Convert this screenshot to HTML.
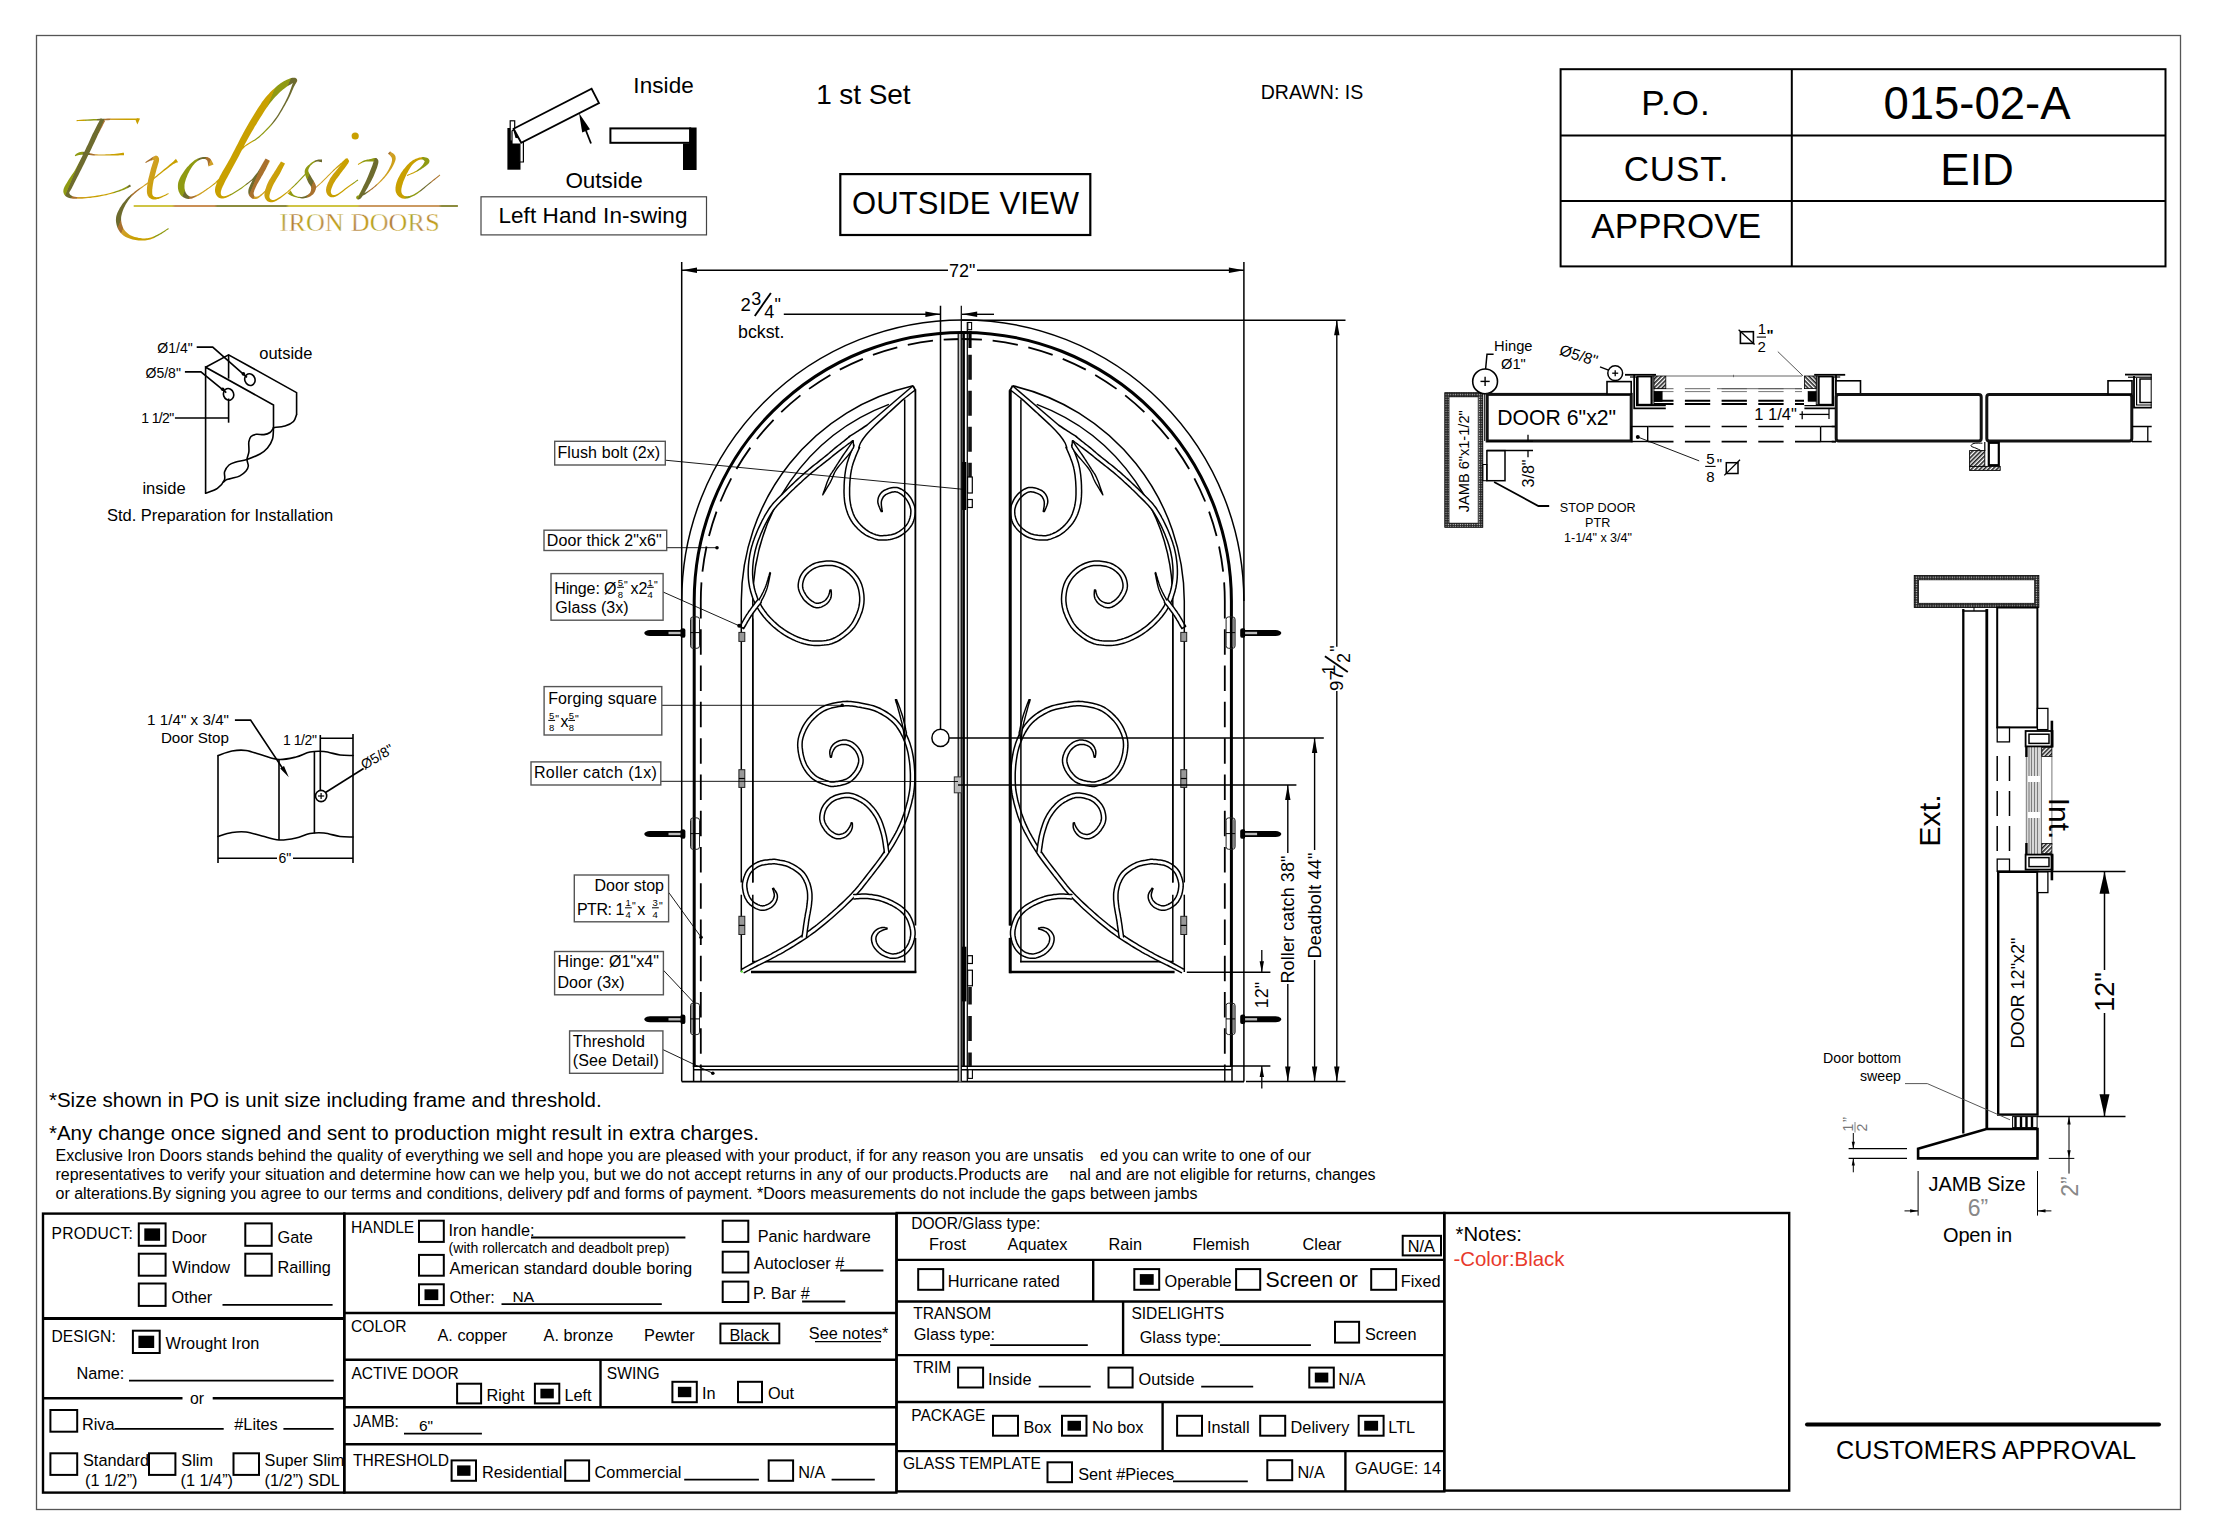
<!DOCTYPE html>
<html><head><meta charset="utf-8"><title>Door shop drawing</title>
<style>
html,body{margin:0;padding:0;background:#fff;}
body{width:2214px;height:1524px;overflow:hidden;}
svg{display:block;font-family:"Liberation Sans",sans-serif;}
</style></head><body>
<svg width="2214" height="1524" viewBox="0 0 2214 1524">
<rect width="2214" height="1524" fill="#fff"/>
<defs>
<linearGradient id="gold" gradientUnits="userSpaceOnUse" x1="0" y1="0" x2="50" y2="21" spreadMethod="repeat">
<stop offset="0" stop-color="#c9a000"/><stop offset="0.30" stop-color="#c9a000"/><stop offset="0.31" stop-color="#8f9a12"/><stop offset="0.5" stop-color="#8f9a12"/><stop offset="0.51" stop-color="#6d6b2e"/><stop offset="0.62" stop-color="#6d6b2e"/><stop offset="0.63" stop-color="#a9712e"/><stop offset="0.72" stop-color="#a9712e"/><stop offset="0.73" stop-color="#d1a02c"/><stop offset="1" stop-color="#c9a000"/>
</linearGradient>
<linearGradient id="gold2" gradientUnits="userSpaceOnUse" x1="133" y1="0" x2="458" y2="0">
<stop offset="0" stop-color="#cfc445"/><stop offset="0.12" stop-color="#cfc445"/><stop offset="0.13" stop-color="#c98f55"/><stop offset="0.25" stop-color="#c98f55"/><stop offset="0.26" stop-color="#8c8b3e"/><stop offset="0.47" stop-color="#8c8b3e"/><stop offset="0.48" stop-color="#cfc445"/><stop offset="0.69" stop-color="#cfc445"/><stop offset="0.70" stop-color="#cb9a62"/><stop offset="0.94" stop-color="#cb9a62"/><stop offset="0.95" stop-color="#8c8b3e"/><stop offset="1" stop-color="#8c8b3e"/>
</linearGradient>
<linearGradient id="gold3" gradientUnits="userSpaceOnUse" x1="0" y1="0" x2="30" y2="9" spreadMethod="repeat">
<stop offset="0" stop-color="#b07a3a"/><stop offset="0.3" stop-color="#c6a11c"/><stop offset="0.6" stop-color="#a9a52a"/><stop offset="0.8" stop-color="#c9a85a"/><stop offset="1" stop-color="#b07a3a"/>
</linearGradient>
<pattern id="hatch" width="3" height="3" patternUnits="userSpaceOnUse" patternTransform="rotate(-45)"><rect width="3" height="3" fill="#fff"/><rect width="3" height="1.6" fill="#222"/></pattern>
<pattern id="dots" width="2.4" height="2.4" patternUnits="userSpaceOnUse"><rect width="2.4" height="2.4" fill="#222"/><rect x="0.6" y="0.6" width="1.1" height="1.1" fill="#ddd"/></pattern>
</defs>
<!-- part_header -->
<rect x="36.5" y="35.5" width="2144" height="1474" stroke="#555" stroke-width="1.3" fill="none" />
<g fill="url(#gold)">
<path d="M76.6 121.2L78.5 121.1L80.9 121L83.8 120.9L87.1 120.8L90.5 120.7L93.9 120.6L97.1 120.5L100 120.4L102.7 120.3L105.3 120.2L107.8 120.2L110.3 120.1L112.8 120L115.2 120L117.6 119.9L120 119.9L122.5 119.9L125.2 119.9L127.9 119.9L130.5 119.9L133 119.9L135.2 120L137.1 120L138.5 120L138.5 118.4L137.1 118.4L135.2 118.4L133 118.4L130.5 118.4L127.9 118.4L125.2 118.5L122.5 118.5L120 118.5L117.6 118.5L115.2 118.5L112.7 118.6L110.3 118.6L107.8 118.6L105.3 118.7L102.6 118.7L100 118.8L97 118.9L93.8 119.1L90.4 119.2L87 119.4L83.8 119.6L80.9 119.8L78.4 119.9L76.6 120Z"/>
<path d="M137 118.2L140 118.4L137.4 124.5L135.6 120.2Z"/>
<path d="M100.8 118.3L100.2 119.3L99.5 120.7L98.7 122.2L97.7 124L96.7 125.9L95.7 127.9L94.7 129.9L93.7 131.9L92.7 133.8L91.8 135.8L90.8 137.9L89.9 140L88.9 142.2L87.9 144.4L86.8 146.6L85.7 148.9L84.6 151.3L83.4 153.8L82.1 156.4L80.8 159L79.5 161.6L78.2 164.1L76.9 166.5L75.7 168.8L74.5 170.9L73.2 172.9L71.9 174.8L70.6 176.7L69.4 178.5L68.3 180.2L67.3 181.9L66.4 183.4L65.7 184.6L65.1 185.8L64.5 186.8L64 187.9L63.6 189L63.4 190.3L63.3 191.7L63.6 193.1L64.1 194.3L64.8 195.3L65.7 196.2L66.8 196.9L67.9 197.5L69.1 197.9L70.3 198.3L71.7 198.5L73.1 198.7L74.7 198.8L76.4 198.8L78.2 198.8L80.1 198.8L82.1 198.7L84 198.5L86.1 198.3L88.1 198.1L90.3 197.9L92.6 197.6L95 197.3L97.3 196.9L99.7 196.5L101.9 196.1L104.1 195.6L106.3 195.2L108.4 194.6L110.6 194.1L112.6 193.5L114.7 192.9L116.6 192.3L118.5 191.7L120.2 191.2L121.9 190.5L123.6 189.9L125.2 189.2L126.7 188.5L128 187.9L129.2 187.3L130.2 186.8L131 186.5L130 184.5L129.2 184.9L128.3 185.5L127.1 186.2L125.8 186.9L124.4 187.7L122.9 188.5L121.4 189.2L119.8 189.8L118.1 190.5L116.2 191.1L114.3 191.7L112.3 192.3L110.2 192.9L108.1 193.4L106 193.9L103.9 194.4L101.7 194.8L99.4 195.2L97.1 195.6L94.8 195.9L92.5 196.2L90.2 196.5L88 196.7L85.9 196.9L84 196.9L82 197L80.1 197L78.2 197L76.5 196.9L74.9 196.7L73.5 196.5L72.3 196.1L71.3 195.6L70.6 195L70 194.4L69.6 193.8L69.4 193.2L69.3 192.7L69.4 192.2L69.4 191.9L69.6 191.8L69.7 191.7L69.9 191.4L70.2 190.9L70.7 190.1L71.2 189.2L71.9 188L72.6 186.6L73.3 185.2L74.1 183.6L75 181.8L76 179.8L77 177.8L78.1 175.7L79.2 173.5L80.3 171.2L81.5 168.9L82.7 166.4L84 163.9L85.3 161.2L86.6 158.6L87.8 156L89.1 153.5L90.3 151.1L91.4 148.8L92.4 146.5L93.5 144.3L94.5 142.2L95.5 140.1L96.5 138L97.4 136.1L98.3 134.1L99.3 132.2L100.3 130.2L101.3 128.3L102.3 126.4L103.2 124.6L104 123L104.7 121.7L105.2 120.7Z"/>
<path d="M75.2 156.2L75.8 156L76.5 155.8L77.3 155.6L78.1 155.3L79.1 155.1L80 154.9L81 154.8L82.1 154.7L83.2 154.7L84.6 154.7L86.2 154.8L87.8 155L89.6 155.1L91.3 155.3L93.2 155.4L95 155.4L96.8 155.5L98.6 155.5L100.5 155.5L102.4 155.5L104.4 155.5L106.3 155.5L108.2 155.5L110 155.4L111.9 155.4L113.9 155.4L116 155.4L118 155.4L119.9 155.3L121.6 155.3L123 155.3L124.1 155.3L123.9 152.7L122.8 152.8L121.4 153L119.7 153.2L117.9 153.4L115.9 153.7L113.9 153.9L111.9 154L110 154.2L108.1 154.2L106.3 154.3L104.4 154.4L102.4 154.4L100.5 154.4L98.6 154.4L96.8 154.3L95 154.2L93.3 153.9L91.6 153.6L89.9 153.2L88.2 152.7L86.5 152.3L84.9 152L83.4 151.8L81.9 151.7L80.6 151.9L79.3 152.2L78.2 152.7L77.2 153.3L76.4 153.8L75.8 154.4L75.2 154.8L74.8 155Z"/>
<path d="M145.8 163L146.2 162.8L146.8 162.5L147.5 162.1L148.2 161.7L149.1 161.3L149.9 160.9L150.6 160.6L151.4 160.4L152.2 160.2L153.1 160L154 159.8L154.9 159.8L155.4 159.8L155.5 160L154.7 159.8L154.1 159.1L153.9 159.1L153.8 159.9L153.4 161.1L153 162.5L152.4 164.1L151.9 165.8L151.3 167.6L150.8 169.3L150.4 171L149.9 172.7L149.5 174.6L149 176.4L148.5 178.3L148.1 180.1L147.8 181.9L147.5 183.6L147.3 185.1L147.1 186.6L147 188.1L146.9 189.5L146.9 190.8L146.9 192.1L147.1 193.4L147.4 194.6L147.8 195.7L148.4 196.6L149 197.4L149.8 198.1L150.6 198.6L151.4 199L152.2 199.2L153 199.4L153.9 199.5L154.8 199.6L155.7 199.5L156.6 199.3L157.4 199.1L158.4 198.9L159.3 198.6L160.2 198.2L161.3 197.8L162.4 197.2L163.7 196.6L164.9 196L166.1 195.4L167.2 194.8L168.1 194.3L168.7 193.9L168.3 193.1L167.6 193.4L166.7 193.8L165.6 194.4L164.4 195L163.2 195.5L161.9 196.1L160.8 196.5L159.8 196.8L158.9 197L158 197.1L157.1 197.2L156.3 197.2L155.6 197.1L155 197L154.4 196.8L154 196.6L153.5 196.3L153.2 195.9L152.9 195.6L152.6 195.2L152.5 194.8L152.4 194.4L152.3 194L152.2 193.4L152.2 192.7L152.2 191.9L152.2 190.9L152.2 189.8L152.4 188.5L152.5 187.2L152.7 185.9L152.9 184.4L153.2 182.9L153.5 181.3L153.9 179.6L154.4 177.8L154.8 175.9L155.3 174.1L155.8 172.3L156.2 170.7L156.6 169.1L157.1 167.5L157.6 165.8L158.1 164.1L158.6 162.5L159 161L159.1 159.5L158.9 157.9L157.8 156.2L156 155.6L154.7 155.9L153.7 156.4L152.8 157L152 157.6L151.3 158.1L150.6 158.6L149.9 159L149.1 159.5L148.3 160L147.6 160.6L146.8 161.1L146.2 161.5L145.6 161.9L145.2 162.2Z"/>
<path d="M175.9 158.8L175.7 159.1L175.4 159.4L175 159.8L174.5 160.2L174 160.8L173.4 161.4L172.7 162L171.9 162.7L171 163.5L170 164.3L168.9 165.2L167.8 166.2L166.6 167.2L165.3 168.2L163.9 169.3L162.6 170.5L161.1 171.7L159.6 173L157.9 174.3L156.3 175.7L154.6 177.1L152.9 178.5L151.2 179.8L149.6 181L148.1 182.2L146.5 183.3L145 184.3L143.5 185.4L142 186.4L140.5 187.4L139 188.4L137.6 189.5L136.2 190.6L134.8 191.6L133.5 192.7L132.1 193.7L130.8 194.8L129.6 195.9L128.3 197.1L127.2 198.3L126 199.5L124.9 200.9L123.8 202.2L122.7 203.6L121.7 205L120.8 206.4L119.9 207.8L119.2 209.2L118.5 210.5L117.9 211.8L117.3 213.1L116.8 214.5L116.4 215.8L116.1 217.2L116 218.6L115.9 220.1L116 221.5L116.2 223L116.5 224.5L116.9 226L117.4 227.4L117.9 228.8L118.6 230.1L119.4 231.3L120.2 232.5L121.2 233.5L122.2 234.5L123.3 235.4L124.5 236.2L125.7 236.9L126.9 237.5L128.2 238.1L129.6 238.6L131 239.1L132.5 239.5L134 239.8L135.5 240L137 240.2L138.5 240.4L139.9 240.5L141.2 240.6L142.5 240.6L143.8 240.5L145.1 240.4L146.4 240.3L147.7 240.1L149 239.8L150.2 239.5L151.5 239L152.8 238.5L154.1 237.9L155.4 237.3L156.7 236.6L157.9 235.9L159.1 235.2L160.3 234.6L161.5 233.9L162.7 233.1L164 232.2L165.2 231.4L166.3 230.6L167.3 229.9L168.1 229.4L168.8 228.9L168.2 228.1L167.6 228.5L166.7 229.1L165.7 229.8L164.6 230.5L163.4 231.3L162.1 232L160.9 232.8L159.7 233.4L158.5 234.1L157.3 234.7L156 235.3L154.8 235.9L153.5 236.5L152.2 237L151 237.4L149.8 237.7L148.6 238L147.4 238.2L146.2 238.3L145 238.4L143.8 238.4L142.6 238.4L141.4 238.3L140.1 238.1L138.8 237.9L137.5 237.6L136.1 237.3L134.7 236.9L133.3 236.5L132.1 236L130.9 235.5L129.8 234.9L128.8 234.3L127.9 233.6L127 232.8L126.2 232L125.4 231.2L124.8 230.4L124.1 229.5L123.6 228.7L123.1 227.7L122.7 226.7L122.3 225.6L121.9 224.5L121.6 223.3L121.4 222.1L121.2 221L121.1 219.9L121.1 218.9L121.1 217.8L121.2 216.8L121.4 215.7L121.7 214.5L122 213.3L122.4 212.1L122.8 210.8L123.3 209.5L123.9 208.1L124.6 206.7L125.3 205.3L126.1 203.8L127 202.4L127.9 201L128.8 199.7L129.8 198.5L130.9 197.3L132 196.1L133.2 195L134.5 193.8L135.7 192.7L137.1 191.6L138.4 190.5L139.8 189.4L141.2 188.4L142.6 187.4L144.1 186.3L145.7 185.3L147.2 184.2L148.8 183.1L150.4 182L152 180.7L153.6 179.4L155.3 178.1L157.1 176.7L158.7 175.3L160.4 174L162 172.7L163.4 171.5L164.8 170.5L166.2 169.4L167.5 168.4L168.8 167.4L170 166.5L171.1 165.7L172.1 164.9L173.1 164.3L174 163.8L174.8 163.4L175.5 163.1L176.2 162.8L176.7 162.6L177.3 162.5L177.7 162.3L178.1 162.2Z"/>
<path d="M213.6 164.6L213.4 164.2L213.1 163.6L212.7 162.8L212.3 161.9L211.8 160.9L211.2 159.9L210.5 159L209.7 158.3L208.9 157.7L208.1 157.4L207.3 157.1L206.4 157L205.6 156.9L204.7 156.9L203.8 157L202.9 157.1L201.9 157.3L200.9 157.5L199.9 157.8L198.8 158.2L197.7 158.6L196.5 159.2L195.4 159.8L194.2 160.6L193.1 161.4L191.9 162.4L190.7 163.5L189.6 164.6L188.4 165.9L187.2 167.1L186.1 168.5L185.1 169.8L184.1 171.2L183.1 172.7L182.1 174.2L181.1 175.8L180.2 177.4L179.5 179L178.8 180.7L178.3 182.3L178 183.9L177.9 185.5L177.9 187.1L178 188.6L178.3 190L178.7 191.4L179.2 192.6L179.8 193.8L180.6 194.9L181.5 195.9L182.6 196.7L183.7 197.4L184.8 198L185.9 198.4L187 198.7L188.1 198.9L189.2 198.9L190.2 198.8L191.2 198.7L192.2 198.4L193.2 198.1L194.2 197.6L195.2 197.2L196.3 196.7L197.4 196.1L198.7 195.4L199.9 194.7L201.2 193.9L202.5 193L203.8 192.2L205.1 191.3L206.3 190.5L207.6 189.6L209 188.6L210.4 187.6L211.7 186.6L213 185.6L214.1 184.7L215.1 184L215.8 183.4L215.2 182.6L214.4 183.1L213.5 183.8L212.3 184.7L211 185.7L209.7 186.7L208.3 187.7L206.9 188.6L205.7 189.5L204.4 190.3L203.1 191.2L201.8 192L200.5 192.8L199.3 193.6L198 194.3L196.8 194.8L195.7 195.3L194.6 195.7L193.6 196L192.7 196.2L191.8 196.4L191 196.4L190.2 196.4L189.5 196.2L188.9 195.9L188.2 195.6L187.6 195.1L187 194.5L186.5 193.8L186.1 193.2L185.7 192.5L185.4 191.8L185.2 191.2L185 190.5L184.8 189.6L184.6 188.7L184.5 187.8L184.5 186.8L184.5 185.8L184.5 184.7L184.7 183.7L184.9 182.5L185.3 181.2L185.7 179.7L186.2 178.2L186.9 176.7L187.5 175.1L188.2 173.6L188.9 172.2L189.6 170.8L190.4 169.5L191.3 168.1L192.1 166.8L193 165.5L193.9 164.4L194.9 163.3L195.8 162.4L196.7 161.7L197.6 161L198.5 160.4L199.5 159.9L200.5 159.5L201.4 159.2L202.3 159L203.1 158.9L203.9 158.9L204.6 158.9L205.2 159.1L205.8 159.4L206.2 159.7L206.7 160L207 160.4L207.3 160.7L207.4 161.1L207.6 161.7L207.8 162.5L207.9 163.3L208 164.2L208.2 165L208.3 165.8L208.4 166.4Z"/>
<path d="M215.9 183.4L216.9 182.3L218.1 181L219.6 179.5L221.2 177.7L223 175.8L224.9 173.7L226.7 171.6L228.5 169.4L230.2 167L232.1 164.3L233.9 161.5L235.8 158.6L237.7 155.8L239.6 153.1L241.5 150.6L243.4 148.4L245.3 146.6L247.3 145.2L249.2 143.9L251.2 142.8L253.3 141.6L255.3 140.4L257.3 139.1L259.4 137.5L261.4 135.6L263.5 133.7L265.6 131.6L267.7 129.5L269.8 127.3L271.8 125L273.7 122.7L275.5 120.4L277.3 118L279 115.4L280.6 112.8L282.2 110.2L283.7 107.5L285.2 105L286.5 102.6L287.7 100.4L288.8 98.3L289.8 96.2L290.7 94.3L291.5 92.5L292.2 90.7L292.9 89.2L293.5 87.7L294.1 86.5L294.7 85.4L295.2 84.5L295.7 83.7L296.1 83L296.5 82.4L296.9 81.8L297.2 81L297.2 80.1L296.8 79L296 78.3L295.1 77.8L294.2 77.7L293.3 77.7L292.4 77.8L291.4 78L290.4 78.3L289.3 78.7L288.1 79.2L286.8 79.7L285.3 80.4L283.8 81.3L282.2 82.2L280.6 83.3L279 84.5L277.3 85.8L275.7 87.2L274 88.7L272.2 90.3L270.4 92.1L268.7 93.9L267 95.8L265.3 97.8L263.6 99.9L262 102.1L260.5 104.4L258.9 106.7L257.4 109.1L255.9 111.5L254.5 113.8L253 116.2L251.6 118.5L250.2 120.8L248.9 123.1L247.5 125.5L246.2 127.8L244.8 130.3L243.4 132.8L242 135.4L240.6 138.1L239.1 141L237.6 143.9L236 146.9L234.5 149.9L233 152.8L231.5 155.7L230.1 158.4L228.6 161.1L227.1 163.8L225.5 166.4L224 169.1L222.5 171.6L221.2 174L219.9 176.3L218.9 178.5L218 180.4L217.2 182.1L216.5 183.7L216 185.2L215.5 186.6L215.2 188L215 189.4L215 190.9L215.2 192.3L215.6 193.6L216.1 194.8L216.8 195.8L217.6 196.7L218.5 197.4L219.4 197.9L220.3 198.3L221.3 198.6L222.2 198.6L223.2 198.5L224.1 198.3L225.1 198.1L226.1 197.7L227.1 197.2L228.3 196.7L229.6 196.1L231 195.3L232.4 194.4L234 193.5L235.6 192.5L237.2 191.5L238.8 190.5L240.3 189.5L241.9 188.4L243.6 187.1L245.3 185.8L247.1 184.5L248.7 183.2L250.2 182.1L251.4 181.1L252.3 180.4L251.7 179.6L250.7 180.3L249.5 181.2L248 182.4L246.4 183.6L244.7 184.9L243 186.2L241.3 187.5L239.7 188.5L238.2 189.5L236.6 190.5L235 191.5L233.4 192.5L231.8 193.4L230.3 194.1L229 194.8L227.7 195.3L226.6 195.7L225.5 196L224.6 196.2L223.8 196.3L223.1 196.3L222.5 196.1L222 195.9L221.7 195.7L221.4 195.3L221.1 194.8L220.9 194.3L220.8 193.7L220.8 193.1L220.8 192.4L220.9 191.8L221 191.1L221.2 190.4L221.5 189.6L221.8 188.6L222.3 187.6L222.8 186.3L223.5 184.9L224.3 183.3L225.1 181.5L226.1 179.6L227.3 177.4L228.6 175L230 172.4L231.4 169.8L232.9 167.1L234.4 164.3L235.9 161.6L237.4 158.8L238.9 155.9L240.4 152.9L242 150L243.5 147L245 144.1L246.5 141.3L248 138.6L249.4 136.1L250.8 133.6L252.1 131.2L253.5 128.9L254.8 126.6L256.2 124.4L257.6 122.1L259 119.8L260.4 117.5L261.9 115.2L263.4 112.8L264.8 110.5L266.3 108.3L267.8 106.2L269.3 104.1L270.7 102.2L272.2 100.4L273.8 98.6L275.4 96.8L277 95.2L278.6 93.6L280.1 92.1L281.6 90.8L283 89.5L284.4 88.4L285.7 87.5L287 86.6L288.3 85.8L289.5 85L290.7 84.4L291.7 83.8L292.6 83.3L293.3 82.9L293.9 82.6L294.3 82.3L294.5 82.2L294.5 82L294.2 81.8L293.9 81.4L293.8 80.9L293.9 80.7L293.9 80.7L293.8 81.1L293.6 81.7L293.3 82.4L292.9 83.3L292.4 84.3L291.9 85.5L291.4 86.9L290.9 88.4L290.3 90L289.7 91.7L289 93.6L288.2 95.5L287.3 97.5L286.3 99.6L285.1 101.9L283.9 104.3L282.5 106.8L281 109.5L279.5 112.1L277.9 114.7L276.2 117.2L274.5 119.6L272.7 121.9L270.8 124.2L268.8 126.4L266.8 128.6L264.7 130.8L262.7 132.8L260.6 134.7L258.6 136.5L256.6 138.1L254.7 139.4L252.7 140.6L250.6 141.7L248.6 142.9L246.6 144.2L244.6 145.7L242.6 147.6L240.6 149.8L238.6 152.4L236.7 155.1L234.8 158L232.9 160.9L231 163.7L229.3 166.3L227.5 168.6L225.8 170.8L224 172.9L222.1 175L220.4 176.9L218.7 178.7L217.3 180.3L216 181.6L215.1 182.6Z"/>
<path d="M252.4 180.4L253.2 179.4L254.4 178.1L255.7 176.6L257.2 174.9L258.7 173.2L260.2 171.5L261.6 169.9L262.8 168.6L263.9 167.3L265.1 166L266.2 164.7L267.3 163.5L268.2 162.4L268.9 161.7L269.2 161.5L265.1 159.3L264.9 159.4L264.4 160.4L263.6 161.8L262.6 163.4L261.6 165.3L260.5 167.2L259.5 169L258.6 170.6L257.7 172.1L256.7 173.6L255.8 175.1L254.8 176.7L253.8 178.2L252.9 179.8L252 181.2L251.3 182.7L250.7 184L250.1 185.2L249.6 186.4L249.1 187.6L248.7 188.8L248.4 190L248.3 191.3L248.3 192.5L248.5 193.7L248.9 194.9L249.4 195.9L250.1 196.8L250.9 197.6L251.7 198.2L252.5 198.7L253.4 199L254.3 199.1L255.1 199.1L256 199L256.8 198.8L257.7 198.4L258.5 197.9L259.5 197.3L260.4 196.6L261.5 195.7L262.7 194.6L263.9 193.4L265.2 192.1L266.6 190.7L267.9 189.3L269.2 187.8L270.4 186.3L271.7 184.8L273 183L274.3 181.1L275.6 179.2L276.8 177.4L277.9 175.7L278.8 174.4L279.5 173.3L278.5 172.7L277.8 173.7L276.9 175.1L275.8 176.7L274.7 178.6L273.4 180.5L272.1 182.3L270.8 184.1L269.6 185.7L268.3 187.1L267.1 188.5L265.7 189.9L264.4 191.3L263.1 192.5L261.8 193.7L260.6 194.6L259.6 195.4L258.6 196L257.7 196.4L257 196.6L256.3 196.7L255.7 196.7L255.3 196.6L254.9 196.4L254.6 196.2L254.3 195.9L254.1 195.6L253.9 195.1L253.8 194.6L253.7 194L253.6 193.4L253.7 192.9L253.7 192.5L253.9 192L254.1 191.4L254.3 190.6L254.6 189.7L255.1 188.8L255.5 187.7L256.1 186.5L256.7 185.3L257.3 184.1L258.1 182.7L258.9 181.3L259.8 179.7L260.7 178.2L261.6 176.6L262.6 175L263.4 173.4L264.3 171.7L265.4 169.9L266.4 168L267.4 166.1L268.3 164.3L269.1 162.8L269.6 161.7L269.9 160.7L265.6 158.5L265.3 159.3L264.9 160.3L264.3 161.5L263.6 163L262.9 164.5L262.1 166L261.2 167.4L260.2 168.8L259 170.5L257.6 172.3L256.1 174.1L254.7 175.8L253.4 177.4L252.4 178.7L251.6 179.6Z"/>
<path d="M281 161.4L280.5 162.2L279.9 163.2L279.1 164.5L278.2 165.8L277.3 167.3L276.4 168.8L275.5 170.2L274.6 171.6L273.8 172.9L272.9 174.2L272.1 175.6L271.2 177L270.3 178.4L269.4 179.8L268.6 181.3L267.9 182.8L267.2 184.2L266.6 185.7L266.1 187.2L265.6 188.7L265.1 190.1L264.8 191.6L264.5 192.9L264.4 194.3L264.4 195.5L264.6 196.6L264.9 197.7L265.4 198.7L265.9 199.5L266.5 200.3L267.2 200.9L267.9 201.4L268.7 201.8L269.5 202.1L270.4 202.2L271.3 202.3L272.3 202.2L273.3 202.1L274.3 201.8L275.3 201.3L276.4 200.8L277.6 200.1L278.8 199.3L280.1 198.5L281.4 197.5L282.7 196.5L284 195.5L285.3 194.4L286.7 193.3L288 192.2L289.4 190.9L290.9 189.6L292.3 188.3L293.7 187L295 185.7L296.4 184.4L297.8 183L299.2 181.6L300.7 180L302.1 178.5L303.5 177.1L304.7 175.8L305.7 174.8L306.5 173.9L305.5 173.1L304.8 173.9L303.8 175L302.6 176.3L301.2 177.7L299.8 179.2L298.4 180.8L297 182.2L295.6 183.6L294.3 184.9L292.9 186.2L291.5 187.6L290.1 188.9L288.7 190.1L287.4 191.4L286 192.5L284.7 193.6L283.3 194.6L282 195.6L280.6 196.5L279.3 197.3L278 198.1L276.8 198.8L275.7 199.3L274.7 199.7L273.8 199.9L273 199.9L272.3 199.9L271.7 199.7L271.1 199.5L270.7 199.2L270.3 198.9L270.1 198.6L269.8 198.3L269.7 197.9L269.5 197.5L269.5 197.1L269.4 196.6L269.4 196L269.5 195.4L269.6 194.7L269.8 193.9L270.1 192.9L270.4 191.8L270.9 190.5L271.4 189.2L271.9 187.9L272.5 186.5L273.1 185.2L273.7 184L274.4 182.7L275.2 181.4L276 180L276.9 178.6L277.7 177.2L278.6 175.8L279.4 174.4L280.2 172.9L281 171.4L281.8 169.8L282.6 168.3L283.3 166.8L284 165.5L284.5 164.4L285 163.6Z"/>
<path d="M322 159.3L321.6 159.4L321 159.4L320.3 159.5L319.4 159.5L318.5 159.6L317.6 159.8L316.6 160L315.8 160.3L314.9 160.6L314.1 161.1L313.3 161.5L312.4 162L311.6 162.6L310.8 163.2L310.1 163.8L309.4 164.4L308.7 165L308 165.6L307.3 166.3L306.6 167L306 167.8L305.4 168.8L305 169.8L304.7 170.9L304.7 172.2L304.8 173.4L305.1 174.6L305.5 175.8L305.9 176.9L306.3 178L306.7 179.1L307.2 180.1L307.7 181.2L308.3 182.4L308.9 183.4L309.6 184.4L310.1 185.3L310.6 186.1L310.9 186.8L311 187.3L311.1 187.9L311.2 188.6L311.1 189.3L311 190.1L310.9 190.8L310.6 191.5L310.3 192.2L309.9 192.9L309.3 193.5L308.7 194.1L307.9 194.7L306.9 195.3L306 195.8L304.9 196.2L303.9 196.6L302.9 196.8L301.9 196.9L300.8 196.9L299.6 196.8L298.4 196.7L297.3 196.4L296.2 196.1L295.2 195.7L294.3 195.3L293.6 194.8L293 194.2L292.4 193.5L292 192.8L291.6 192.1L291.2 191.4L290.8 190.8L290.5 190.3L287.5 193.7L287.9 193.9L288.4 194.1L289.1 194.5L289.9 195L290.8 195.5L291.7 195.9L292.7 196.3L293.7 196.7L294.7 197L295.8 197.3L297 197.6L298.2 197.9L299.4 198.1L300.7 198.3L301.9 198.4L303.1 198.4L304.3 198.3L305.5 198.1L306.7 197.8L307.9 197.4L309 196.9L310.2 196.4L311.2 195.8L312.1 195.1L313 194.4L313.7 193.5L314.4 192.5L315 191.5L315.4 190.4L315.8 189.2L316 188L316 186.7L315.8 185.3L315.3 184L314.7 182.8L314.1 181.7L313.5 180.6L312.9 179.7L312.3 178.8L311.8 177.9L311.3 176.9L310.7 175.9L310.2 174.9L309.6 174L309.1 173.1L308.7 172.3L308.4 171.6L308.3 171.1L308.3 170.5L308.3 169.9L308.5 169.2L308.8 168.5L309.2 167.7L309.6 167L310.1 166.3L310.6 165.6L311.2 165L311.8 164.4L312.5 163.8L313.2 163.2L314 162.7L314.8 162.3L315.5 162L316.2 161.7L316.9 161.6L317.7 161.6L318.5 161.6L319.3 161.8L320.1 161.9L320.8 162.1L321.5 162.2L322 162.3Z"/>
<path d="M313.3 190.4L314 189.8L314.9 189L315.9 188.1L317.1 187.1L318.3 186L319.7 184.8L321 183.6L322.3 182.4L323.7 181L325.2 179.5L326.8 177.9L328.4 176.3L330 174.7L331.6 173.1L333 171.7L334.4 170.4L335.6 169.3L336.9 168.2L338.1 167.2L339.2 166.2L340.2 165.4L341.1 164.7L341.9 164.1L342.5 163.6L341.5 162.4L340.9 162.9L340.2 163.6L339.3 164.4L338.3 165.3L337.2 166.2L336.1 167.3L334.9 168.4L333.6 169.6L332.3 170.9L330.8 172.4L329.3 173.9L327.7 175.6L326.1 177.2L324.5 178.8L323 180.3L321.7 181.6L320.3 182.9L319 184.1L317.7 185.3L316.4 186.4L315.3 187.4L314.2 188.3L313.3 189L312.7 189.6Z"/>
<path d="M342.4 163.6L342.9 163.5L343.7 163.2L344.7 162.8L345.7 162.4L346.6 162.2L347.1 162.1L346.3 162.3L344.8 160L344.7 159.9L344.1 160.6L343.3 161.7L342.3 162.9L341.2 164.3L340.1 165.7L338.9 167.1L337.9 168.4L337 169.6L336 170.8L335 172L333.9 173.3L332.9 174.6L331.9 175.9L331 177.2L330.1 178.6L329.4 180L328.7 181.4L328 182.8L327.4 184.2L326.9 185.7L326.4 187.1L326.2 188.4L326 189.8L326.1 191.1L326.3 192.3L326.8 193.4L327.3 194.4L327.9 195.2L328.7 195.9L329.4 196.5L330.2 196.9L331 197.2L331.8 197.3L332.7 197.3L333.6 197.2L334.4 197L335.3 196.7L336.3 196.2L337.3 195.7L338.5 194.9L339.8 194L341.2 193L342.6 191.9L344.1 190.7L345.6 189.6L347 188.5L348.3 187.4L349.7 186.5L351.1 185.4L352.6 184.4L354 183.4L355.3 182.5L356.5 181.6L357.5 180.9L358.3 180.4L357.7 179.6L356.9 180.1L355.9 180.8L354.7 181.7L353.4 182.6L352 183.6L350.5 184.6L349.1 185.6L347.7 186.6L346.3 187.6L344.9 188.6L343.4 189.8L341.9 190.9L340.4 192L339 193L337.8 193.8L336.7 194.3L335.7 194.7L334.8 195L334 195.1L333.4 195.1L332.9 195L332.4 194.8L332.1 194.6L331.8 194.3L331.5 194L331.3 193.6L331.1 193.1L330.9 192.6L330.9 192L330.8 191.4L330.9 190.8L331 190.2L331.2 189.5L331.5 188.6L331.9 187.5L332.4 186.3L332.9 185.1L333.5 183.8L334.2 182.6L334.9 181.4L335.6 180.3L336.4 179.1L337.3 177.9L338.2 176.7L339.2 175.4L340.2 174.1L341.1 172.8L342.1 171.6L343 170.3L344.1 168.9L345.2 167.4L346.3 166L347.3 164.6L348.1 163.4L348.7 162.3L349.2 161L347.5 158.2L345.8 158.5L345 159.2L344.2 159.9L343.4 160.7L342.6 161.4L342 162L341.6 162.4Z"/>
<circle cx="355.2" cy="136" r="3.6"/>
<path d="M358.2 164.9L358.7 164.7L359.3 164.3L360 163.9L360.8 163.5L361.7 163L362.6 162.6L363.4 162.2L364.2 162L365 161.8L365.9 161.6L366.8 161.5L367.7 161.4L368.6 161.4L369.5 161.4L370.3 161.4L371.1 161.4L371.9 161.5L372.8 161.5L373.6 161.6L374.2 161.7L374.5 161.9L374.3 161.9L373.9 161.6L373.6 161.3L373.5 161.6L373.3 162.4L372.9 163.6L372.5 164.9L371.9 166.4L371.3 168L370.7 169.5L370.1 171L369.5 172.5L368.9 173.9L368.3 175.4L367.7 176.9L367 178.4L366.4 179.9L365.7 181.4L365 183L364.2 184.6L363.3 186.3L362.4 188.2L361.5 190L360.6 191.7L359.8 193.2L359.1 194.5L358.5 195.4L358.2 195.9L358 196.1L358 196.1L358.3 196.1L358.8 196.4L359.3 197.3L359 198.1L358.8 198.3L359.1 198L359.8 197.6L360.7 197.1L361.7 196.5L362.8 195.8L364 195.1L365.2 194.4L366.4 193.6L367.5 192.8L368.7 192L370 191.1L371.2 190.1L372.5 189.2L373.8 188.1L375.1 187.1L376.4 185.9L377.7 184.8L379 183.5L380.3 182.2L381.7 180.9L383 179.5L384.3 178.2L385.5 176.8L386.6 175.5L387.7 174.1L388.7 172.7L389.7 171.2L390.7 169.8L391.6 168.4L392.4 167L393.1 165.7L393.7 164.5L394.2 163.4L394.7 162.3L395.1 161.3L395.4 160.3L395.6 159.4L395.7 158.4L395.6 157.4L395.4 156.3L394.9 155.3L394.1 154.3L393.3 153.6L392.5 152.9L391.6 152.4L390.9 152L390.4 151.6L390 151.4L388 153.6L388.4 154L389 154.5L389.6 155.1L390.2 155.7L390.7 156.3L391.2 156.9L391.5 157.3L391.6 157.7L391.7 158.1L391.9 158.6L392 159.2L392 159.8L392 160.6L391.8 161.5L391.6 162.4L391.3 163.5L390.9 164.7L390.3 166L389.7 167.3L389 168.8L388.2 170.2L387.3 171.7L386.4 173.2L385.4 174.5L384.4 175.9L383.2 177.3L382 178.7L380.8 180L379.5 181.4L378.2 182.7L376.9 183.9L375.6 185.1L374.4 186.2L373.1 187.2L371.8 188.2L370.5 189.2L369.3 190.1L368 190.9L366.8 191.7L365.6 192.4L364.5 193L363.2 193.6L362 194.1L360.8 194.5L359.7 194.9L358.7 195.2L357.9 195.5L357.2 195.7L356.4 196.4L356.1 197.7L356.8 198.9L357.8 199.4L358.8 199.4L359.8 199.1L360.7 198.4L361.5 197.6L362.2 196.5L363.1 195.2L364 193.7L365.1 192L366.1 190.2L367.2 188.4L368.2 186.7L369 185L369.9 183.5L370.7 182L371.5 180.5L372.2 179L373 177.4L373.7 175.9L374.3 174.4L374.9 173L375.5 171.5L376.1 169.9L376.8 168.3L377.3 166.7L377.8 165.1L378.2 163.6L378.4 162.2L378.4 160.7L377.7 159.2L376.4 158.1L375.1 157.9L374.1 158L373.2 158.2L372.4 158.5L371.6 158.8L370.9 159L370.1 159.1L369.3 159.2L368.4 159.4L367.4 159.6L366.5 159.8L365.6 160.1L364.6 160.3L363.8 160.6L362.9 161L362 161.5L361.1 162L360.3 162.5L359.5 163L358.8 163.4L358.2 163.8L357.8 164.1Z"/>
<path d="M407.2 176L407.9 175.7L408.9 175.3L410 174.8L411.3 174.3L412.6 173.7L413.9 173.2L415.2 172.6L416.3 172L417.3 171.5L418.3 170.9L419.3 170.3L420.3 169.8L421.2 169.2L422.1 168.6L423 168L423.8 167.4L424.7 166.8L425.5 166.2L426.4 165.5L427.3 164.8L428.1 164.1L428.8 163.2L429.4 162.1L429.5 160.6L428.9 159.2L428 158.3L426.9 157.8L425.9 157.4L424.7 157.2L423.6 157.1L422.5 157.1L421.4 157.2L420.4 157.4L419.3 157.6L418.1 158L416.9 158.4L415.7 158.8L414.5 159.4L413.2 160.1L412.1 160.8L410.9 161.7L409.8 162.6L408.6 163.7L407.5 164.8L406.4 166L405.4 167.2L404.4 168.4L403.4 169.6L402.5 170.9L401.5 172.3L400.6 173.8L399.8 175.2L399 176.7L398.3 178.1L397.6 179.6L397.1 181L396.6 182.3L396.2 183.7L395.9 185L395.7 186.3L395.5 187.6L395.5 188.9L395.5 190.2L395.7 191.4L396 192.6L396.5 193.6L397.1 194.7L397.8 195.6L398.5 196.3L399.3 197L400.2 197.6L401.1 198.1L402.1 198.4L403 198.6L404 198.7L405.1 198.7L406.1 198.6L407.1 198.4L408.2 198.2L409.2 197.9L410.3 197.5L411.3 197.1L412.4 196.6L413.5 196L414.7 195.4L415.8 194.7L417.1 193.9L418.4 193L419.7 192.1L421.2 190.9L422.7 189.7L424.3 188.4L425.9 187.1L427.4 185.8L428.9 184.6L430.3 183.4L431.8 182.3L433.2 181.1L434.7 179.9L436.1 178.8L437.4 177.7L438.6 176.8L439.6 176L440.3 175.4L439.7 174.6L438.9 175.2L437.9 176L436.7 176.9L435.4 178L434 179.1L432.5 180.3L431.1 181.5L429.7 182.6L428.2 183.7L426.7 184.9L425.1 186.2L423.6 187.5L422 188.8L420.5 190L419 191L417.6 192L416.4 192.8L415.1 193.5L414 194.2L412.9 194.7L411.8 195.2L410.8 195.6L409.8 195.9L408.8 196.1L407.8 196.2L406.9 196.3L406.1 196.2L405.2 196.1L404.5 195.9L403.9 195.6L403.3 195.3L402.9 194.9L402.5 194.5L402.2 194.1L401.9 193.6L401.7 193L401.5 192.4L401.4 191.8L401.3 191.2L401.3 190.6L401.3 190L401.4 189.2L401.5 188.3L401.7 187.4L401.9 186.4L402.2 185.3L402.6 184.2L402.9 183L403.3 181.8L403.8 180.5L404.4 179.2L405 177.8L405.6 176.4L406.2 175L406.9 173.6L407.6 172.4L408.3 171.1L409.1 169.8L409.8 168.5L410.6 167.3L411.4 166.1L412.2 165L413.1 164L413.9 163.2L414.8 162.4L415.8 161.7L416.8 161L417.8 160.5L418.8 160L419.8 159.7L420.8 159.5L421.6 159.4L422.3 159.5L423 159.8L423.7 160.2L424.2 160.7L424.6 161.2L424.8 161.6L424.7 161.8L424.5 161.4L424.6 161L424.6 161.2L424.5 161.7L424.2 162.4L423.8 163.2L423.3 164L422.8 164.9L422.2 165.6L421.6 166.3L420.9 167L420.1 167.7L419.3 168.4L418.5 169.1L417.6 169.7L416.7 170.4L415.7 171L414.7 171.6L413.5 172.2L412.2 172.8L410.9 173.3L409.6 173.9L408.5 174.3L407.5 174.7L406.8 175Z"/>
</g>
<rect x="133.7" y="205" width="324.2" height="2" fill="url(#gold2)"/>
<text x="279.6" y="230.6" font-family="'Liberation Serif',serif" font-size="26" fill="url(#gold3)" stroke="#fff" stroke-width="0.3" textLength="160" lengthAdjust="spacing">IRON DOORS</text>
<rect x="507.4" y="128" width="13.1" height="41.7" fill="#000"/>
<rect x="510.2" y="120.8" width="4.5" height="20.2" stroke="#000" stroke-width="1.2" fill="#fff" />
<path d="M513.8 129.4L516 137.5L519.8 137.6L523.4 137.6L523.4 162L519.9 162L519.9 144L512 144L512 131Z" stroke="#000" stroke-width="1.2" fill="#fff" />
<path d="M513.6 128.8L591.6 88.8L599 103L521.2 142.8Z" stroke="#000" stroke-width="1.8" fill="#fff" />
<path d="M591 143.5L581 118" stroke="#000" stroke-width="1.8" fill="none" />
<path d="M579.1 113.2L590 129.3L582.2 132.4Z" fill="#000"/>
<rect x="610.4" y="128.4" width="79.8" height="14.4" stroke="#000" stroke-width="2" fill="#fff" />
<path d="M689.3 127.4H696.6V169.9H683V143.6H689.3Z" fill="#000"/>
<text x="633.3" y="93" font-size="22.5" textLength="60.5" lengthAdjust="spacing" >Inside</text>
<text x="565.4" y="188.4" font-size="22.5" textLength="77.3" lengthAdjust="spacing" >Outside</text>
<rect x="481" y="196.8" width="225.5" height="38.1" stroke="#444" stroke-width="1.2" fill="none" />
<text x="498.4" y="222.7" font-size="22.5" textLength="189" lengthAdjust="spacing" >Left Hand In-swing</text>
<text x="816.2" y="104.3" font-size="28" textLength="94.3" lengthAdjust="spacing" >1 st Set</text>
<text x="1260.7" y="98.6" font-size="19.5" textLength="102.6" lengthAdjust="spacing" >DRAWN: IS</text>
<rect x="840.3" y="174.1" width="250" height="60.9" stroke="#000" stroke-width="2.2" fill="none" />
<text x="852" y="213.9" font-size="31" textLength="227" lengthAdjust="spacing" >OUTSIDE VIEW</text>
<rect x="1560.6" y="69.2" width="604.9" height="197.2" stroke="#000" stroke-width="2" fill="none" />
<path d="M1560.6 135.4L2165.5 135.4" stroke="#000" stroke-width="2" fill="none" />
<path d="M1560.6 200.9L2165.5 200.9" stroke="#000" stroke-width="2" fill="none" />
<path d="M1791.8 69.2L1791.8 266.4" stroke="#000" stroke-width="2" fill="none" />
<text x="1675.5" y="115.3" font-size="35" text-anchor="middle" textLength="68.5" lengthAdjust="spacing" >P.O.</text>
<text x="1676" y="181.1" font-size="35" text-anchor="middle" textLength="104.6" lengthAdjust="spacing" >CUST.</text>
<text x="1676.2" y="238.3" font-size="35" text-anchor="middle" textLength="170" lengthAdjust="spacing" >APPROVE</text>
<text x="1977" y="119.3" font-size="45.5" text-anchor="middle" textLength="187" lengthAdjust="spacing" >015-02-A</text>
<text x="1977" y="184.8" font-size="44" text-anchor="middle" >EID</text>
<path d="M1807 1424.5L2159 1424.5" stroke="#000" stroke-width="4" fill="none" stroke-linecap="round"/>
<text x="1836" y="1459.2" font-size="25.2" textLength="300" lengthAdjust="spacing" >CUSTOMERS APPROVAL</text>
<!-- part_door -->
<path d="M681.7 261.9V1081.6" stroke="#000" stroke-width="1.5" fill="none"/>
<path d="M1243.9 261.9V1081.6" stroke="#000" stroke-width="1.5" fill="none"/>
<path d="M681.7 601 A281.1 281.1 0 0 1 1243.9 601" fill="none" stroke="#000" stroke-width="1.5"/>
<path d="M694.2 1066.8V601 A268.6 268.6 0 0 1 1231.4 601 V1066.8" fill="none" stroke="#000" stroke-width="3"/>
<path d="M693.6 1066L693.6 1081.6" stroke="#000" stroke-width="1.5" fill="none" />
<path d="M1232 1066L1232 1081.6" stroke="#000" stroke-width="1.5" fill="none" />
<g fill="none" stroke="#000" stroke-width="1.8"><path d="M700.8 1066V601" stroke-dasharray="25.5 10.77" stroke-dashoffset="24.07"/><path d="M962.8 339 A262 262 0 0 0 700.8 601" stroke-dasharray="25.5 10.77" stroke-dashoffset="6.3"/></g>
<g transform="translate(1925.6 0) scale(-1 1)" fill="none" stroke="#000" stroke-width="1.8"><path d="M700.8 1066V601" stroke-dasharray="25.5 10.77" stroke-dashoffset="24.07"/><path d="M962.8 339 A262 262 0 0 0 700.8 601" stroke-dasharray="25.5 10.77" stroke-dashoffset="6.3"/></g>
<path d="M694 1066.2L1231.5 1066.2" stroke="#000" stroke-width="1.6" fill="none" />
<path d="M694 1069.8L1231.5 1069.8" stroke="#000" stroke-width="1.6" fill="none" />
<path d="M681.7 1081.6L1244 1081.6" stroke="#000" stroke-width="1.8" fill="none" />
<path d="M701 1066L701 1081.6" stroke="#000" stroke-width="1.4" fill="none" />
<path d="M1224.8 1066L1224.8 1081.6" stroke="#000" stroke-width="1.4" fill="none" />
<g><path d="M752.8 882.4V601 A210 210 0 0 1 888.9 404.4" fill="none" stroke="#000" stroke-width="1.5"/>
<path d="M752 961.6L905.5 961.6" stroke="#000" stroke-width="1.8" fill="none" />
<path d="M751 972L916.3 972" stroke="#000" stroke-width="2.6" fill="none" />
<path d="M849.6 436.5L848.6 437.3L847.3 438.4L845.7 439.7L843.9 441.1L842 442.5L840.1 444.1L838.2 445.5L836.5 446.9L834.9 448.2L833.3 449.5L831.8 450.9L830.2 452.2L828.7 453.5L827.1 454.8L825.5 456.1L823.8 457.5L822.1 458.9L820.4 460.2L818.6 461.6L816.8 463.1L814.9 464.5L813.1 465.9L811.3 467.4L809.6 468.8L807.9 470.3L806.2 471.7L804.5 473.1L802.9 474.6L801.3 476L799.7 477.5L798.1 478.9L796.5 480.4L795 481.8L793.5 483.2L792 484.6L790.5 486L789.1 487.4L787.6 488.8L786 490.4L784.4 491.9L782.8 493.6L781.1 495.3L779.3 497L777.5 498.8L775.7 500.7L773.9 502.6L772.2 504.6L770.5 506.7L769 508.8L767.6 511.1L766.2 513.3L764.8 515.6L763.6 518L762.3 520.3L761.2 522.7L760 525.1L758.9 527.4L757.8 529.8L756.8 532.3L755.8 534.8L754.8 537.2L754 539.6L753.1 542L752.4 544.4L751.7 546.6L751.1 548.9L750.6 551.1L750.1 553.3L749.7 555.4L749.4 557.5L749.1 559.6L748.8 561.7L748.6 563.8L748.4 565.9L748.3 568L748.2 570.1L748.2 572.1L748.2 574.1L748.3 576.2L748.4 578.2L748.6 580.2L748.8 582.1L749.1 584.1L749.4 586L749.8 588L750.3 589.9L750.7 591.8L751.3 593.6L751.9 595.5L752.5 597.3L753.2 599.2L754 601L754.8 602.8L755.7 604.6L756.6 606.4L757.6 608.1L758.7 609.9L759.8 611.6L761 613.3L762.3 615L763.6 616.7L765 618.3L766.4 619.9L767.9 621.5L769.5 623.1L771.1 624.7L772.7 626.2L774.4 627.7L776.2 629.2L778 630.6L779.9 632L781.8 633.3L783.7 634.6L785.7 635.8L787.7 637L789.8 638.1L791.9 639.2L794 640.1L796.1 641.1L798.1 641.9L800.1 642.6L802.1 643.2L804.1 643.8L806.1 644.3L808.1 644.7L810.2 645.1L812.3 645.3L814.5 645.4L816.8 645.4L819.2 645.4L821.6 645.3L824.1 645.1L826.6 644.8L829.2 644.4L831.7 643.7L834.1 642.8L836.5 641.8L838.9 640.5L841.3 639L843.6 637.4L845.8 635.7L847.9 634L849.9 632.2L851.7 630.4L853.3 628.6L854.8 626.7L856.1 624.7L857.3 622.7L858.3 620.7L859.3 618.7L860.2 616.7L860.9 614.8L861.7 612.9L862.3 611L862.8 609L863.3 607.1L863.6 605.1L863.9 603.2L864 601.2L864.1 599.2L864 597.1L863.9 595L863.6 592.9L863.3 590.8L862.9 588.6L862.3 586.6L861.7 584.5L860.9 582.6L860.1 580.8L859.1 579L858 577.3L856.8 575.7L855.6 574.2L854.3 572.7L852.9 571.3L851.6 570.1L850.1 568.8L848.6 567.7L847.1 566.7L845.5 565.7L843.9 564.8L842.2 564L840.6 563.3L839 562.7L837.5 562.2L835.9 561.8L834.3 561.5L832.7 561.3L831.1 561.1L829.6 561L828 561L826.4 561.1L824.7 561.2L823 561.4L821.3 561.7L819.5 562L817.8 562.4L816 562.9L814.3 563.5L812.7 564.2L811.2 565.1L809.7 566L808.2 567L806.7 568.2L805.4 569.4L804.1 570.6L803 572L802 573.4L801.1 574.9L800.3 576.4L799.6 578.1L799.1 579.7L798.7 581.4L798.4 583.1L798.2 584.8L798.2 586.5L798.4 588.2L798.7 589.8L799.3 591.4L799.9 593L800.6 594.5L801.4 595.9L802.2 597.2L803 598.5L803.9 599.7L805 600.9L806.1 601.9L807.2 602.9L808.4 603.8L809.5 604.7L810.6 605.4L811.6 606L812.6 606.5L813.5 607L814.5 607.3L815.4 607.5L816.3 607.7L817.3 607.7L818.2 607.7L819.1 607.6L820.1 607.4L821.1 607.1L822.1 606.7L823.1 606.2L824.1 605.7L825 605.1L825.9 604.5L826.7 603.9L827.4 603.2L828.1 602.5L828.7 601.7L829.3 600.9L829.8 600L830.3 599.1L830.7 598.3L831 597.3L831.2 596.3L831.3 595.3L831.4 594.2L831.3 593.1L831.3 592.2L831.2 591.3L831.1 590.6L831.1 590.1L830.1 589.9L830 590.5L829.8 591.2L829.6 592L829.4 593L829.1 593.9L828.8 594.8L828.5 595.6L828.2 596.3L827.8 596.9L827.4 597.5L827 598.2L826.5 598.8L826 599.4L825.5 600L824.9 600.5L824.3 600.9L823.7 601.3L823 601.7L822.2 602.1L821.4 602.4L820.6 602.7L819.9 603L819.1 603.1L818.5 603.2L817.9 603.3L817.3 603.3L816.8 603.3L816.3 603.2L815.7 603.1L815.2 602.9L814.5 602.6L813.8 602.2L813 601.7L812 601.1L811 600.3L810.1 599.6L809.1 598.7L808.2 597.8L807.3 596.9L806.6 595.9L805.9 594.9L805.2 593.7L804.5 592.5L803.9 591.2L803.4 589.9L803 588.7L802.7 587.5L802.6 586.3L802.6 585.1L802.7 583.7L803 582.4L803.3 581L803.8 579.6L804.3 578.2L804.9 577L805.6 575.8L806.4 574.7L807.4 573.6L808.4 572.6L809.6 571.5L810.8 570.6L812.1 569.7L813.4 568.9L814.7 568.2L816 567.6L817.4 567.1L818.9 566.6L820.4 566.3L822 566L823.6 565.8L825.1 565.6L826.6 565.5L828.1 565.4L829.5 565.4L830.9 565.5L832.2 565.6L833.5 565.8L834.9 566.1L836.2 566.4L837.6 566.9L839 567.4L840.4 568L841.9 568.7L843.3 569.5L844.7 570.4L846.1 571.3L847.4 572.3L848.6 573.3L849.8 574.5L851 575.7L852.2 577L853.3 578.4L854.3 579.8L855.3 581.3L856.1 582.8L856.9 584.4L857.5 586L858.1 587.8L858.6 589.6L859 591.6L859.3 593.5L859.5 595.5L859.7 597.4L859.7 599.2L859.7 601L859.5 602.7L859.3 604.5L859 606.2L858.6 607.9L858.1 609.7L857.5 611.4L856.9 613.2L856.1 615L855.3 616.9L854.4 618.7L853.4 620.6L852.4 622.4L851.2 624.1L849.9 625.8L848.5 627.4L846.9 629L845.1 630.6L843.1 632.3L841 633.8L838.9 635.3L836.7 636.7L834.6 637.8L832.5 638.8L830.4 639.5L828.2 640.1L826 640.5L823.7 640.8L821.4 640.9L819.1 641L816.8 641L814.7 641L812.7 640.9L810.8 640.7L808.9 640.4L807.1 640L805.2 639.6L803.4 639L801.6 638.4L799.7 637.7L797.7 637L795.8 636.1L793.8 635.2L791.8 634.2L789.9 633.1L787.9 632L786.1 630.9L784.2 629.7L782.5 628.4L780.7 627.1L779 625.8L777.3 624.4L775.7 622.9L774.1 621.5L772.6 620L771.1 618.5L769.7 617L768.3 615.4L767 613.9L765.8 612.3L764.6 610.7L763.5 609.1L762.4 607.5L761.4 605.9L760.5 604.2L759.6 602.6L758.8 600.9L758 599.3L757.3 597.6L756.7 595.8L756.1 594.1L755.5 592.4L755 590.6L754.5 588.8L754.1 587L753.8 585.2L753.4 583.4L753.2 581.6L753 579.7L752.8 577.8L752.7 575.9L752.6 574L752.6 572.1L752.6 570.2L752.7 568.2L752.8 566.3L753 564.3L753.2 562.3L753.4 560.2L753.7 558.2L754.1 556.2L754.5 554.1L754.9 552L755.4 550L756 547.8L756.6 545.6L757.3 543.4L758.1 541.1L759 538.7L759.9 536.4L760.8 534L761.9 531.6L762.9 529.3L764 526.9L765.1 524.7L766.3 522.3L767.5 520.1L768.7 517.8L770 515.6L771.3 513.4L772.6 511.3L774.1 509.3L775.6 507.4L777.2 505.5L778.9 503.7L780.6 501.9L782.4 500.1L784.2 498.4L785.9 496.7L787.6 495.1L789.1 493.5L790.6 492L792.1 490.5L793.6 489.2L795 487.8L796.5 486.4L798 485L799.5 483.6L801.1 482.2L802.6 480.8L804.2 479.3L805.8 477.9L807.4 476.5L809.1 475L810.7 473.6L812.4 472.2L814.1 470.8L815.9 469.4L817.7 467.9L819.5 466.5L821.3 465.1L823.1 463.7L824.8 462.3L826.6 460.9L828.3 459.6L829.9 458.3L831.5 457L833.1 455.7L834.7 454.4L836.3 453.2L837.9 451.9L839.5 450.7L841.2 449.4L843.1 447.9L845 446.5L846.9 445L848.7 443.7L850.4 442.5L851.8 441.4L852.8 440.7" fill="#fff" stroke="#000" stroke-width="1.5" stroke-linejoin="round" stroke-linecap="round"/>
<path d="M913 385.8L866.5 425.5" stroke="#000" stroke-width="1.5" fill="none" />
<path d="M866.5 425.5C864.9 426.5 859.9 429.8 857 431.7C854.1 433.6 850.3 435.9 849 436.7" fill="none" stroke="#000" stroke-width="1.5" stroke-linecap="round"/>
<path d="M854 445.1L853.7 445.9L853.2 447L852.7 448.2L852 449.7L851.4 451.2L850.7 452.8L850.1 454.4L849.5 456L849 457.5L848.5 458.9L848 460.5L847.5 462L847 463.6L846.6 465.3L846.2 467.1L845.8 469L845.5 470.9L845.2 472.9L844.9 475L844.7 477.2L844.5 479.4L844.3 481.6L844.2 483.7L844.1 485.9L844.1 488.1L844 490.2L844 492.4L844.1 494.7L844.2 496.9L844.4 499.1L844.6 501.3L844.9 503.5L845.4 505.5L845.8 507.6L846.4 509.6L847 511.6L847.7 513.6L848.5 515.5L849.4 517.4L850.3 519.2L851.4 521L852.5 522.7L853.7 524.3L855 525.9L856.4 527.3L857.7 528.7L859.1 530L860.5 531.3L861.8 532.4L863.3 533.4L864.7 534.4L866.2 535.3L867.6 536L869.1 536.7L870.5 537.4L871.9 537.9L873.2 538.4L874.4 538.9L875.7 539.3L876.9 539.6L878.2 539.9L879.6 540L881.1 540.1L882.7 540.1L884.4 540L886.2 539.9L888.2 539.7L890.2 539.4L892.3 539L894.3 538.4L896.3 537.8L898.2 537L900.1 536L901.8 535L903.6 533.7L905.3 532.4L906.9 531L908.4 529.5L909.7 527.9L910.9 526.3L912 524.6L912.9 522.8L913.6 520.9L914.2 518.9L914.7 517L915 515L915.2 513.1L915.3 511.3L915.2 509.5L914.9 507.7L914.5 505.9L913.9 504.3L913.2 502.7L912.5 501.1L911.8 499.7L911 498.3L910.1 497L909.1 495.7L908.1 494.5L907 493.4L905.8 492.4L904.7 491.4L903.6 490.6L902.5 489.8L901.4 489.2L900.3 488.7L899.2 488.2L898 487.8L896.9 487.6L895.7 487.5L894.4 487.4L893.2 487.5L891.8 487.7L890.4 488L888.9 488.4L887.4 489L885.9 489.6L884.5 490.2L883.2 491L882.1 491.9L881.1 492.9L880.2 494L879.5 495.1L878.9 496.3L878.4 497.5L878.1 498.8L877.9 500L877.8 501.4L877.9 502.8L878.3 504.3L878.8 505.8L879.4 507.3L880 508.7L880.5 509.9L881 510.9L881.3 511.6L882.3 511.4L882.2 510.5L882 509.4L881.8 508.1L881.5 506.7L881.4 505.2L881.3 503.8L881.3 502.6L881.4 501.6L881.6 500.7L881.9 499.8L882.3 498.9L882.7 498.1L883.1 497.3L883.7 496.5L884.3 495.9L884.9 495.3L885.7 494.7L886.7 494.2L887.8 493.6L889 493.1L890.2 492.7L891.5 492.3L892.6 492L893.6 491.9L894.5 491.8L895.4 491.8L896.2 491.9L896.9 492.1L897.7 492.3L898.5 492.7L899.3 493.1L900.1 493.6L901 494.2L902 494.9L902.9 495.7L903.9 496.6L904.8 497.5L905.7 498.5L906.5 499.6L907.2 500.7L907.9 501.8L908.6 503.1L909.2 504.4L909.8 505.8L910.2 507.2L910.6 508.6L910.8 509.9L910.9 511.3L910.8 512.8L910.7 514.4L910.4 516L910 517.7L909.4 519.4L908.8 521L908.1 522.5L907.3 523.9L906.3 525.2L905.2 526.5L903.9 527.8L902.5 529L901 530.2L899.4 531.3L897.9 532.2L896.4 533L894.8 533.7L893.1 534.2L891.3 534.7L889.5 535L887.6 535.3L885.8 535.5L884.1 535.6L882.5 535.7L881.2 535.7L880 535.7L878.9 535.5L877.9 535.3L876.9 535.1L875.8 534.8L874.7 534.3L873.5 533.9L872.3 533.3L871 532.7L869.7 532.1L868.5 531.3L867.2 530.5L865.9 529.7L864.7 528.7L863.5 527.7L862.4 526.6L861.1 525.4L859.9 524.1L858.7 522.7L857.6 521.3L856.5 519.8L855.6 518.3L854.7 516.8L853.9 515.2L853.2 513.6L852.6 511.8L852 510.1L851.5 508.2L851 506.4L850.6 504.5L850.3 502.5L850 500.6L849.8 498.6L849.7 496.6L849.6 494.5L849.6 492.4L849.6 490.3L849.6 488.2L849.7 486.1L849.8 484L849.9 481.9L850.1 479.8L850.3 477.8L850.5 475.7L850.8 473.7L851.1 471.8L851.4 470L851.8 468.4L852.1 466.8L852.6 465.2L853 463.8L853.5 462.3L854 460.9L854.6 459.4L855.1 458L855.6 456.6L856.2 455.1L856.9 453.5L857.5 452.1L858.1 450.7L858.7 449.4L859.2 448.3L859.6 447.5" fill="#fff" stroke="#000" stroke-width="1.5" stroke-linejoin="round" stroke-linecap="round"/>
<path d="M915.5 389.8C913.5 391.4 908.1 395.3 903.7 399.1C899.3 402.9 893.8 408.1 889 412.5C884.2 416.9 878.8 421.8 875 425.5C871.2 429.2 868.4 432.1 866 435C863.6 437.9 861.7 440.8 860.5 443C859.3 445.2 859.1 447.2 858.8 448" fill="none" stroke="#000" stroke-width="1.5" stroke-linecap="round"/>
<path d="M853.2 440.7L852.3 442L851.1 443.7L849.7 445.8L848.1 448.1L846.5 450.5L844.8 452.8L843.3 455L842 457L840.8 458.8L839.7 460.5L838.7 462.1L837.7 463.7L836.7 465.2L835.8 466.6L834.9 468L834.1 469.3L833.3 470.5L832.7 471.4L832.1 472.3L831.5 473.1L831 473.9L830.4 474.9L829.8 476.1L829.1 477.5L828.3 479.4L827.4 481.6L826.5 484.1L825.6 486.7L824.7 489.2L823.9 491.6L823.2 493.5L822.7 494.9L822.7 494.9L823.3 493.9L824.2 492.5L825.2 490.8L826.3 489L827.4 487.1L828.6 485.2L829.7 483.3L830.6 481.6L831.4 480L832.1 478.5L832.7 477L833.3 475.5L833.9 474.1L834.6 472.5L835.5 471L836.5 469.3L837.8 467.5L839.3 465.6L841 463.6L842.7 461.6L844.4 459.6L846.1 457.7L847.6 456L848.8 454.5L849.8 453.2L850.7 452L851.4 450.9L852 449.9L852.5 449L853 448.3L853.4 447.6L853.7 447.1Z" fill="#fff" stroke="#000" stroke-width="1.4" stroke-linejoin="round"/>
<path d="M769.9 572.6L769.5 573.8L769.1 575.4L768.5 577.3L767.9 579.4L767.2 581.6L766.5 583.9L765.8 586L765 588L764.1 590L763.2 592L762.1 594.1L761 596.2L759.9 598.2L759 599.9L758.2 601.4L757.6 602.5L759.8 604L760.3 602.9L761.1 601.6L761.9 599.9L762.9 598.1L763.9 596.1L764.9 594L765.7 592L766.5 590L767.2 587.9L767.8 585.6L768.4 583.1L768.9 580.6L769.4 578.3L769.8 576.1L770.2 574.3L770.5 573Z" fill="#fff" stroke="#000" stroke-width="1.4" stroke-linejoin="round"/>
<path d="M757.8 599.7L757.4 600.1L756.9 600.8L756.3 601.5L755.6 602.4L754.9 603.3L754.2 604.2L753.4 605.2L752.7 606.2L752 607.1L751.3 608.1L750.6 609.1L749.8 610.2L749 611.2L748.3 612.4L747.5 613.6L746.6 614.8L745.8 616.2L744.8 617.8L743.8 619.5L742.9 621.2L741.9 622.8L741.1 624.3L740.4 625.5L739.9 626.4L743.7 628.6L744.2 627.7L744.9 626.5L745.8 625L746.7 623.4L747.6 621.7L748.6 620.1L749.5 618.5L750.4 617.2L751.1 616L751.9 614.9L752.6 613.8L753.4 612.7L754.1 611.7L754.9 610.7L755.6 609.8L756.3 608.8L757 607.9L757.7 606.9L758.4 606L759.1 605.1L759.8 604.2L760.4 603.5L760.9 602.8L761.2 602.3" fill="#fff" stroke="#000" stroke-width="1.5" stroke-linejoin="round" stroke-linecap="round"/>
<path d="M744.2 972.6L745.1 972.2L746.2 971.6L747.5 970.9L749.1 970.1L750.7 969.2L752.4 968.3L754.2 967.4L756 966.5L757.8 965.5L759.8 964.6L761.8 963.6L763.9 962.6L766.1 961.5L768.3 960.4L770.7 959.2L773 957.9L775.5 956.6L778 955.2L780.7 953.8L783.4 952.3L786.1 950.7L788.8 949.1L791.5 947.5L794.2 945.9L796.8 944.2L799.4 942.5L802 940.8L804.7 939.1L807.3 937.3L809.9 935.5L812.5 933.6L815 931.8L817.5 929.9L820 927.9L822.5 925.9L825 923.9L827.4 921.9L829.9 919.8L832.3 917.7L834.8 915.5L837.3 913.3L839.8 911L842.4 908.7L845 906.3L847.5 903.8L850 901.4L852.3 899.1L854.6 896.7L856.7 894.5L858.6 892.3L860.4 890.3L862.1 888.2L863.8 886L865.6 883.8L867.5 881.4L869.5 878.8L871.8 875.9L874.2 872.7L876.8 869.4L879.4 866L882 862.5L884.6 859L887.1 855.5L889.3 852.1L891.5 848.7L893.6 845.3L895.6 841.9L897.5 838.5L899.3 835.2L901.1 831.8L902.7 828.5L904.2 825.2L905.6 821.9L906.8 818.7L908 815.4L909 812.2L909.9 809.1L910.8 806L911.6 803.1L912.2 800.2L912.9 797.5L913.4 794.9L913.8 792.4L914.1 790L914.4 787.6L914.6 785.2L914.7 782.7L914.8 780L914.8 777.2L914.8 774.3L914.7 771.3L914.5 768.3L914.3 765.3L914 762.3L913.6 759.4L913.2 756.6L912.7 754L912.2 751.4L911.6 748.9L910.9 746.5L910.2 744.1L909.4 741.7L908.5 739.4L907.5 737.1L906.5 734.8L905.3 732.6L904.2 730.4L902.9 728.1L901.5 726L900 723.9L898.3 721.9L896.6 720L894.6 718.1L892.6 716.4L890.4 714.7L888.1 713L885.7 711.5L883.3 710.1L880.9 708.8L878.5 707.7L876 706.7L873.4 705.8L870.8 705.1L868.1 704.4L865.5 703.9L863 703.4L860.6 703L858.4 702.6L856.3 702.3L854.4 702L852.6 701.7L850.8 701.5L849 701.4L847.1 701.3L845.1 701.4L843 701.6L840.6 701.9L838.2 702.3L835.6 702.7L832.9 703.2L830.2 703.9L827.5 704.7L824.9 705.6L822.5 706.7L820.2 708L818 709.5L815.9 711.1L813.9 712.8L812 714.6L810.2 716.4L808.5 718.3L807 720.1L805.5 722.1L804.2 724.1L803 726.2L801.9 728.3L801 730.5L800.1 732.6L799.4 734.6L798.8 736.6L798.3 738.6L798 740.5L797.8 742.3L797.7 744.1L797.7 745.9L797.8 747.7L798 749.5L798.2 751.3L798.5 753.2L798.9 755.1L799.3 757.1L799.8 759.1L800.5 761.1L801.2 763.1L802 765L802.9 766.8L803.9 768.6L804.9 770.3L806.1 772L807.4 773.7L808.8 775.2L810.2 776.7L811.7 778.1L813.3 779.4L815 780.5L816.9 781.6L818.9 782.5L820.9 783.3L822.8 784L824.7 784.6L826.3 785.2L827.8 785.6L828.9 786L830 786.2L830.9 786.4L831.8 786.5L832.7 786.5L833.6 786.5L834.5 786.3L835.6 786.2L837 786L838.5 785.7L840.3 785.4L842.1 785L843.9 784.6L845.7 784L847.5 783.3L849.2 782.5L850.7 781.6L852.1 780.5L853.4 779.4L854.7 778.1L855.9 776.9L856.9 775.5L857.9 774.2L858.8 772.9L859.7 771.5L860.5 770.1L861.1 768.6L861.8 767.1L862.3 765.6L862.7 764.1L863 762.5L863.1 761L863.1 759.5L862.9 758L862.6 756.5L862.2 755L861.7 753.7L861.2 752.3L860.6 751.1L859.9 749.9L859.1 748.7L858.3 747.6L857.4 746.5L856.4 745.5L855.4 744.5L854.3 743.7L853.3 742.9L852.2 742.2L851.1 741.6L850 741.1L848.9 740.7L847.7 740.4L846.6 740.1L845.4 740L844.2 740L843 740L841.9 740.2L840.6 740.4L839.4 740.8L838.3 741.2L837.1 741.7L836.1 742.3L835.1 742.9L834.2 743.6L833.3 744.3L832.6 745.2L832 746L831.4 746.9L830.9 747.8L830.6 748.7L830.2 749.6L830 750.5L829.8 751.5L829.8 752.5L829.8 753.5L829.9 754.4L830.1 755.3L830.2 756.1L830.3 756.7L830.4 757.2L831.4 757.2L831.5 756.7L831.6 756.1L831.7 755.3L831.9 754.5L832.1 753.6L832.3 752.8L832.5 752.1L832.8 751.5L833.2 750.8L833.5 750.1L833.9 749.4L834.4 748.8L834.8 748.1L835.3 747.5L835.9 747L836.4 746.6L837.1 746.2L837.9 745.8L838.8 745.4L839.7 745.1L840.7 744.8L841.6 744.6L842.5 744.5L843.4 744.4L844.2 744.4L845 744.4L845.9 744.5L846.7 744.7L847.5 744.9L848.4 745.2L849.2 745.6L850 746L850.8 746.5L851.6 747.1L852.5 747.8L853.3 748.6L854.1 749.4L854.9 750.3L855.5 751.2L856.1 752.1L856.6 753.1L857.2 754.2L857.6 755.3L858 756.4L858.3 757.5L858.6 758.6L858.7 759.7L858.7 760.8L858.6 761.9L858.4 763.1L858 764.3L857.6 765.6L857.1 766.9L856.5 768.1L855.9 769.3L855.2 770.5L854.4 771.7L853.5 772.8L852.5 774L851.5 775.1L850.5 776.1L849.3 777.1L848.2 777.9L847 778.7L845.8 779.3L844.3 779.8L842.7 780.3L841.1 780.7L839.4 781.1L837.8 781.4L836.3 781.6L835 781.8L833.9 782L833.1 782.1L832.5 782.1L832 782.1L831.6 782.1L831 782L830.2 781.7L829 781.4L827.6 781L826 780.5L824.3 779.9L822.5 779.2L820.7 778.5L818.9 777.7L817.3 776.8L815.9 775.8L814.6 774.8L813.3 773.6L812 772.3L810.8 770.9L809.7 769.4L808.6 767.9L807.6 766.3L806.7 764.8L806 763.2L805.3 761.5L804.6 759.7L804.1 757.9L803.6 756.1L803.2 754.3L802.8 752.5L802.6 750.7L802.4 749L802.2 747.4L802.1 745.8L802.1 744.2L802.2 742.6L802.3 741.1L802.6 739.5L803 737.8L803.6 736L804.2 734.1L805 732.2L805.9 730.2L806.9 728.3L808 726.4L809.1 724.6L810.4 722.9L811.8 721.1L813.4 719.4L815.1 717.7L816.8 716.1L818.7 714.5L820.6 713.1L822.5 711.8L824.5 710.7L826.6 709.7L828.9 708.9L831.3 708.1L833.8 707.5L836.4 707L838.8 706.6L841.2 706.3L843.4 706L845.4 705.8L847.2 705.7L848.8 705.8L850.4 705.9L852 706.1L853.7 706.3L855.6 706.6L857.6 707L859.9 707.3L862.2 707.8L864.7 708.2L867.2 708.7L869.6 709.3L872.1 710L874.5 710.8L876.7 711.7L878.9 712.8L881.2 714L883.4 715.3L885.6 716.7L887.8 718.2L889.8 719.8L891.7 721.4L893.4 723L895 724.8L896.5 726.6L897.8 728.5L899.1 730.5L900.3 732.5L901.4 734.6L902.5 736.7L903.5 738.9L904.4 741.1L905.2 743.2L906 745.4L906.7 747.7L907.3 750L907.9 752.4L908.4 754.8L908.8 757.4L909.2 760L909.6 762.8L909.9 765.7L910.1 768.6L910.3 771.5L910.4 774.4L910.4 777.3L910.4 780L910.3 782.5L910.2 784.9L910 787.2L909.8 789.5L909.4 791.8L909 794.1L908.5 796.6L908 799.2L907.3 802L906.5 804.9L905.7 807.9L904.8 810.9L903.8 814L902.7 817.1L901.5 820.3L900.2 823.4L898.7 826.6L897.2 829.8L895.5 833.1L893.7 836.4L891.8 839.7L889.8 843.1L887.8 846.4L885.7 849.7L883.4 853L881 856.5L878.5 859.9L875.9 863.4L873.3 866.8L870.8 870L868.3 873.1L866.1 876L864 878.7L862.1 881.1L860.4 883.3L858.7 885.4L857 887.4L855.3 889.4L853.4 891.5L851.4 893.7L849.2 896L846.9 898.3L844.4 900.7L841.9 903.1L839.4 905.4L836.9 907.8L834.3 910L831.8 912.3L829.4 914.4L827 916.5L824.6 918.5L822.2 920.5L819.7 922.5L817.3 924.5L814.9 926.4L812.4 928.2L809.9 930.1L807.3 931.9L804.8 933.7L802.2 935.4L799.6 937.2L797 938.8L794.4 940.5L791.8 942.1L789.2 943.7L786.6 945.3L783.9 946.9L781.2 948.4L778.5 949.9L775.9 951.4L773.4 952.7L771 954.1L768.6 955.3L766.4 956.5L764.1 957.6L762 958.6L759.9 959.6L757.8 960.6L755.9 961.6L754 962.5L752.2 963.5L750.4 964.5L748.7 965.4L747 966.3L745.5 967.1L744.2 967.9L743.1 968.5L742.2 969" fill="#fff" stroke="#000" stroke-width="1.5" stroke-linejoin="round" stroke-linecap="round"/>
<path d="M895.4 699.8L895.7 700.7L896 701.9L896.5 703.3L897 704.9L897.5 706.6L898 708.4L898.5 710.2L899 712L899.5 713.8L900 715.8L900.6 717.9L901.1 720L901.7 722.1L902.2 724.2L902.6 726.2L903 728L903.3 729.8L903.6 731.6L903.8 733.3L903.9 735L904.1 736.6L904.2 737.9L904.3 739.1L904.4 740L906.5 733L906.2 731.7L905.8 729.9L905.4 727.8L904.9 725.5L904.3 723.1L903.7 720.6L903.1 718.2L902.5 716L901.8 713.8L901 711.5L900.2 709.1L899.3 706.7L898.5 704.5L897.7 702.5L897.1 700.9L896.6 699.6Z" fill="#fff" stroke="#000" stroke-width="1.4" stroke-linejoin="round"/>
<path d="M888.8 851.9L888.6 850.5L888.3 848.6L888 846.4L887.7 843.9L887.2 841.2L886.8 838.6L886.3 836L885.7 833.6L885.1 831.3L884.5 829.1L883.8 826.9L883.1 824.7L882.3 822.5L881.5 820.4L880.5 818.3L879.5 816.4L878.5 814.5L877.3 812.6L876.1 810.8L874.8 809.1L873.5 807.4L872.1 805.9L870.7 804.4L869.3 803L867.8 801.7L866.3 800.5L864.7 799.4L863 798.3L861.4 797.4L859.9 796.6L858.3 795.8L856.9 795.2L855.5 794.6L854.2 794.1L852.9 793.7L851.5 793.4L850.2 793.2L848.9 793.1L847.4 793L846 793.1L844.4 793.2L842.7 793.5L840.9 793.8L839.1 794.2L837.3 794.7L835.5 795.3L833.8 796L832.2 796.8L830.7 797.7L829.3 798.7L828 799.9L826.7 801.1L825.5 802.4L824.4 803.7L823.4 805.1L822.6 806.6L821.8 808.1L821.2 809.7L820.7 811.3L820.3 813L820 814.7L819.8 816.4L819.7 818L819.8 819.6L820.1 821.2L820.5 822.8L821 824.2L821.7 825.7L822.4 827L823.2 828.2L824 829.4L824.7 830.5L825.6 831.6L826.5 832.6L827.4 833.5L828.4 834.4L829.4 835.1L830.4 835.8L831.3 836.5L832.2 837L833.1 837.5L834 837.9L834.9 838.3L835.8 838.5L836.7 838.7L837.6 838.8L838.5 838.8L839.5 838.8L840.5 838.7L841.5 838.4L842.5 838.1L843.5 837.8L844.5 837.3L845.5 836.8L846.4 836.3L847.2 835.6L848 834.9L848.8 834.1L849.5 833.2L850.1 832.4L850.7 831.5L851.2 830.6L851.6 829.7L852 828.8L852.2 827.9L852.4 827L852.4 826.1L852.4 825.3L852.4 824.5L852.4 823.8L852.3 823.3L852.3 822.9L851.3 822.7L851.2 823.1L851 823.7L850.8 824.3L850.5 825L850.2 825.7L849.9 826.4L849.6 827L849.2 827.6L848.8 828.2L848.4 828.9L847.8 829.6L847.3 830.3L846.7 831L846.1 831.6L845.5 832.2L845 832.6L844.3 832.9L843.6 833.3L842.9 833.6L842.1 833.9L841.3 834.1L840.5 834.2L839.8 834.4L839.1 834.4L838.5 834.4L837.9 834.4L837.4 834.3L836.8 834.2L836.3 834.1L835.7 833.8L835.1 833.6L834.4 833.2L833.6 832.7L832.9 832.2L832 831.6L831.2 831L830.4 830.3L829.6 829.5L828.9 828.7L828.3 827.9L827.6 826.9L826.9 825.9L826.2 824.8L825.6 823.7L825.1 822.5L824.7 821.4L824.4 820.3L824.2 819.2L824.1 818L824.2 816.7L824.3 815.3L824.6 813.9L824.9 812.5L825.3 811.1L825.9 809.8L826.4 808.6L827.1 807.5L827.9 806.4L828.8 805.2L829.8 804.2L830.9 803.1L832 802.2L833.2 801.4L834.4 800.6L835.6 800L837.1 799.4L838.6 798.9L840.2 798.5L841.8 798.1L843.3 797.8L844.9 797.6L846.2 797.5L847.5 797.4L848.6 797.5L849.7 797.6L850.7 797.7L851.7 798L852.8 798.3L853.9 798.7L855.1 799.2L856.5 799.8L857.9 800.5L859.3 801.3L860.8 802.1L862.2 803L863.6 804L865 805.1L866.3 806.2L867.6 807.5L868.8 808.8L870.1 810.2L871.3 811.8L872.5 813.4L873.6 815L874.7 816.7L875.7 818.4L876.6 820.2L877.4 822.1L878.2 824.1L878.9 826.1L879.6 828.2L880.3 830.4L880.9 832.5L881.5 834.6L882 836.9L882.5 839.3L882.9 841.9L883.3 844.5L883.6 847L884 849.2L884.2 851.1L884.4 852.5" fill="#fff" stroke="#000" stroke-width="1.5" stroke-linejoin="round" stroke-linecap="round"/>
<path d="M806.4 937.5L806.6 936.1L806.9 934.2L807.2 931.9L807.5 929.4L807.9 926.8L808.3 924.2L808.6 921.7L809 919.5L809.3 917.6L809.6 915.7L810 913.9L810.3 912.1L810.6 910.4L810.9 908.6L811.2 906.9L811.4 905.3L811.6 903.6L811.7 902.1L811.9 900.5L812 899L812 897.5L812 896L812 894.5L811.9 893L811.7 891.5L811.5 890L811.2 888.5L810.9 887L810.5 885.5L810.1 884L809.6 882.5L809 881.2L808.4 879.8L807.8 878.5L807.1 877.2L806.4 875.9L805.6 874.6L804.6 873.3L803.6 872.1L802.4 870.9L801.1 869.7L799.7 868.6L798.2 867.5L796.6 866.4L794.9 865.4L793.2 864.4L791.6 863.6L790 862.8L788.3 862.1L786.6 861.6L784.9 861.1L783.2 860.7L781.6 860.4L780.1 860.2L778.8 859.9L777.6 859.7L776.6 859.6L775.8 859.4L775 859.3L774.3 859.3L773.6 859.3L772.9 859.3L772.1 859.4L771.1 859.5L769.9 859.6L768.5 859.7L767 859.9L765.4 860.1L763.7 860.3L762 860.7L760.3 861.1L758.7 861.7L757.2 862.3L755.7 863.1L754.3 863.9L752.9 864.9L751.5 865.9L750.3 866.9L749.1 868L748 869.2L747.1 870.5L746.2 871.8L745.5 873.2L744.9 874.6L744.4 876L743.9 877.3L743.5 878.6L743.2 879.8L742.9 881L742.7 882.1L742.5 883.2L742.4 884.3L742.4 885.4L742.4 886.4L742.5 887.5L742.6 888.6L742.8 889.7L743 890.9L743.2 892.1L743.5 893.3L743.8 894.5L744.3 895.8L744.7 896.9L745.2 898.1L745.8 899.1L746.4 900.2L747 901.2L747.7 902.2L748.5 903.1L749.4 904.1L750.3 904.9L751.3 905.7L752.3 906.5L753.5 907.2L754.7 907.9L756 908.6L757.3 909.1L758.6 909.6L759.9 910L761.2 910.2L762.6 910.3L763.9 910.2L765.1 910L766.3 909.7L767.5 909.3L768.5 908.9L769.5 908.4L770.5 907.9L771.4 907.4L772.2 906.7L773 906L773.7 905.2L774.4 904.5L775 903.7L775.5 902.9L775.9 902.1L776.3 901.3L776.7 900.4L777 899.6L777.2 898.7L777.4 897.8L777.4 896.9L777.4 896L777.3 895L777 894L776.6 893L776 892L775.4 891L774.8 890.1L774.3 889.3L773.9 888.7L773.6 888.2L772.6 888.6L772.8 889.2L773.1 889.9L773.4 890.9L773.7 891.8L773.9 892.8L774.2 893.8L774.3 894.7L774.3 895.4L774.3 896L774.2 896.6L774 897.2L773.8 897.8L773.6 898.4L773.3 899L773 899.6L772.7 900.1L772.3 900.7L771.8 901.3L771.3 901.8L770.8 902.4L770.2 902.9L769.6 903.3L769 903.7L768.3 904.1L767.6 904.4L766.8 904.8L765.9 905.1L765.1 905.4L764.2 905.7L763.4 905.8L762.5 905.9L761.8 905.8L760.9 905.7L759.9 905.4L758.9 905L757.8 904.6L756.8 904L755.7 903.5L754.8 902.9L753.9 902.3L753.2 901.6L752.5 901L751.9 900.3L751.2 899.5L750.7 898.7L750.1 897.9L749.6 897L749.2 896.1L748.8 895.2L748.4 894.3L748.1 893.3L747.8 892.2L747.5 891.1L747.3 890.1L747.1 889L747 888L746.9 887.1L746.8 886.2L746.8 885.3L746.8 884.5L746.9 883.7L747 882.8L747.2 882L747.4 881L747.7 879.9L748.1 878.7L748.5 877.5L749 876.3L749.5 875.1L750 874L750.7 872.9L751.4 872L752.2 871.1L753.2 870.2L754.2 869.3L755.4 868.5L756.6 867.7L757.8 866.9L759.1 866.3L760.3 865.7L761.6 865.3L762.9 864.9L764.4 864.7L765.9 864.4L767.5 864.3L768.9 864.1L770.3 864L771.5 863.9L772.5 863.8L773.2 863.7L773.8 863.7L774.2 863.7L774.6 863.7L775.1 863.8L775.9 863.9L776.8 864.1L778 864.3L779.4 864.5L780.8 864.7L782.3 865L783.9 865.4L785.4 865.8L786.8 866.3L788.2 866.8L789.6 867.5L791.1 868.3L792.7 869.1L794.2 870.1L795.6 871.1L797 872.1L798.3 873.1L799.4 874.1L800.3 875.1L801.2 876.1L801.9 877.1L802.6 878.2L803.3 879.3L803.9 880.4L804.4 881.6L805 882.8L805.5 884.1L805.9 885.3L806.3 886.6L806.6 888L806.9 889.3L807.2 890.7L807.4 892L807.5 893.4L807.6 894.7L807.6 896.1L807.6 897.4L807.6 898.8L807.5 900.2L807.3 901.7L807.2 903.2L807 904.7L806.8 906.3L806.6 907.9L806.3 909.6L806 911.3L805.6 913.1L805.3 914.9L805 916.9L804.6 918.9L804.3 921.1L803.9 923.5L803.5 926.1L803.2 928.8L802.8 931.3L802.5 933.6L802.2 935.5L802 936.9" fill="#fff" stroke="#000" stroke-width="1.5" stroke-linejoin="round" stroke-linecap="round"/>
<path d="M853.9 899L855 898.9L856.4 898.8L858.1 898.7L860 898.6L862 898.5L863.9 898.5L865.8 898.5L867.6 898.6L869.4 898.8L871.2 899L872.9 899.2L874.7 899.6L876.5 899.9L878.3 900.3L880.1 900.8L881.9 901.4L883.7 902L885.6 902.7L887.5 903.5L889.3 904.4L891.2 905.2L892.9 906.2L894.6 907.1L896.1 908L897.5 909L898.9 910L900.2 911L901.4 912.1L902.5 913.1L903.5 914.3L904.5 915.4L905.4 916.6L906.2 917.8L906.9 919.1L907.6 920.5L908.2 922L908.7 923.4L909.2 924.9L909.6 926.3L910 927.6L910.2 928.9L910.5 930L910.6 931.1L910.7 932.2L910.7 933.3L910.7 934.4L910.6 935.4L910.4 936.6L910.2 937.7L910 938.9L909.6 940.1L909.2 941.3L908.8 942.5L908.3 943.6L907.8 944.7L907.2 945.6L906.6 946.6L905.9 947.5L905.2 948.4L904.5 949.2L903.7 949.9L902.9 950.6L902 951.2L901.1 951.8L900.2 952.3L899.2 952.7L898.1 953.1L896.9 953.4L895.8 953.7L894.7 953.8L893.6 953.9L892.5 953.9L891.5 953.8L890.4 953.6L889.2 953.3L888.1 952.9L886.9 952.5L885.8 952L884.7 951.4L883.8 950.8L882.8 950.2L881.9 949.5L881.1 948.8L880.2 948L879.4 947.2L878.7 946.3L878.1 945.5L877.6 944.7L877.2 943.9L876.8 943L876.5 942.2L876.2 941.3L876.1 940.4L875.9 939.5L875.9 938.8L875.9 938.1L876 937.5L876.1 936.9L876.3 936.3L876.6 935.6L876.9 935L877.3 934.4L877.7 933.8L878.1 933.3L878.5 932.8L878.9 932.5L879.3 932.1L879.8 931.7L880.4 931.4L880.9 931.1L881.5 930.8L882.1 930.5L882.6 930.3L883.2 930L883.9 929.8L884.7 929.6L885.4 929.4L886 929.2L886.6 929.1L887 929L887 928L886.5 928L886 927.9L885.3 927.8L884.5 927.6L883.7 927.6L882.9 927.5L882 927.5L881.1 927.7L880.4 927.9L879.7 928.1L878.9 928.4L878.2 928.7L877.4 929.1L876.7 929.6L876 930.1L875.3 930.7L874.7 931.3L874.1 932L873.5 932.8L873 933.6L872.5 934.5L872 935.5L871.7 936.6L871.5 937.7L871.5 938.8L871.5 940L871.7 941.1L871.9 942.3L872.3 943.5L872.7 944.7L873.2 945.8L873.8 946.9L874.5 948L875.3 949L876.2 950.1L877.1 951.1L878.1 952L879.2 953L880.3 953.8L881.4 954.6L882.6 955.3L883.9 955.9L885.2 956.5L886.6 957L888 957.5L889.4 957.9L890.8 958.2L892.3 958.3L893.7 958.3L895.2 958.2L896.6 958L898 957.7L899.4 957.3L900.8 956.8L902 956.2L903.3 955.6L904.4 954.9L905.6 954.1L906.6 953.2L907.6 952.3L908.5 951.3L909.4 950.2L910.2 949.1L911 948L911.7 946.7L912.3 945.5L912.9 944.1L913.4 942.8L913.8 941.4L914.2 940L914.5 938.6L914.8 937.2L914.9 935.9L915.1 934.6L915.1 933.3L915.1 932L915 930.7L914.8 929.4L914.6 928L914.2 926.6L913.9 925.1L913.4 923.6L912.9 922L912.3 920.4L911.6 918.7L910.8 917.1L910 915.5L909 914L908 912.6L906.8 911.3L905.6 910L904.3 908.8L903 907.6L901.6 906.5L900.1 905.4L898.5 904.4L896.8 903.3L895 902.3L893.1 901.3L891.2 900.4L889.2 899.5L887.2 898.6L885.2 897.9L883.3 897.2L881.4 896.6L879.4 896.1L877.5 895.6L875.6 895.2L873.6 894.9L871.7 894.6L869.9 894.4L868 894.2L866 894.1L863.9 894.1L861.8 894.1L859.8 894.2L857.8 894.3L856.1 894.5L854.7 894.6L853.7 894.6" fill="#fff" stroke="#000" stroke-width="1.5" stroke-linejoin="round" stroke-linecap="round"/>
<path d="M741.3 882.4V601 A221.8 221.8 0 0 1 913 385.8" fill="none" stroke="#000" stroke-width="1.5"/>
<path d="M741.3 894.7L741.3 972" stroke="#000" stroke-width="1.5" fill="none" />
<path d="M752.8 618.6L752.8 882.4" stroke="#000" stroke-width="1.5" fill="none" />
<path d="M752.8 894.7L752.8 961.6" stroke="#000" stroke-width="1.5" fill="none" />
<path d="M913 385.8L915.4 390.2L915.4 925.6" stroke="#000" stroke-width="1.8" fill="none" />
<path d="M915.4 937.9L915.4 973" stroke="#000" stroke-width="1.8" fill="none" />
<path d="M904.7 399.5L904.7 962.3" stroke="#000" stroke-width="1.5" fill="none" />
<rect x="738.9" y="632.4" width="5.9" height="9" stroke="#222" stroke-width="1" fill="#999" />
<rect x="738.9" y="769.7" width="5.9" height="17.7" stroke="#222" stroke-width="1" fill="#999" />
<path d="M738.9 778.5L744.8 778.5" stroke="#000" stroke-width="1.2" fill="none" />
<rect x="738.9" y="916.3" width="5.9" height="18.2" stroke="#222" stroke-width="1" fill="#999" />
<path d="M738.9 925.4L744.8 925.4" stroke="#000" stroke-width="1.2" fill="none" /></g>
<g transform="translate(1925.6 0) scale(-1 1)"><path d="M752.8 882.4V601 A210 210 0 0 1 888.9 404.4" fill="none" stroke="#000" stroke-width="1.5"/>
<path d="M752 961.6L905.5 961.6" stroke="#000" stroke-width="1.8" fill="none" />
<path d="M751 972L916.3 972" stroke="#000" stroke-width="2.6" fill="none" />
<path d="M849.6 436.5L848.6 437.3L847.3 438.4L845.7 439.7L843.9 441.1L842 442.5L840.1 444.1L838.2 445.5L836.5 446.9L834.9 448.2L833.3 449.5L831.8 450.9L830.2 452.2L828.7 453.5L827.1 454.8L825.5 456.1L823.8 457.5L822.1 458.9L820.4 460.2L818.6 461.6L816.8 463.1L814.9 464.5L813.1 465.9L811.3 467.4L809.6 468.8L807.9 470.3L806.2 471.7L804.5 473.1L802.9 474.6L801.3 476L799.7 477.5L798.1 478.9L796.5 480.4L795 481.8L793.5 483.2L792 484.6L790.5 486L789.1 487.4L787.6 488.8L786 490.4L784.4 491.9L782.8 493.6L781.1 495.3L779.3 497L777.5 498.8L775.7 500.7L773.9 502.6L772.2 504.6L770.5 506.7L769 508.8L767.6 511.1L766.2 513.3L764.8 515.6L763.6 518L762.3 520.3L761.2 522.7L760 525.1L758.9 527.4L757.8 529.8L756.8 532.3L755.8 534.8L754.8 537.2L754 539.6L753.1 542L752.4 544.4L751.7 546.6L751.1 548.9L750.6 551.1L750.1 553.3L749.7 555.4L749.4 557.5L749.1 559.6L748.8 561.7L748.6 563.8L748.4 565.9L748.3 568L748.2 570.1L748.2 572.1L748.2 574.1L748.3 576.2L748.4 578.2L748.6 580.2L748.8 582.1L749.1 584.1L749.4 586L749.8 588L750.3 589.9L750.7 591.8L751.3 593.6L751.9 595.5L752.5 597.3L753.2 599.2L754 601L754.8 602.8L755.7 604.6L756.6 606.4L757.6 608.1L758.7 609.9L759.8 611.6L761 613.3L762.3 615L763.6 616.7L765 618.3L766.4 619.9L767.9 621.5L769.5 623.1L771.1 624.7L772.7 626.2L774.4 627.7L776.2 629.2L778 630.6L779.9 632L781.8 633.3L783.7 634.6L785.7 635.8L787.7 637L789.8 638.1L791.9 639.2L794 640.1L796.1 641.1L798.1 641.9L800.1 642.6L802.1 643.2L804.1 643.8L806.1 644.3L808.1 644.7L810.2 645.1L812.3 645.3L814.5 645.4L816.8 645.4L819.2 645.4L821.6 645.3L824.1 645.1L826.6 644.8L829.2 644.4L831.7 643.7L834.1 642.8L836.5 641.8L838.9 640.5L841.3 639L843.6 637.4L845.8 635.7L847.9 634L849.9 632.2L851.7 630.4L853.3 628.6L854.8 626.7L856.1 624.7L857.3 622.7L858.3 620.7L859.3 618.7L860.2 616.7L860.9 614.8L861.7 612.9L862.3 611L862.8 609L863.3 607.1L863.6 605.1L863.9 603.2L864 601.2L864.1 599.2L864 597.1L863.9 595L863.6 592.9L863.3 590.8L862.9 588.6L862.3 586.6L861.7 584.5L860.9 582.6L860.1 580.8L859.1 579L858 577.3L856.8 575.7L855.6 574.2L854.3 572.7L852.9 571.3L851.6 570.1L850.1 568.8L848.6 567.7L847.1 566.7L845.5 565.7L843.9 564.8L842.2 564L840.6 563.3L839 562.7L837.5 562.2L835.9 561.8L834.3 561.5L832.7 561.3L831.1 561.1L829.6 561L828 561L826.4 561.1L824.7 561.2L823 561.4L821.3 561.7L819.5 562L817.8 562.4L816 562.9L814.3 563.5L812.7 564.2L811.2 565.1L809.7 566L808.2 567L806.7 568.2L805.4 569.4L804.1 570.6L803 572L802 573.4L801.1 574.9L800.3 576.4L799.6 578.1L799.1 579.7L798.7 581.4L798.4 583.1L798.2 584.8L798.2 586.5L798.4 588.2L798.7 589.8L799.3 591.4L799.9 593L800.6 594.5L801.4 595.9L802.2 597.2L803 598.5L803.9 599.7L805 600.9L806.1 601.9L807.2 602.9L808.4 603.8L809.5 604.7L810.6 605.4L811.6 606L812.6 606.5L813.5 607L814.5 607.3L815.4 607.5L816.3 607.7L817.3 607.7L818.2 607.7L819.1 607.6L820.1 607.4L821.1 607.1L822.1 606.7L823.1 606.2L824.1 605.7L825 605.1L825.9 604.5L826.7 603.9L827.4 603.2L828.1 602.5L828.7 601.7L829.3 600.9L829.8 600L830.3 599.1L830.7 598.3L831 597.3L831.2 596.3L831.3 595.3L831.4 594.2L831.3 593.1L831.3 592.2L831.2 591.3L831.1 590.6L831.1 590.1L830.1 589.9L830 590.5L829.8 591.2L829.6 592L829.4 593L829.1 593.9L828.8 594.8L828.5 595.6L828.2 596.3L827.8 596.9L827.4 597.5L827 598.2L826.5 598.8L826 599.4L825.5 600L824.9 600.5L824.3 600.9L823.7 601.3L823 601.7L822.2 602.1L821.4 602.4L820.6 602.7L819.9 603L819.1 603.1L818.5 603.2L817.9 603.3L817.3 603.3L816.8 603.3L816.3 603.2L815.7 603.1L815.2 602.9L814.5 602.6L813.8 602.2L813 601.7L812 601.1L811 600.3L810.1 599.6L809.1 598.7L808.2 597.8L807.3 596.9L806.6 595.9L805.9 594.9L805.2 593.7L804.5 592.5L803.9 591.2L803.4 589.9L803 588.7L802.7 587.5L802.6 586.3L802.6 585.1L802.7 583.7L803 582.4L803.3 581L803.8 579.6L804.3 578.2L804.9 577L805.6 575.8L806.4 574.7L807.4 573.6L808.4 572.6L809.6 571.5L810.8 570.6L812.1 569.7L813.4 568.9L814.7 568.2L816 567.6L817.4 567.1L818.9 566.6L820.4 566.3L822 566L823.6 565.8L825.1 565.6L826.6 565.5L828.1 565.4L829.5 565.4L830.9 565.5L832.2 565.6L833.5 565.8L834.9 566.1L836.2 566.4L837.6 566.9L839 567.4L840.4 568L841.9 568.7L843.3 569.5L844.7 570.4L846.1 571.3L847.4 572.3L848.6 573.3L849.8 574.5L851 575.7L852.2 577L853.3 578.4L854.3 579.8L855.3 581.3L856.1 582.8L856.9 584.4L857.5 586L858.1 587.8L858.6 589.6L859 591.6L859.3 593.5L859.5 595.5L859.7 597.4L859.7 599.2L859.7 601L859.5 602.7L859.3 604.5L859 606.2L858.6 607.9L858.1 609.7L857.5 611.4L856.9 613.2L856.1 615L855.3 616.9L854.4 618.7L853.4 620.6L852.4 622.4L851.2 624.1L849.9 625.8L848.5 627.4L846.9 629L845.1 630.6L843.1 632.3L841 633.8L838.9 635.3L836.7 636.7L834.6 637.8L832.5 638.8L830.4 639.5L828.2 640.1L826 640.5L823.7 640.8L821.4 640.9L819.1 641L816.8 641L814.7 641L812.7 640.9L810.8 640.7L808.9 640.4L807.1 640L805.2 639.6L803.4 639L801.6 638.4L799.7 637.7L797.7 637L795.8 636.1L793.8 635.2L791.8 634.2L789.9 633.1L787.9 632L786.1 630.9L784.2 629.7L782.5 628.4L780.7 627.1L779 625.8L777.3 624.4L775.7 622.9L774.1 621.5L772.6 620L771.1 618.5L769.7 617L768.3 615.4L767 613.9L765.8 612.3L764.6 610.7L763.5 609.1L762.4 607.5L761.4 605.9L760.5 604.2L759.6 602.6L758.8 600.9L758 599.3L757.3 597.6L756.7 595.8L756.1 594.1L755.5 592.4L755 590.6L754.5 588.8L754.1 587L753.8 585.2L753.4 583.4L753.2 581.6L753 579.7L752.8 577.8L752.7 575.9L752.6 574L752.6 572.1L752.6 570.2L752.7 568.2L752.8 566.3L753 564.3L753.2 562.3L753.4 560.2L753.7 558.2L754.1 556.2L754.5 554.1L754.9 552L755.4 550L756 547.8L756.6 545.6L757.3 543.4L758.1 541.1L759 538.7L759.9 536.4L760.8 534L761.9 531.6L762.9 529.3L764 526.9L765.1 524.7L766.3 522.3L767.5 520.1L768.7 517.8L770 515.6L771.3 513.4L772.6 511.3L774.1 509.3L775.6 507.4L777.2 505.5L778.9 503.7L780.6 501.9L782.4 500.1L784.2 498.4L785.9 496.7L787.6 495.1L789.1 493.5L790.6 492L792.1 490.5L793.6 489.2L795 487.8L796.5 486.4L798 485L799.5 483.6L801.1 482.2L802.6 480.8L804.2 479.3L805.8 477.9L807.4 476.5L809.1 475L810.7 473.6L812.4 472.2L814.1 470.8L815.9 469.4L817.7 467.9L819.5 466.5L821.3 465.1L823.1 463.7L824.8 462.3L826.6 460.9L828.3 459.6L829.9 458.3L831.5 457L833.1 455.7L834.7 454.4L836.3 453.2L837.9 451.9L839.5 450.7L841.2 449.4L843.1 447.9L845 446.5L846.9 445L848.7 443.7L850.4 442.5L851.8 441.4L852.8 440.7" fill="#fff" stroke="#000" stroke-width="1.5" stroke-linejoin="round" stroke-linecap="round"/>
<path d="M913 385.8L866.5 425.5" stroke="#000" stroke-width="1.5" fill="none" />
<path d="M866.5 425.5C864.9 426.5 859.9 429.8 857 431.7C854.1 433.6 850.3 435.9 849 436.7" fill="none" stroke="#000" stroke-width="1.5" stroke-linecap="round"/>
<path d="M854 445.1L853.7 445.9L853.2 447L852.7 448.2L852 449.7L851.4 451.2L850.7 452.8L850.1 454.4L849.5 456L849 457.5L848.5 458.9L848 460.5L847.5 462L847 463.6L846.6 465.3L846.2 467.1L845.8 469L845.5 470.9L845.2 472.9L844.9 475L844.7 477.2L844.5 479.4L844.3 481.6L844.2 483.7L844.1 485.9L844.1 488.1L844 490.2L844 492.4L844.1 494.7L844.2 496.9L844.4 499.1L844.6 501.3L844.9 503.5L845.4 505.5L845.8 507.6L846.4 509.6L847 511.6L847.7 513.6L848.5 515.5L849.4 517.4L850.3 519.2L851.4 521L852.5 522.7L853.7 524.3L855 525.9L856.4 527.3L857.7 528.7L859.1 530L860.5 531.3L861.8 532.4L863.3 533.4L864.7 534.4L866.2 535.3L867.6 536L869.1 536.7L870.5 537.4L871.9 537.9L873.2 538.4L874.4 538.9L875.7 539.3L876.9 539.6L878.2 539.9L879.6 540L881.1 540.1L882.7 540.1L884.4 540L886.2 539.9L888.2 539.7L890.2 539.4L892.3 539L894.3 538.4L896.3 537.8L898.2 537L900.1 536L901.8 535L903.6 533.7L905.3 532.4L906.9 531L908.4 529.5L909.7 527.9L910.9 526.3L912 524.6L912.9 522.8L913.6 520.9L914.2 518.9L914.7 517L915 515L915.2 513.1L915.3 511.3L915.2 509.5L914.9 507.7L914.5 505.9L913.9 504.3L913.2 502.7L912.5 501.1L911.8 499.7L911 498.3L910.1 497L909.1 495.7L908.1 494.5L907 493.4L905.8 492.4L904.7 491.4L903.6 490.6L902.5 489.8L901.4 489.2L900.3 488.7L899.2 488.2L898 487.8L896.9 487.6L895.7 487.5L894.4 487.4L893.2 487.5L891.8 487.7L890.4 488L888.9 488.4L887.4 489L885.9 489.6L884.5 490.2L883.2 491L882.1 491.9L881.1 492.9L880.2 494L879.5 495.1L878.9 496.3L878.4 497.5L878.1 498.8L877.9 500L877.8 501.4L877.9 502.8L878.3 504.3L878.8 505.8L879.4 507.3L880 508.7L880.5 509.9L881 510.9L881.3 511.6L882.3 511.4L882.2 510.5L882 509.4L881.8 508.1L881.5 506.7L881.4 505.2L881.3 503.8L881.3 502.6L881.4 501.6L881.6 500.7L881.9 499.8L882.3 498.9L882.7 498.1L883.1 497.3L883.7 496.5L884.3 495.9L884.9 495.3L885.7 494.7L886.7 494.2L887.8 493.6L889 493.1L890.2 492.7L891.5 492.3L892.6 492L893.6 491.9L894.5 491.8L895.4 491.8L896.2 491.9L896.9 492.1L897.7 492.3L898.5 492.7L899.3 493.1L900.1 493.6L901 494.2L902 494.9L902.9 495.7L903.9 496.6L904.8 497.5L905.7 498.5L906.5 499.6L907.2 500.7L907.9 501.8L908.6 503.1L909.2 504.4L909.8 505.8L910.2 507.2L910.6 508.6L910.8 509.9L910.9 511.3L910.8 512.8L910.7 514.4L910.4 516L910 517.7L909.4 519.4L908.8 521L908.1 522.5L907.3 523.9L906.3 525.2L905.2 526.5L903.9 527.8L902.5 529L901 530.2L899.4 531.3L897.9 532.2L896.4 533L894.8 533.7L893.1 534.2L891.3 534.7L889.5 535L887.6 535.3L885.8 535.5L884.1 535.6L882.5 535.7L881.2 535.7L880 535.7L878.9 535.5L877.9 535.3L876.9 535.1L875.8 534.8L874.7 534.3L873.5 533.9L872.3 533.3L871 532.7L869.7 532.1L868.5 531.3L867.2 530.5L865.9 529.7L864.7 528.7L863.5 527.7L862.4 526.6L861.1 525.4L859.9 524.1L858.7 522.7L857.6 521.3L856.5 519.8L855.6 518.3L854.7 516.8L853.9 515.2L853.2 513.6L852.6 511.8L852 510.1L851.5 508.2L851 506.4L850.6 504.5L850.3 502.5L850 500.6L849.8 498.6L849.7 496.6L849.6 494.5L849.6 492.4L849.6 490.3L849.6 488.2L849.7 486.1L849.8 484L849.9 481.9L850.1 479.8L850.3 477.8L850.5 475.7L850.8 473.7L851.1 471.8L851.4 470L851.8 468.4L852.1 466.8L852.6 465.2L853 463.8L853.5 462.3L854 460.9L854.6 459.4L855.1 458L855.6 456.6L856.2 455.1L856.9 453.5L857.5 452.1L858.1 450.7L858.7 449.4L859.2 448.3L859.6 447.5" fill="#fff" stroke="#000" stroke-width="1.5" stroke-linejoin="round" stroke-linecap="round"/>
<path d="M915.5 389.8C913.5 391.4 908.1 395.3 903.7 399.1C899.3 402.9 893.8 408.1 889 412.5C884.2 416.9 878.8 421.8 875 425.5C871.2 429.2 868.4 432.1 866 435C863.6 437.9 861.7 440.8 860.5 443C859.3 445.2 859.1 447.2 858.8 448" fill="none" stroke="#000" stroke-width="1.5" stroke-linecap="round"/>
<path d="M853.2 440.7L852.3 442L851.1 443.7L849.7 445.8L848.1 448.1L846.5 450.5L844.8 452.8L843.3 455L842 457L840.8 458.8L839.7 460.5L838.7 462.1L837.7 463.7L836.7 465.2L835.8 466.6L834.9 468L834.1 469.3L833.3 470.5L832.7 471.4L832.1 472.3L831.5 473.1L831 473.9L830.4 474.9L829.8 476.1L829.1 477.5L828.3 479.4L827.4 481.6L826.5 484.1L825.6 486.7L824.7 489.2L823.9 491.6L823.2 493.5L822.7 494.9L822.7 494.9L823.3 493.9L824.2 492.5L825.2 490.8L826.3 489L827.4 487.1L828.6 485.2L829.7 483.3L830.6 481.6L831.4 480L832.1 478.5L832.7 477L833.3 475.5L833.9 474.1L834.6 472.5L835.5 471L836.5 469.3L837.8 467.5L839.3 465.6L841 463.6L842.7 461.6L844.4 459.6L846.1 457.7L847.6 456L848.8 454.5L849.8 453.2L850.7 452L851.4 450.9L852 449.9L852.5 449L853 448.3L853.4 447.6L853.7 447.1Z" fill="#fff" stroke="#000" stroke-width="1.4" stroke-linejoin="round"/>
<path d="M769.9 572.6L769.5 573.8L769.1 575.4L768.5 577.3L767.9 579.4L767.2 581.6L766.5 583.9L765.8 586L765 588L764.1 590L763.2 592L762.1 594.1L761 596.2L759.9 598.2L759 599.9L758.2 601.4L757.6 602.5L759.8 604L760.3 602.9L761.1 601.6L761.9 599.9L762.9 598.1L763.9 596.1L764.9 594L765.7 592L766.5 590L767.2 587.9L767.8 585.6L768.4 583.1L768.9 580.6L769.4 578.3L769.8 576.1L770.2 574.3L770.5 573Z" fill="#fff" stroke="#000" stroke-width="1.4" stroke-linejoin="round"/>
<path d="M757.8 599.7L757.4 600.1L756.9 600.8L756.3 601.5L755.6 602.4L754.9 603.3L754.2 604.2L753.4 605.2L752.7 606.2L752 607.1L751.3 608.1L750.6 609.1L749.8 610.2L749 611.2L748.3 612.4L747.5 613.6L746.6 614.8L745.8 616.2L744.8 617.8L743.8 619.5L742.9 621.2L741.9 622.8L741.1 624.3L740.4 625.5L739.9 626.4L743.7 628.6L744.2 627.7L744.9 626.5L745.8 625L746.7 623.4L747.6 621.7L748.6 620.1L749.5 618.5L750.4 617.2L751.1 616L751.9 614.9L752.6 613.8L753.4 612.7L754.1 611.7L754.9 610.7L755.6 609.8L756.3 608.8L757 607.9L757.7 606.9L758.4 606L759.1 605.1L759.8 604.2L760.4 603.5L760.9 602.8L761.2 602.3" fill="#fff" stroke="#000" stroke-width="1.5" stroke-linejoin="round" stroke-linecap="round"/>
<path d="M744.2 972.6L745.1 972.2L746.2 971.6L747.5 970.9L749.1 970.1L750.7 969.2L752.4 968.3L754.2 967.4L756 966.5L757.8 965.5L759.8 964.6L761.8 963.6L763.9 962.6L766.1 961.5L768.3 960.4L770.7 959.2L773 957.9L775.5 956.6L778 955.2L780.7 953.8L783.4 952.3L786.1 950.7L788.8 949.1L791.5 947.5L794.2 945.9L796.8 944.2L799.4 942.5L802 940.8L804.7 939.1L807.3 937.3L809.9 935.5L812.5 933.6L815 931.8L817.5 929.9L820 927.9L822.5 925.9L825 923.9L827.4 921.9L829.9 919.8L832.3 917.7L834.8 915.5L837.3 913.3L839.8 911L842.4 908.7L845 906.3L847.5 903.8L850 901.4L852.3 899.1L854.6 896.7L856.7 894.5L858.6 892.3L860.4 890.3L862.1 888.2L863.8 886L865.6 883.8L867.5 881.4L869.5 878.8L871.8 875.9L874.2 872.7L876.8 869.4L879.4 866L882 862.5L884.6 859L887.1 855.5L889.3 852.1L891.5 848.7L893.6 845.3L895.6 841.9L897.5 838.5L899.3 835.2L901.1 831.8L902.7 828.5L904.2 825.2L905.6 821.9L906.8 818.7L908 815.4L909 812.2L909.9 809.1L910.8 806L911.6 803.1L912.2 800.2L912.9 797.5L913.4 794.9L913.8 792.4L914.1 790L914.4 787.6L914.6 785.2L914.7 782.7L914.8 780L914.8 777.2L914.8 774.3L914.7 771.3L914.5 768.3L914.3 765.3L914 762.3L913.6 759.4L913.2 756.6L912.7 754L912.2 751.4L911.6 748.9L910.9 746.5L910.2 744.1L909.4 741.7L908.5 739.4L907.5 737.1L906.5 734.8L905.3 732.6L904.2 730.4L902.9 728.1L901.5 726L900 723.9L898.3 721.9L896.6 720L894.6 718.1L892.6 716.4L890.4 714.7L888.1 713L885.7 711.5L883.3 710.1L880.9 708.8L878.5 707.7L876 706.7L873.4 705.8L870.8 705.1L868.1 704.4L865.5 703.9L863 703.4L860.6 703L858.4 702.6L856.3 702.3L854.4 702L852.6 701.7L850.8 701.5L849 701.4L847.1 701.3L845.1 701.4L843 701.6L840.6 701.9L838.2 702.3L835.6 702.7L832.9 703.2L830.2 703.9L827.5 704.7L824.9 705.6L822.5 706.7L820.2 708L818 709.5L815.9 711.1L813.9 712.8L812 714.6L810.2 716.4L808.5 718.3L807 720.1L805.5 722.1L804.2 724.1L803 726.2L801.9 728.3L801 730.5L800.1 732.6L799.4 734.6L798.8 736.6L798.3 738.6L798 740.5L797.8 742.3L797.7 744.1L797.7 745.9L797.8 747.7L798 749.5L798.2 751.3L798.5 753.2L798.9 755.1L799.3 757.1L799.8 759.1L800.5 761.1L801.2 763.1L802 765L802.9 766.8L803.9 768.6L804.9 770.3L806.1 772L807.4 773.7L808.8 775.2L810.2 776.7L811.7 778.1L813.3 779.4L815 780.5L816.9 781.6L818.9 782.5L820.9 783.3L822.8 784L824.7 784.6L826.3 785.2L827.8 785.6L828.9 786L830 786.2L830.9 786.4L831.8 786.5L832.7 786.5L833.6 786.5L834.5 786.3L835.6 786.2L837 786L838.5 785.7L840.3 785.4L842.1 785L843.9 784.6L845.7 784L847.5 783.3L849.2 782.5L850.7 781.6L852.1 780.5L853.4 779.4L854.7 778.1L855.9 776.9L856.9 775.5L857.9 774.2L858.8 772.9L859.7 771.5L860.5 770.1L861.1 768.6L861.8 767.1L862.3 765.6L862.7 764.1L863 762.5L863.1 761L863.1 759.5L862.9 758L862.6 756.5L862.2 755L861.7 753.7L861.2 752.3L860.6 751.1L859.9 749.9L859.1 748.7L858.3 747.6L857.4 746.5L856.4 745.5L855.4 744.5L854.3 743.7L853.3 742.9L852.2 742.2L851.1 741.6L850 741.1L848.9 740.7L847.7 740.4L846.6 740.1L845.4 740L844.2 740L843 740L841.9 740.2L840.6 740.4L839.4 740.8L838.3 741.2L837.1 741.7L836.1 742.3L835.1 742.9L834.2 743.6L833.3 744.3L832.6 745.2L832 746L831.4 746.9L830.9 747.8L830.6 748.7L830.2 749.6L830 750.5L829.8 751.5L829.8 752.5L829.8 753.5L829.9 754.4L830.1 755.3L830.2 756.1L830.3 756.7L830.4 757.2L831.4 757.2L831.5 756.7L831.6 756.1L831.7 755.3L831.9 754.5L832.1 753.6L832.3 752.8L832.5 752.1L832.8 751.5L833.2 750.8L833.5 750.1L833.9 749.4L834.4 748.8L834.8 748.1L835.3 747.5L835.9 747L836.4 746.6L837.1 746.2L837.9 745.8L838.8 745.4L839.7 745.1L840.7 744.8L841.6 744.6L842.5 744.5L843.4 744.4L844.2 744.4L845 744.4L845.9 744.5L846.7 744.7L847.5 744.9L848.4 745.2L849.2 745.6L850 746L850.8 746.5L851.6 747.1L852.5 747.8L853.3 748.6L854.1 749.4L854.9 750.3L855.5 751.2L856.1 752.1L856.6 753.1L857.2 754.2L857.6 755.3L858 756.4L858.3 757.5L858.6 758.6L858.7 759.7L858.7 760.8L858.6 761.9L858.4 763.1L858 764.3L857.6 765.6L857.1 766.9L856.5 768.1L855.9 769.3L855.2 770.5L854.4 771.7L853.5 772.8L852.5 774L851.5 775.1L850.5 776.1L849.3 777.1L848.2 777.9L847 778.7L845.8 779.3L844.3 779.8L842.7 780.3L841.1 780.7L839.4 781.1L837.8 781.4L836.3 781.6L835 781.8L833.9 782L833.1 782.1L832.5 782.1L832 782.1L831.6 782.1L831 782L830.2 781.7L829 781.4L827.6 781L826 780.5L824.3 779.9L822.5 779.2L820.7 778.5L818.9 777.7L817.3 776.8L815.9 775.8L814.6 774.8L813.3 773.6L812 772.3L810.8 770.9L809.7 769.4L808.6 767.9L807.6 766.3L806.7 764.8L806 763.2L805.3 761.5L804.6 759.7L804.1 757.9L803.6 756.1L803.2 754.3L802.8 752.5L802.6 750.7L802.4 749L802.2 747.4L802.1 745.8L802.1 744.2L802.2 742.6L802.3 741.1L802.6 739.5L803 737.8L803.6 736L804.2 734.1L805 732.2L805.9 730.2L806.9 728.3L808 726.4L809.1 724.6L810.4 722.9L811.8 721.1L813.4 719.4L815.1 717.7L816.8 716.1L818.7 714.5L820.6 713.1L822.5 711.8L824.5 710.7L826.6 709.7L828.9 708.9L831.3 708.1L833.8 707.5L836.4 707L838.8 706.6L841.2 706.3L843.4 706L845.4 705.8L847.2 705.7L848.8 705.8L850.4 705.9L852 706.1L853.7 706.3L855.6 706.6L857.6 707L859.9 707.3L862.2 707.8L864.7 708.2L867.2 708.7L869.6 709.3L872.1 710L874.5 710.8L876.7 711.7L878.9 712.8L881.2 714L883.4 715.3L885.6 716.7L887.8 718.2L889.8 719.8L891.7 721.4L893.4 723L895 724.8L896.5 726.6L897.8 728.5L899.1 730.5L900.3 732.5L901.4 734.6L902.5 736.7L903.5 738.9L904.4 741.1L905.2 743.2L906 745.4L906.7 747.7L907.3 750L907.9 752.4L908.4 754.8L908.8 757.4L909.2 760L909.6 762.8L909.9 765.7L910.1 768.6L910.3 771.5L910.4 774.4L910.4 777.3L910.4 780L910.3 782.5L910.2 784.9L910 787.2L909.8 789.5L909.4 791.8L909 794.1L908.5 796.6L908 799.2L907.3 802L906.5 804.9L905.7 807.9L904.8 810.9L903.8 814L902.7 817.1L901.5 820.3L900.2 823.4L898.7 826.6L897.2 829.8L895.5 833.1L893.7 836.4L891.8 839.7L889.8 843.1L887.8 846.4L885.7 849.7L883.4 853L881 856.5L878.5 859.9L875.9 863.4L873.3 866.8L870.8 870L868.3 873.1L866.1 876L864 878.7L862.1 881.1L860.4 883.3L858.7 885.4L857 887.4L855.3 889.4L853.4 891.5L851.4 893.7L849.2 896L846.9 898.3L844.4 900.7L841.9 903.1L839.4 905.4L836.9 907.8L834.3 910L831.8 912.3L829.4 914.4L827 916.5L824.6 918.5L822.2 920.5L819.7 922.5L817.3 924.5L814.9 926.4L812.4 928.2L809.9 930.1L807.3 931.9L804.8 933.7L802.2 935.4L799.6 937.2L797 938.8L794.4 940.5L791.8 942.1L789.2 943.7L786.6 945.3L783.9 946.9L781.2 948.4L778.5 949.9L775.9 951.4L773.4 952.7L771 954.1L768.6 955.3L766.4 956.5L764.1 957.6L762 958.6L759.9 959.6L757.8 960.6L755.9 961.6L754 962.5L752.2 963.5L750.4 964.5L748.7 965.4L747 966.3L745.5 967.1L744.2 967.9L743.1 968.5L742.2 969" fill="#fff" stroke="#000" stroke-width="1.5" stroke-linejoin="round" stroke-linecap="round"/>
<path d="M895.4 699.8L895.7 700.7L896 701.9L896.5 703.3L897 704.9L897.5 706.6L898 708.4L898.5 710.2L899 712L899.5 713.8L900 715.8L900.6 717.9L901.1 720L901.7 722.1L902.2 724.2L902.6 726.2L903 728L903.3 729.8L903.6 731.6L903.8 733.3L903.9 735L904.1 736.6L904.2 737.9L904.3 739.1L904.4 740L906.5 733L906.2 731.7L905.8 729.9L905.4 727.8L904.9 725.5L904.3 723.1L903.7 720.6L903.1 718.2L902.5 716L901.8 713.8L901 711.5L900.2 709.1L899.3 706.7L898.5 704.5L897.7 702.5L897.1 700.9L896.6 699.6Z" fill="#fff" stroke="#000" stroke-width="1.4" stroke-linejoin="round"/>
<path d="M888.8 851.9L888.6 850.5L888.3 848.6L888 846.4L887.7 843.9L887.2 841.2L886.8 838.6L886.3 836L885.7 833.6L885.1 831.3L884.5 829.1L883.8 826.9L883.1 824.7L882.3 822.5L881.5 820.4L880.5 818.3L879.5 816.4L878.5 814.5L877.3 812.6L876.1 810.8L874.8 809.1L873.5 807.4L872.1 805.9L870.7 804.4L869.3 803L867.8 801.7L866.3 800.5L864.7 799.4L863 798.3L861.4 797.4L859.9 796.6L858.3 795.8L856.9 795.2L855.5 794.6L854.2 794.1L852.9 793.7L851.5 793.4L850.2 793.2L848.9 793.1L847.4 793L846 793.1L844.4 793.2L842.7 793.5L840.9 793.8L839.1 794.2L837.3 794.7L835.5 795.3L833.8 796L832.2 796.8L830.7 797.7L829.3 798.7L828 799.9L826.7 801.1L825.5 802.4L824.4 803.7L823.4 805.1L822.6 806.6L821.8 808.1L821.2 809.7L820.7 811.3L820.3 813L820 814.7L819.8 816.4L819.7 818L819.8 819.6L820.1 821.2L820.5 822.8L821 824.2L821.7 825.7L822.4 827L823.2 828.2L824 829.4L824.7 830.5L825.6 831.6L826.5 832.6L827.4 833.5L828.4 834.4L829.4 835.1L830.4 835.8L831.3 836.5L832.2 837L833.1 837.5L834 837.9L834.9 838.3L835.8 838.5L836.7 838.7L837.6 838.8L838.5 838.8L839.5 838.8L840.5 838.7L841.5 838.4L842.5 838.1L843.5 837.8L844.5 837.3L845.5 836.8L846.4 836.3L847.2 835.6L848 834.9L848.8 834.1L849.5 833.2L850.1 832.4L850.7 831.5L851.2 830.6L851.6 829.7L852 828.8L852.2 827.9L852.4 827L852.4 826.1L852.4 825.3L852.4 824.5L852.4 823.8L852.3 823.3L852.3 822.9L851.3 822.7L851.2 823.1L851 823.7L850.8 824.3L850.5 825L850.2 825.7L849.9 826.4L849.6 827L849.2 827.6L848.8 828.2L848.4 828.9L847.8 829.6L847.3 830.3L846.7 831L846.1 831.6L845.5 832.2L845 832.6L844.3 832.9L843.6 833.3L842.9 833.6L842.1 833.9L841.3 834.1L840.5 834.2L839.8 834.4L839.1 834.4L838.5 834.4L837.9 834.4L837.4 834.3L836.8 834.2L836.3 834.1L835.7 833.8L835.1 833.6L834.4 833.2L833.6 832.7L832.9 832.2L832 831.6L831.2 831L830.4 830.3L829.6 829.5L828.9 828.7L828.3 827.9L827.6 826.9L826.9 825.9L826.2 824.8L825.6 823.7L825.1 822.5L824.7 821.4L824.4 820.3L824.2 819.2L824.1 818L824.2 816.7L824.3 815.3L824.6 813.9L824.9 812.5L825.3 811.1L825.9 809.8L826.4 808.6L827.1 807.5L827.9 806.4L828.8 805.2L829.8 804.2L830.9 803.1L832 802.2L833.2 801.4L834.4 800.6L835.6 800L837.1 799.4L838.6 798.9L840.2 798.5L841.8 798.1L843.3 797.8L844.9 797.6L846.2 797.5L847.5 797.4L848.6 797.5L849.7 797.6L850.7 797.7L851.7 798L852.8 798.3L853.9 798.7L855.1 799.2L856.5 799.8L857.9 800.5L859.3 801.3L860.8 802.1L862.2 803L863.6 804L865 805.1L866.3 806.2L867.6 807.5L868.8 808.8L870.1 810.2L871.3 811.8L872.5 813.4L873.6 815L874.7 816.7L875.7 818.4L876.6 820.2L877.4 822.1L878.2 824.1L878.9 826.1L879.6 828.2L880.3 830.4L880.9 832.5L881.5 834.6L882 836.9L882.5 839.3L882.9 841.9L883.3 844.5L883.6 847L884 849.2L884.2 851.1L884.4 852.5" fill="#fff" stroke="#000" stroke-width="1.5" stroke-linejoin="round" stroke-linecap="round"/>
<path d="M806.4 937.5L806.6 936.1L806.9 934.2L807.2 931.9L807.5 929.4L807.9 926.8L808.3 924.2L808.6 921.7L809 919.5L809.3 917.6L809.6 915.7L810 913.9L810.3 912.1L810.6 910.4L810.9 908.6L811.2 906.9L811.4 905.3L811.6 903.6L811.7 902.1L811.9 900.5L812 899L812 897.5L812 896L812 894.5L811.9 893L811.7 891.5L811.5 890L811.2 888.5L810.9 887L810.5 885.5L810.1 884L809.6 882.5L809 881.2L808.4 879.8L807.8 878.5L807.1 877.2L806.4 875.9L805.6 874.6L804.6 873.3L803.6 872.1L802.4 870.9L801.1 869.7L799.7 868.6L798.2 867.5L796.6 866.4L794.9 865.4L793.2 864.4L791.6 863.6L790 862.8L788.3 862.1L786.6 861.6L784.9 861.1L783.2 860.7L781.6 860.4L780.1 860.2L778.8 859.9L777.6 859.7L776.6 859.6L775.8 859.4L775 859.3L774.3 859.3L773.6 859.3L772.9 859.3L772.1 859.4L771.1 859.5L769.9 859.6L768.5 859.7L767 859.9L765.4 860.1L763.7 860.3L762 860.7L760.3 861.1L758.7 861.7L757.2 862.3L755.7 863.1L754.3 863.9L752.9 864.9L751.5 865.9L750.3 866.9L749.1 868L748 869.2L747.1 870.5L746.2 871.8L745.5 873.2L744.9 874.6L744.4 876L743.9 877.3L743.5 878.6L743.2 879.8L742.9 881L742.7 882.1L742.5 883.2L742.4 884.3L742.4 885.4L742.4 886.4L742.5 887.5L742.6 888.6L742.8 889.7L743 890.9L743.2 892.1L743.5 893.3L743.8 894.5L744.3 895.8L744.7 896.9L745.2 898.1L745.8 899.1L746.4 900.2L747 901.2L747.7 902.2L748.5 903.1L749.4 904.1L750.3 904.9L751.3 905.7L752.3 906.5L753.5 907.2L754.7 907.9L756 908.6L757.3 909.1L758.6 909.6L759.9 910L761.2 910.2L762.6 910.3L763.9 910.2L765.1 910L766.3 909.7L767.5 909.3L768.5 908.9L769.5 908.4L770.5 907.9L771.4 907.4L772.2 906.7L773 906L773.7 905.2L774.4 904.5L775 903.7L775.5 902.9L775.9 902.1L776.3 901.3L776.7 900.4L777 899.6L777.2 898.7L777.4 897.8L777.4 896.9L777.4 896L777.3 895L777 894L776.6 893L776 892L775.4 891L774.8 890.1L774.3 889.3L773.9 888.7L773.6 888.2L772.6 888.6L772.8 889.2L773.1 889.9L773.4 890.9L773.7 891.8L773.9 892.8L774.2 893.8L774.3 894.7L774.3 895.4L774.3 896L774.2 896.6L774 897.2L773.8 897.8L773.6 898.4L773.3 899L773 899.6L772.7 900.1L772.3 900.7L771.8 901.3L771.3 901.8L770.8 902.4L770.2 902.9L769.6 903.3L769 903.7L768.3 904.1L767.6 904.4L766.8 904.8L765.9 905.1L765.1 905.4L764.2 905.7L763.4 905.8L762.5 905.9L761.8 905.8L760.9 905.7L759.9 905.4L758.9 905L757.8 904.6L756.8 904L755.7 903.5L754.8 902.9L753.9 902.3L753.2 901.6L752.5 901L751.9 900.3L751.2 899.5L750.7 898.7L750.1 897.9L749.6 897L749.2 896.1L748.8 895.2L748.4 894.3L748.1 893.3L747.8 892.2L747.5 891.1L747.3 890.1L747.1 889L747 888L746.9 887.1L746.8 886.2L746.8 885.3L746.8 884.5L746.9 883.7L747 882.8L747.2 882L747.4 881L747.7 879.9L748.1 878.7L748.5 877.5L749 876.3L749.5 875.1L750 874L750.7 872.9L751.4 872L752.2 871.1L753.2 870.2L754.2 869.3L755.4 868.5L756.6 867.7L757.8 866.9L759.1 866.3L760.3 865.7L761.6 865.3L762.9 864.9L764.4 864.7L765.9 864.4L767.5 864.3L768.9 864.1L770.3 864L771.5 863.9L772.5 863.8L773.2 863.7L773.8 863.7L774.2 863.7L774.6 863.7L775.1 863.8L775.9 863.9L776.8 864.1L778 864.3L779.4 864.5L780.8 864.7L782.3 865L783.9 865.4L785.4 865.8L786.8 866.3L788.2 866.8L789.6 867.5L791.1 868.3L792.7 869.1L794.2 870.1L795.6 871.1L797 872.1L798.3 873.1L799.4 874.1L800.3 875.1L801.2 876.1L801.9 877.1L802.6 878.2L803.3 879.3L803.9 880.4L804.4 881.6L805 882.8L805.5 884.1L805.9 885.3L806.3 886.6L806.6 888L806.9 889.3L807.2 890.7L807.4 892L807.5 893.4L807.6 894.7L807.6 896.1L807.6 897.4L807.6 898.8L807.5 900.2L807.3 901.7L807.2 903.2L807 904.7L806.8 906.3L806.6 907.9L806.3 909.6L806 911.3L805.6 913.1L805.3 914.9L805 916.9L804.6 918.9L804.3 921.1L803.9 923.5L803.5 926.1L803.2 928.8L802.8 931.3L802.5 933.6L802.2 935.5L802 936.9" fill="#fff" stroke="#000" stroke-width="1.5" stroke-linejoin="round" stroke-linecap="round"/>
<path d="M853.9 899L855 898.9L856.4 898.8L858.1 898.7L860 898.6L862 898.5L863.9 898.5L865.8 898.5L867.6 898.6L869.4 898.8L871.2 899L872.9 899.2L874.7 899.6L876.5 899.9L878.3 900.3L880.1 900.8L881.9 901.4L883.7 902L885.6 902.7L887.5 903.5L889.3 904.4L891.2 905.2L892.9 906.2L894.6 907.1L896.1 908L897.5 909L898.9 910L900.2 911L901.4 912.1L902.5 913.1L903.5 914.3L904.5 915.4L905.4 916.6L906.2 917.8L906.9 919.1L907.6 920.5L908.2 922L908.7 923.4L909.2 924.9L909.6 926.3L910 927.6L910.2 928.9L910.5 930L910.6 931.1L910.7 932.2L910.7 933.3L910.7 934.4L910.6 935.4L910.4 936.6L910.2 937.7L910 938.9L909.6 940.1L909.2 941.3L908.8 942.5L908.3 943.6L907.8 944.7L907.2 945.6L906.6 946.6L905.9 947.5L905.2 948.4L904.5 949.2L903.7 949.9L902.9 950.6L902 951.2L901.1 951.8L900.2 952.3L899.2 952.7L898.1 953.1L896.9 953.4L895.8 953.7L894.7 953.8L893.6 953.9L892.5 953.9L891.5 953.8L890.4 953.6L889.2 953.3L888.1 952.9L886.9 952.5L885.8 952L884.7 951.4L883.8 950.8L882.8 950.2L881.9 949.5L881.1 948.8L880.2 948L879.4 947.2L878.7 946.3L878.1 945.5L877.6 944.7L877.2 943.9L876.8 943L876.5 942.2L876.2 941.3L876.1 940.4L875.9 939.5L875.9 938.8L875.9 938.1L876 937.5L876.1 936.9L876.3 936.3L876.6 935.6L876.9 935L877.3 934.4L877.7 933.8L878.1 933.3L878.5 932.8L878.9 932.5L879.3 932.1L879.8 931.7L880.4 931.4L880.9 931.1L881.5 930.8L882.1 930.5L882.6 930.3L883.2 930L883.9 929.8L884.7 929.6L885.4 929.4L886 929.2L886.6 929.1L887 929L887 928L886.5 928L886 927.9L885.3 927.8L884.5 927.6L883.7 927.6L882.9 927.5L882 927.5L881.1 927.7L880.4 927.9L879.7 928.1L878.9 928.4L878.2 928.7L877.4 929.1L876.7 929.6L876 930.1L875.3 930.7L874.7 931.3L874.1 932L873.5 932.8L873 933.6L872.5 934.5L872 935.5L871.7 936.6L871.5 937.7L871.5 938.8L871.5 940L871.7 941.1L871.9 942.3L872.3 943.5L872.7 944.7L873.2 945.8L873.8 946.9L874.5 948L875.3 949L876.2 950.1L877.1 951.1L878.1 952L879.2 953L880.3 953.8L881.4 954.6L882.6 955.3L883.9 955.9L885.2 956.5L886.6 957L888 957.5L889.4 957.9L890.8 958.2L892.3 958.3L893.7 958.3L895.2 958.2L896.6 958L898 957.7L899.4 957.3L900.8 956.8L902 956.2L903.3 955.6L904.4 954.9L905.6 954.1L906.6 953.2L907.6 952.3L908.5 951.3L909.4 950.2L910.2 949.1L911 948L911.7 946.7L912.3 945.5L912.9 944.1L913.4 942.8L913.8 941.4L914.2 940L914.5 938.6L914.8 937.2L914.9 935.9L915.1 934.6L915.1 933.3L915.1 932L915 930.7L914.8 929.4L914.6 928L914.2 926.6L913.9 925.1L913.4 923.6L912.9 922L912.3 920.4L911.6 918.7L910.8 917.1L910 915.5L909 914L908 912.6L906.8 911.3L905.6 910L904.3 908.8L903 907.6L901.6 906.5L900.1 905.4L898.5 904.4L896.8 903.3L895 902.3L893.1 901.3L891.2 900.4L889.2 899.5L887.2 898.6L885.2 897.9L883.3 897.2L881.4 896.6L879.4 896.1L877.5 895.6L875.6 895.2L873.6 894.9L871.7 894.6L869.9 894.4L868 894.2L866 894.1L863.9 894.1L861.8 894.1L859.8 894.2L857.8 894.3L856.1 894.5L854.7 894.6L853.7 894.6" fill="#fff" stroke="#000" stroke-width="1.5" stroke-linejoin="round" stroke-linecap="round"/>
<path d="M741.3 882.4V601 A221.8 221.8 0 0 1 913 385.8" fill="none" stroke="#000" stroke-width="1.5"/>
<path d="M741.3 894.7L741.3 972" stroke="#000" stroke-width="1.5" fill="none" />
<path d="M752.8 618.6L752.8 882.4" stroke="#000" stroke-width="1.5" fill="none" />
<path d="M752.8 894.7L752.8 961.6" stroke="#000" stroke-width="1.5" fill="none" />
<path d="M913 385.8L915.4 390.2L915.4 925.6" stroke="#000" stroke-width="1.8" fill="none" />
<path d="M915.4 937.9L915.4 973" stroke="#000" stroke-width="1.8" fill="none" />
<path d="M904.7 399.5L904.7 962.3" stroke="#000" stroke-width="1.5" fill="none" />
<rect x="738.9" y="632.4" width="5.9" height="9" stroke="#222" stroke-width="1" fill="#999" />
<rect x="738.9" y="769.7" width="5.9" height="17.7" stroke="#222" stroke-width="1" fill="#999" />
<path d="M738.9 778.5L744.8 778.5" stroke="#000" stroke-width="1.2" fill="none" />
<rect x="738.9" y="916.3" width="5.9" height="18.2" stroke="#222" stroke-width="1" fill="#999" />
<path d="M738.9 925.4L744.8 925.4" stroke="#000" stroke-width="1.2" fill="none" /></g>
<circle cx="741.8" cy="971.6" r="1.2" fill="#55dd33"/>
<path d="M1010.2 390.2L1010.2 925.6" stroke="#000" stroke-width="3" fill="none" />
<path d="M1010.2 937.9L1010.2 973.2" stroke="#000" stroke-width="3" fill="none" />
<g><rect x="690.9" y="618.4" width="2.2" height="28.4" fill="#888"/>
<rect x="690.5" y="616.9" width="9" height="31.4" rx="2.5" fill="none" stroke="#222" stroke-width="1"/>
<path d="M690.5 632.6L699.5 632.6" stroke="#000" stroke-width="1" fill="none" />
<path d="M644.2 633 Q645 630.2 650 629.9 H680.5 V629.6 Q680.5 628.2 683 628.2 Q685.4 628.2 685.4 630.1 V635.9 Q685.4 637.8 683 637.8 Q680.5 637.8 680.5 636.4 V636 H650 Q645 635.8 644.2 633 Z" fill="#000"/>
<rect x="668.5" y="631.8" width="12" height="2.4" fill="#bbb"/>
<rect x="690.9" y="819.4" width="2.2" height="28.4" fill="#888"/>
<rect x="690.5" y="817.9" width="9" height="31.4" rx="2.5" fill="none" stroke="#222" stroke-width="1"/>
<path d="M690.5 833.6L699.5 833.6" stroke="#000" stroke-width="1" fill="none" />
<path d="M644.2 834 Q645 831.2 650 830.9 H680.5 V830.6 Q680.5 829.2 683 829.2 Q685.4 829.2 685.4 831.1 V836.9 Q685.4 838.8 683 838.8 Q680.5 838.8 680.5 837.4 V837 H650 Q645 836.8 644.2 834 Z" fill="#000"/>
<rect x="668.5" y="832.8" width="12" height="2.4" fill="#bbb"/>
<rect x="690.9" y="1004.7" width="2.2" height="28.4" fill="#888"/>
<rect x="690.5" y="1003.2" width="9" height="31.4" rx="2.5" fill="none" stroke="#222" stroke-width="1"/>
<path d="M690.5 1018.9L699.5 1018.9" stroke="#000" stroke-width="1" fill="none" />
<path d="M644.2 1019.3 Q645 1016.5 650 1016.2 H680.5 V1015.9 Q680.5 1014.5 683 1014.5 Q685.4 1014.5 685.4 1016.4 V1022.2 Q685.4 1024.1 683 1024.1 Q680.5 1024.1 680.5 1022.7 V1022.3 H650 Q645 1022.1 644.2 1019.3 Z" fill="#000"/>
<rect x="668.5" y="1018.1" width="12" height="2.4" fill="#bbb"/></g>
<g transform="translate(1925.6 0) scale(-1 1)"><rect x="690.9" y="618.4" width="2.2" height="28.4" fill="#888"/>
<rect x="690.5" y="616.9" width="9" height="31.4" rx="2.5" fill="none" stroke="#222" stroke-width="1"/>
<path d="M690.5 632.6L699.5 632.6" stroke="#000" stroke-width="1" fill="none" />
<path d="M644.2 633 Q645 630.2 650 629.9 H680.5 V629.6 Q680.5 628.2 683 628.2 Q685.4 628.2 685.4 630.1 V635.9 Q685.4 637.8 683 637.8 Q680.5 637.8 680.5 636.4 V636 H650 Q645 635.8 644.2 633 Z" fill="#000"/>
<rect x="668.5" y="631.8" width="12" height="2.4" fill="#bbb"/>
<rect x="690.9" y="819.4" width="2.2" height="28.4" fill="#888"/>
<rect x="690.5" y="817.9" width="9" height="31.4" rx="2.5" fill="none" stroke="#222" stroke-width="1"/>
<path d="M690.5 833.6L699.5 833.6" stroke="#000" stroke-width="1" fill="none" />
<path d="M644.2 834 Q645 831.2 650 830.9 H680.5 V830.6 Q680.5 829.2 683 829.2 Q685.4 829.2 685.4 831.1 V836.9 Q685.4 838.8 683 838.8 Q680.5 838.8 680.5 837.4 V837 H650 Q645 836.8 644.2 834 Z" fill="#000"/>
<rect x="668.5" y="832.8" width="12" height="2.4" fill="#bbb"/>
<rect x="690.9" y="1004.7" width="2.2" height="28.4" fill="#888"/>
<rect x="690.5" y="1003.2" width="9" height="31.4" rx="2.5" fill="none" stroke="#222" stroke-width="1"/>
<path d="M690.5 1018.9L699.5 1018.9" stroke="#000" stroke-width="1" fill="none" />
<path d="M644.2 1019.3 Q645 1016.5 650 1016.2 H680.5 V1015.9 Q680.5 1014.5 683 1014.5 Q685.4 1014.5 685.4 1016.4 V1022.2 Q685.4 1024.1 683 1024.1 Q680.5 1024.1 680.5 1022.7 V1022.3 H650 Q645 1022.1 644.2 1019.3 Z" fill="#000"/>
<rect x="668.5" y="1018.1" width="12" height="2.4" fill="#bbb"/></g>
<rect x="958.2" y="334" width="3.2" height="747.6" fill="#c4c4c4"/>
<path d="M958.2 333.5L958.2 1081.6" stroke="#000" stroke-width="1.2" fill="none" />
<path d="M961.3 305.8L961.3 1081.6" stroke="#000" stroke-width="1.2" fill="none" />
<path d="M963.6 333L963.6 1066" stroke="#000" stroke-width="2.6" fill="none" />
<path d="M967.3 322L967.3 1081.6" stroke="#000" stroke-width="1.2" fill="none" />
<path d="M970 354.8V480" stroke="#111" stroke-width="3.6" stroke-dasharray="25 11" fill="none"/>
<path d="M970 987V1066" stroke="#111" stroke-width="3.6" stroke-dasharray="17.5 11.4 25 11.7 14 50" fill="none"/>
<path d="M970 331L970 348" stroke="#000" stroke-width="3.2" fill="none" />
<rect x="967.8" y="322.5" width="3.8" height="7.2" stroke="#000" stroke-width="1.1" fill="#fff" />
<path d="M964.2 462L964.2 510" stroke="#000" stroke-width="4.2" fill="none" />
<rect x="967.6" y="477" width="4.7" height="16" stroke="#000" stroke-width="1.2" fill="#fff" />
<rect x="967.6" y="499.5" width="4.7" height="8" stroke="#000" stroke-width="1.2" fill="#fff" />
<path d="M964.2 946.7L964.2 1001.4" stroke="#000" stroke-width="4.4" fill="none" />
<rect x="967.6" y="955.7" width="4.8" height="7.8" stroke="#000" stroke-width="1.2" fill="#fff" />
<rect x="967.6" y="970.2" width="4.8" height="15.6" stroke="#000" stroke-width="1.2" fill="#fff" />
<rect x="968" y="1069.8" width="4.4" height="8.6" stroke="#000" stroke-width="1.1" fill="#fff" />
<rect x="954.3" y="776.9" width="7.3" height="15.9" stroke="#333" stroke-width="1" fill="#bbb" />
<path d="M940.5 305.8L940.5 729" stroke="#000" stroke-width="1.5" fill="none" />
<circle cx="940.5" cy="737.9" r="8.6" fill="#fff" stroke="#000" stroke-width="1.5"/>
<path d="M682 270.3L948 270.3" stroke="#000" stroke-width="1.4" fill="none" />
<path d="M977 270.3L1243.9 270.3" stroke="#000" stroke-width="1.4" fill="none" />
<path d="M682 270.3L697 267.6L697 273Z" fill="#000"/>
<path d="M1243.9 270.3L1228.9 273L1228.9 267.6Z" fill="#000"/>
<text x="962.3" y="277.4" font-size="18" text-anchor="middle" >72"</text>
<path d="M783.8 314.3L940.4 314.3" stroke="#000" stroke-width="1.4" fill="none" />
<path d="M940.4 314.3L925.4 317L925.4 311.6Z" fill="#000"/>
<path d="M962 314.3L994 314.3" stroke="#000" stroke-width="1.4" fill="none" />
<path d="M962.2 314.3L977.2 311.6L977.2 317Z" fill="#000"/>
<text x="740.5" y="311" font-size="18.5" >2</text>
<text x="751.2" y="305" font-size="18" >3</text>
<path d="M754.8 316L770.9 293" stroke="#000" stroke-width="1.9" fill="none" />
<text x="764.3" y="318" font-size="18" >4</text>
<text x="774.5" y="311.2" font-size="18" >"</text>
<text x="738" y="337.9" font-size="17.8" textLength="46.5" lengthAdjust="spacing" >bckst.</text>
<path d="M962 320.3L1345.5 320.3" stroke="#000" stroke-width="1.4" fill="none" />
<path d="M1246 1081.5L1345.5 1081.5" stroke="#000" stroke-width="1.6" fill="none" />
<path d="M1336.8 320.3L1336.8 646.8" stroke="#000" stroke-width="1.4" fill="none" />
<path d="M1336.8 690.9L1336.8 1081.4" stroke="#000" stroke-width="1.4" fill="none" />
<path d="M1336.8 320.3L1339.5 335.3L1334.1 335.3Z" fill="#000"/>
<path d="M1336.8 1081.4L1334.1 1066.4L1339.5 1066.4Z" fill="#000"/>
<g transform="translate(1342.5 691) rotate(-90)"><text x="0" y="0" font-size="18.7">97</text><text x="16.5" y="-7.6" font-size="18">1</text><path d="M19 5.3L34.8 -17.6" stroke="#000" stroke-width="1.9"/><text x="28" y="7.1" font-size="18">2</text><text x="39.2" y="0" font-size="18">"</text></g>
<path d="M949.2 737.9L1323.8 737.9" stroke="#000" stroke-width="1.5" fill="none" />
<path d="M1314.6 737.9L1314.6 850" stroke="#000" stroke-width="1.4" fill="none" />
<path d="M1314.6 960L1314.6 1081.4" stroke="#000" stroke-width="1.4" fill="none" />
<path d="M1314.6 737.9L1317.3 752.9L1311.9 752.9Z" fill="#000"/>
<path d="M1314.6 1081.4L1311.9 1066.4L1317.3 1066.4Z" fill="#000"/>
<text transform="translate(1320.8 905.5) rotate(-90)" font-size="18" text-anchor="middle" textLength="106" lengthAdjust="spacing">Deadbolt 44"</text>
<path d="M958 785L1296.4 785" stroke="#000" stroke-width="1.5" fill="none" />
<path d="M1287.8 785L1287.8 853" stroke="#000" stroke-width="1.4" fill="none" />
<path d="M1287.8 984L1287.8 1081.4" stroke="#000" stroke-width="1.4" fill="none" />
<path d="M1287.8 785L1290.5 800L1285.1 800Z" fill="#000"/>
<path d="M1287.8 1081.4L1285.1 1066.4L1290.5 1066.4Z" fill="#000"/>
<text transform="translate(1293.5 919.5) rotate(-90)" font-size="18" text-anchor="middle" textLength="128" lengthAdjust="spacing">Roller catch 38"</text>
<path d="M1186.8 972.3L1270.4 972.3" stroke="#000" stroke-width="1.4" fill="none" />
<path d="M1232 1066L1270.4 1066" stroke="#000" stroke-width="1.4" fill="none" />
<path d="M1261.8 950L1261.8 972.3" stroke="#000" stroke-width="1.3" fill="none" />
<path d="M1261.8 972.3L1259.6 961.3L1264 961.3Z" fill="#000"/>
<path d="M1261.8 1066L1261.8 1088.6" stroke="#000" stroke-width="1.3" fill="none" />
<path d="M1261.8 1066L1264 1077L1259.6 1077Z" fill="#000"/>
<text transform="translate(1268 995) rotate(-90)" font-size="18" text-anchor="middle">12"</text>
<path d="M665.3 460.2L963 489.3" stroke="#000" stroke-width="0.9" fill="none" />
<rect x="554.7" y="441.3" width="110.6" height="23.7" stroke="#555" stroke-width="1.4" fill="#fff" />
<text x="557.5" y="458.2" font-size="16" textLength="102.7" lengthAdjust="spacing" >Flush bolt (2x)</text>
<path d="M666.7 547.7L717 547.7" stroke="#000" stroke-width="0.9" fill="none" />
<circle cx="717" cy="547.7" r="1.8"/>
<rect x="544" y="530.2" width="122.7" height="20.3" stroke="#555" stroke-width="1.4" fill="#fff" />
<text x="546.8" y="546.3" font-size="16" textLength="115" lengthAdjust="spacing" >Door thick 2"x6"</text>
<path d="M663.1 592L739.2 625.8" stroke="#000" stroke-width="0.9" fill="none" />
<circle cx="739.2" cy="625.8" r="2"/>
<rect x="551" y="573.6" width="112.1" height="46.6" stroke="#555" stroke-width="1.4" fill="#fff" />
<text x="554.2" y="594" font-size="16" textLength="62.3" lengthAdjust="spacing" >Hinge: Ø</text>
<text x="617.8" y="585.8" font-size="9.5">5</text><path d="M617.2 587.3H624" stroke="#000" stroke-width="1"/><text x="617.8" y="597.5" font-size="9.5">8</text><text x="624.1" y="589.4" font-size="10.5">"</text>
<text x="630.4" y="594" font-size="16" >x2</text>
<text x="647.6" y="585.8" font-size="9.5">1</text><path d="M647 587.3H653.8" stroke="#000" stroke-width="1"/><text x="647.6" y="597.5" font-size="9.5">4</text><text x="653.9" y="589.4" font-size="10.5">"</text>
<text x="555.3" y="613.1" font-size="16" textLength="73.4" lengthAdjust="spacing" >Glass (3x)</text>
<path d="M662 705.3L842.2 705.3" stroke="#000" stroke-width="0.9" fill="none" />
<circle cx="842.2" cy="705.3" r="1.8"/>
<rect x="544.1" y="686.6" width="117.7" height="48.4" stroke="#555" stroke-width="1.4" fill="#fff" />
<text x="548.2" y="704" font-size="16" textLength="108.8" lengthAdjust="spacing" >Forging square</text>
<text x="548.9" y="718.9" font-size="9.5">5</text><path d="M548.3 720.4H555.1" stroke="#000" stroke-width="1"/><text x="548.9" y="730.6" font-size="9.5">8</text><text x="555.2" y="722.5" font-size="10.5">"</text>
<text x="560.6" y="727.1" font-size="16" >x</text>
<text x="568.8" y="718.9" font-size="9.5">5</text><path d="M568.2 720.4H575" stroke="#000" stroke-width="1"/><text x="568.8" y="730.6" font-size="9.5">8</text><text x="575.1" y="722.5" font-size="10.5">"</text>
<path d="M660.8 781.3L958 781.5" stroke="#000" stroke-width="0.9" fill="none" />
<rect x="531" y="761.9" width="129.8" height="23.1" stroke="#555" stroke-width="1.4" fill="#fff" />
<text x="533.9" y="777.7" font-size="16" textLength="123" lengthAdjust="spacing" >Roller catch  (1x)</text>
<path d="M668.6 892.3L701 937" stroke="#000" stroke-width="0.9" fill="none" />
<circle cx="701" cy="937.3" r="1.8"/>
<rect x="574.3" y="875" width="94.3" height="46.8" stroke="#555" stroke-width="1.4" fill="#fff" />
<text x="594.5" y="890.9" font-size="16" textLength="69.5" lengthAdjust="spacing" >Door stop</text>
<text x="576.9" y="914.5" font-size="16" textLength="47.5" lengthAdjust="spacing" >PTR: 1</text>
<text x="625.6" y="906.3" font-size="9.5">1</text><path d="M625 907.8H631.8" stroke="#000" stroke-width="1"/><text x="625.6" y="918" font-size="9.5">4</text><text x="631.9" y="909.9" font-size="10.5">"</text>
<text x="637.3" y="914.5" font-size="16" >x</text>
<text x="652.6" y="906.3" font-size="9.5">3</text><path d="M652 907.8H658.8" stroke="#000" stroke-width="1"/><text x="652.6" y="918" font-size="9.5">4</text><text x="658.9" y="909.9" font-size="10.5">"</text>
<path d="M663.4 970.2L694.6 1003.4" stroke="#000" stroke-width="0.9" fill="none" />
<rect x="554.6" y="951.5" width="108.8" height="43.3" stroke="#555" stroke-width="1.4" fill="#fff" />
<text x="557.5" y="967.4" font-size="16" textLength="101.5" lengthAdjust="spacing" >Hinge: Ø1"x4"</text>
<text x="557.5" y="987.6" font-size="16" textLength="67" lengthAdjust="spacing" >Door (3x)</text>
<path d="M662.9 1049.6L712.8 1073.3" stroke="#000" stroke-width="0.9" fill="none" />
<circle cx="712.8" cy="1073.3" r="1.8"/>
<rect x="569.6" y="1030.9" width="93.3" height="42.4" stroke="#555" stroke-width="1.4" fill="#fff" />
<text x="572.8" y="1046.7" font-size="16" textLength="72" lengthAdjust="spacing" >Threshold</text>
<text x="572.8" y="1066.3" font-size="16" textLength="86" lengthAdjust="spacing" >(See Detail)</text>
<!-- part_left -->
<path d="M205.6 367.2L228.6 354.8L296.6 392.6L296.6 414.5" stroke="#000" stroke-width="1.6" fill="none" />
<path d="M296.6 414.5C296.1 415.7 295.4 419.6 293.5 421.5C291.6 423.4 288.3 425 285 426C281.7 427 275.4 427.3 273.5 427.6" fill="none" stroke="#000" stroke-width="1.6" stroke-linecap="round"/>
<path d="M205.6 493.2L205.6 367.2L273.5 405L273.5 428" stroke="#000" stroke-width="1.6" fill="none" />
<path d="M228.6 354.8L228.6 378.6" stroke="#000" stroke-width="1.6" fill="none" />
<path d="M273.5 428C273.3 429.8 273.5 435.7 272.5 439C271.5 442.3 269.6 445.5 267.5 448C265.4 450.5 263.4 452.1 260 454C256.6 455.9 251 458.1 247 459.4C243 460.7 239 461.1 236 462C233 462.9 230.9 463.4 229 465C227.1 466.6 225.4 469.3 224.6 471.8C223.8 474.3 225.6 477.2 224.4 480C223.2 482.8 220.5 486.1 217.4 488.3C214.3 490.5 207.6 492.4 205.6 493.2" fill="none" stroke="#000" stroke-width="1.6" stroke-linecap="round"/>
<path d="M273.5 428C272.9 428.8 271.6 431.4 270 432.5C268.4 433.6 266.3 434.3 264 434.6C261.7 434.9 258.6 434 256.4 434.3C254.2 434.6 252.3 435.2 251 436.5C249.7 437.8 249.2 439.5 248.8 442C248.5 444.5 249.2 448.8 248.9 451.7C248.6 454.6 247.1 457 247 459.4C246.9 461.8 248.5 464.1 248.3 466C248.1 467.9 247.4 469.4 246 471C244.6 472.6 242.2 474.7 239.9 475.9C237.6 477.1 234.2 477.7 232 478.3C229.8 478.9 228.3 479 226.9 479.6C225.5 480.2 224.1 481.6 223.5 482" fill="none" stroke="#000" stroke-width="1.6" stroke-linecap="round"/>
<ellipse cx="249.9" cy="379.6" rx="5.1" ry="5.9" transform="rotate(-20 249.9 379.6)" fill="none" stroke="#000" stroke-width="1.6"/>
<ellipse cx="228.6" cy="394.4" rx="5.1" ry="5.9" transform="rotate(-20 228.6 394.4)" fill="none" stroke="#000" stroke-width="1.6"/>
<path d="M196.7 347.1L212.7 347.1L247 377.3" stroke="#000" stroke-width="1.6" fill="none" />
<circle cx="243.4" cy="373.9" r="1.8"/>
<path d="M184.9 371.9L200.9 371.9L226.3 392.6" stroke="#000" stroke-width="1.6" fill="none" />
<circle cx="222.7" cy="389.2" r="1.8"/>
<path d="M174.9 418L228.6 418" stroke="#000" stroke-width="1.6" fill="none" />
<path d="M228.6 398.5L228.6 422.7" stroke="#000" stroke-width="1.6" fill="none" />
<text x="157.3" y="353.1" font-size="14" textLength="35.4" lengthAdjust="spacing" >Ø1/4"</text>
<text x="145.5" y="378" font-size="14" textLength="35.4" lengthAdjust="spacing" >Ø5/8"</text>
<text x="141.2" y="423.2" font-size="14" textLength="33" lengthAdjust="spacing" >1 1/2"</text>
<text x="259.3" y="359" font-size="16.5" textLength="53.1" lengthAdjust="spacing" >outside</text>
<text x="142.4" y="494.1" font-size="16.5" textLength="43.3" lengthAdjust="spacing" >inside</text>
<text x="106.9" y="521.3" font-size="16.5" textLength="226.4" lengthAdjust="spacing" >Std. Preparation for Installation</text>
<text x="147.1" y="725.2" font-size="15.2" textLength="81.9" lengthAdjust="spacing" >1 1/4" x 3/4"</text>
<text x="160.9" y="742.9" font-size="15.2" textLength="68" lengthAdjust="spacing" >Door Stop</text>
<text x="282.9" y="744.9" font-size="14" textLength="34" lengthAdjust="spacing" >1 1/2"</text>
<text transform="translate(364.5 770) rotate(-31)" font-size="14" text-anchor="start">Ø5/8"</text>
<text x="284.9" y="863" font-size="14" text-anchor="middle" >6"</text>
<path d="M218 755.5L218 863" stroke="#000" stroke-width="1.6" fill="none" />
<path d="M218 755.5C220.3 754.8 227.3 751.8 232 751C236.7 750.2 241 749.8 246 750.5C251 751.2 256.5 753.5 262 755C267.5 756.5 273.3 759.2 279 759.5C284.7 759.8 290.8 758.2 296 757C301.2 755.8 305.3 752.9 310 752C314.7 751.1 319 751 324 751.5C329 752 335.2 754.3 340 755C344.8 755.7 350.8 755.4 353 755.5" fill="none" stroke="#000" stroke-width="1.6" stroke-linecap="round"/>
<path d="M218 836.5C220.3 835.8 227.3 833.2 232 832.5C236.7 831.8 241 831.4 246 832C251 832.6 256.5 834.7 262 836C267.5 837.3 273.3 839.7 279 840C284.7 840.3 290.8 839.1 296 838C301.2 836.9 305.3 834.3 310 833.5C314.7 832.7 319 832.5 324 833C329 833.5 335.2 835.8 340 836.5C344.8 837.2 350.8 836.9 353 837" fill="none" stroke="#000" stroke-width="1.6" stroke-linecap="round"/>
<path d="M279 759.5L279 840" stroke="#000" stroke-width="1.6" fill="none" />
<path d="M314.4 751.5L314.4 833.5" stroke="#000" stroke-width="1.6" fill="none" />
<path d="M353 734L353 863" stroke="#000" stroke-width="1.6" fill="none" />
<path d="M320.3 735L320.3 790" stroke="#000" stroke-width="1.6" fill="none" />
<path d="M320.3 738.2L353 738.2" stroke="#000" stroke-width="1.6" fill="none" />
<circle cx="321.1" cy="796" r="5.6" fill="#fff" stroke="#000" stroke-width="1.6"/>
<path d="M318 796L324.2 796" stroke="#000" stroke-width="1.2" fill="none" />
<path d="M321.1 793L321.1 799" stroke="#000" stroke-width="1.2" fill="none" />
<path d="M325.5 792.5L363.6 768.5" stroke="#000" stroke-width="1.6" fill="none" />
<path d="M234.9 720.1L250.6 720.1L283 769" stroke="#000" stroke-width="1.6" fill="none" />
<path d="M288.8 777.2L280.2 768.5L284 766Z" fill="#000"/>
<path d="M218 858.3L277 858.3" stroke="#000" stroke-width="1.6" fill="none" />
<path d="M293 858.3L353 858.3" stroke="#000" stroke-width="1.6" fill="none" />
<!-- part_topright -->
<rect x="1446.8" y="394.7" width="34" height="130.6" stroke="url(#dots)" stroke-width="4.2" fill="#fff" />
<rect x="1444.8" y="392.7" width="38" height="134.6" stroke="#000" stroke-width="0.8" fill="none" />
<rect x="1449" y="396.8" width="29.2" height="126.4" stroke="#000" stroke-width="0.8" fill="none" />
<text transform="translate(1469.3 461.3) rotate(-90)" font-size="14.6" text-anchor="middle" textLength="102" lengthAdjust="spacing">JAMB 6"x1-1/2"</text>
<circle cx="1485.1" cy="381.4" r="12.4" fill="#fff" stroke="#000" stroke-width="1.6"/>
<path d="M1480.5 381.4L1489.7 381.4" stroke="#000" stroke-width="1.4" fill="none" />
<path d="M1485.1 376.8L1485.1 386" stroke="#000" stroke-width="1.4" fill="none" />
<path d="M1485.6 369L1487 354.3L1493.6 354.3" stroke="#000" stroke-width="1.5" fill="none" />
<text x="1494.1" y="350.7" font-size="14.7" >Hinge</text>
<text x="1501" y="368.7" font-size="14.7" >Ø1"</text>
<path d="M1484.7 393L1484.7 441" stroke="#000" stroke-width="1" fill="none" />
<rect x="1487.2" y="394.4" width="144" height="46.6" stroke="#111" stroke-width="3" fill="#fff" />
<text x="1497.2" y="424.7" font-size="21.2" textLength="118.9" lengthAdjust="spacing" >DOOR 6"x2"</text>
<rect x="1607" y="381.6" width="24.2" height="12.4" stroke="#000" stroke-width="1.6" fill="#fff" />
<circle cx="1615.2" cy="373.2" r="7.4" fill="#fff" stroke="#000" stroke-width="1.5"/>
<path d="M1612.2 373.2L1618.2 373.2" stroke="#000" stroke-width="1.3" fill="none" />
<path d="M1615.2 370.2L1615.2 376.2" stroke="#000" stroke-width="1.3" fill="none" />
<text transform="translate(1558.5 354.5) rotate(17.5)" font-size="15.5" text-anchor="start">Ø5/8"</text>
<path d="M1600 366.8L1608.5 370.2" stroke="#000" stroke-width="1.3" fill="none" />
<path d="M1666 376L1802 376" stroke="#555" stroke-width="0.9" fill="none" />
<path d="M1648.2 388.7L1802 388.7" stroke="#555" stroke-width="0.9" fill="none" stroke-dasharray="25.3 11.4"/>
<path d="M1717 388.7L1802 388.7" stroke="#555" stroke-width="0.9" fill="none" />
<path d="M1648.2 391.6L1802 391.6" stroke="#666" stroke-width="0.9" fill="none" stroke-dasharray="25.3 11.4"/>
<path d="M1648.2 400.8L1804 400.8" stroke="#000" stroke-width="2" fill="none" stroke-dasharray="25.3 11.4"/>
<path d="M1648.2 404.1L1804 404.1" stroke="#000" stroke-width="2" fill="none" stroke-dasharray="25.3 11.4"/>
<path d="M1733.5 374.8L1733.5 377.2" stroke="#555" stroke-width="0.8" fill="none" />
<path d="M1634.2 374.8L1634.2 408.3L1665.8 408.3" stroke="#000" stroke-width="1.8" fill="none" />
<path d="M1636.6 376.5L1636.6 405.6L1665.8 405.6" stroke="#000" stroke-width="1.2" fill="none" />
<path d="M1625 374.8L1656 374.8" stroke="#000" stroke-width="1.8" fill="none" />
<path d="M1630 377L1654 377" stroke="#000" stroke-width="1.2" fill="none" />
<rect x="1637.8" y="376.6" width="13.5" height="28" stroke="#000" stroke-width="1.6" fill="#fff" />
<rect x="1652.2" y="376" width="1.8" height="28.6" stroke="#000" stroke-width="0.8" fill="#bbb" />
<rect x="1654" y="376" width="11.8" height="12.6" stroke="#000" stroke-width="0.8" fill="url(#hatch)" />
<rect x="1654" y="391.3" width="8.2" height="10.1" stroke="#000" stroke-width="0.5" fill="#000" />
<g transform="translate(3470.2 0) scale(-1 1)"><path d="M1634.2 374.8L1634.2 408.3L1665.8 408.3" stroke="#000" stroke-width="1.8" fill="none" />
<path d="M1636.6 376.5L1636.6 405.6L1665.8 405.6" stroke="#000" stroke-width="1.2" fill="none" />
<path d="M1625 374.8L1656 374.8" stroke="#000" stroke-width="1.8" fill="none" />
<path d="M1630 377L1654 377" stroke="#000" stroke-width="1.2" fill="none" />
<rect x="1637.8" y="376.6" width="13.5" height="28" stroke="#000" stroke-width="1.6" fill="#fff" />
<rect x="1652.2" y="376" width="1.8" height="28.6" stroke="#000" stroke-width="0.8" fill="#bbb" />
<rect x="1654" y="376" width="11.8" height="12.6" stroke="#000" stroke-width="0.8" fill="url(#hatch)" />
<rect x="1654" y="391.3" width="8.2" height="10.1" stroke="#000" stroke-width="0.5" fill="#000" /></g>
<path d="M1648.2 426.5L1836 426.5" stroke="#000" stroke-width="1.7" fill="none" stroke-dasharray="25.3 11.4"/>
<path d="M1648.2 441.6L1836 441.6" stroke="#000" stroke-width="1.7" fill="none" stroke-dasharray="25.3 11.4"/>
<rect x="1631.4" y="426.5" width="16.3" height="15" stroke="#000" stroke-width="1.4" fill="none" />
<path d="M1820.6 426.5L1836 426.5" stroke="#000" stroke-width="1.5" fill="none" />
<path d="M1820 441.6L1836 441.6" stroke="#000" stroke-width="1.5" fill="none" />
<path d="M1820.6 426.5L1820.6 441.5" stroke="#000" stroke-width="1.4" fill="none" />
<circle cx="1637.8" cy="437" r="2"/>
<path d="M1637.8 437L1699.2 460.9" stroke="#000" stroke-width="0.9" fill="none" />
<text x="1706.2" y="464.3" font-size="15" >5</text>
<path d="M1705.2 466.4L1715.6 466.4" stroke="#000" stroke-width="1.1" fill="none" />
<text x="1706.2" y="482.3" font-size="15" >8</text>
<text x="1716.8" y="469" font-size="15" >"</text>
<rect x="1726.3" y="462.7" width="11.7" height="10.8" stroke="#000" stroke-width="1.5" fill="none" />
<path d="M1724.3 475.4L1740 459.8" stroke="#000" stroke-width="1.3" fill="none" />
<rect x="1486.9" y="450.6" width="18.1" height="30.1" stroke="#000" stroke-width="1.5" fill="#fff" />
<rect x="1482.8" y="464.5" width="4.1" height="16.2" stroke="#000" stroke-width="1" fill="none" />
<text transform="translate(1533.5 473.5) rotate(-90)" font-size="16" text-anchor="middle">3/8"</text>
<path d="M1528 434.7L1528 441" stroke="#000" stroke-width="1.3" fill="none" />
<path d="M1487 441.3L1533 441.3" stroke="#000" stroke-width="1.3" fill="none" />
<path d="M1487 450.6L1533 450.6" stroke="#000" stroke-width="1.5" fill="none" />
<path d="M1528 450.6L1528 457.2" stroke="#000" stroke-width="1.3" fill="none" />
<path d="M1494.1 482L1538.4 506L1549.2 506" stroke="#000" stroke-width="1.8" fill="none" />
<text x="1597.7" y="512" font-size="12.6" text-anchor="middle" textLength="75.9" lengthAdjust="spacing" >STOP DOOR</text>
<text x="1597.7" y="526.8" font-size="12.6" text-anchor="middle" >PTR</text>
<text x="1598" y="541.8" font-size="12.6" text-anchor="middle" textLength="68" lengthAdjust="spacing" >1-1/4" x 3/4"</text>
<rect x="1740.4" y="331.7" width="13" height="11.7" stroke="#000" stroke-width="1.6" fill="none" />
<path d="M1738.6 329.7L1754.6 344.5" stroke="#000" stroke-width="1.3" fill="none" />
<text x="1757.8" y="334.4" font-size="15" >1</text>
<path d="M1756.8 337.1L1766 337.1" stroke="#000" stroke-width="1.1" fill="none" />
<text x="1757.6" y="351.6" font-size="15" >2</text>
<text x="1766.5" y="340" font-size="15" font-weight="bold">"</text>
<path d="M1777.8 351.6L1803.1 376" stroke="#444" stroke-width="0.9" fill="none" />
<text x="1754.3" y="420.2" font-size="16.5" textLength="42.5" lengthAdjust="spacing" >1 1/4"</text>
<path d="M1799.5 414.4L1829 414.4" stroke="#000" stroke-width="1.3" fill="none" />
<path d="M1802.2 411.2L1802.2 419.3" stroke="#000" stroke-width="1.3" fill="none" />
<path d="M1829 408L1829 419" stroke="#000" stroke-width="1.2" fill="none" />
<rect x="1836" y="380.8" width="24.5" height="13.2" stroke="#000" stroke-width="1.6" fill="#fff" />
<rect x="1836.2" y="394.4" width="145" height="46.6" rx="2.5" fill="#fff" stroke="#111" stroke-width="3"/>
<rect x="1986.8" y="394.4" width="145" height="46.6" rx="2.5" fill="#fff" stroke="#111" stroke-width="3"/>
<rect x="2108" y="380.8" width="24" height="13.2" stroke="#000" stroke-width="1.6" fill="#fff" />
<path d="M2125 374.6L2151.7 374.6" stroke="#000" stroke-width="1.8" fill="none" />
<path d="M2128 377.2L2151.7 377.2" stroke="#000" stroke-width="1.2" fill="none" />
<path d="M2134 376L2134 407.6L2151.7 407.6" stroke="#000" stroke-width="1.8" fill="none" />
<path d="M2136.6 378L2136.6 405L2151.7 405" stroke="#000" stroke-width="1.2" fill="none" />
<path d="M2151.7 379L2140 379L2140 402.5L2151.7 402.5" stroke="#000" stroke-width="1.5" fill="none" />
<path d="M2151.2 374L2151.2 408" stroke="#000" stroke-width="1" fill="none" />
<path d="M2132 426.5L2151.7 426.5" stroke="#000" stroke-width="1.5" fill="none" />
<path d="M2132 441.6L2151.7 441.6" stroke="#000" stroke-width="1.5" fill="none" />
<path d="M2147.8 426.5L2147.8 441.5" stroke="#000" stroke-width="1.3" fill="none" />
<rect x="1969.6" y="450.6" width="15.2" height="15.9" stroke="#000" stroke-width="0.9" fill="url(#hatch)" />
<rect x="1969.6" y="466.4" width="30.6" height="4" stroke="#000" stroke-width="0.9" fill="url(#hatch)" />
<rect x="1988.8" y="442.8" width="10" height="22.4" stroke="#000" stroke-width="2.2" fill="#fff" />
<path d="M1984.8 442L1984.8 451" stroke="#000" stroke-width="1.2" fill="none" />
<path d="M1982 443.2C1980.7 443.2 1975.8 442.9 1974 443.4C1972.2 443.9 1970.7 445.2 1971 446C1971.3 446.8 1974.5 447.5 1976 448.2C1977.5 448.9 1979.3 449.7 1980 450" fill="none" stroke="#000" stroke-width="1" stroke-linecap="round"/>
<!-- part_vsection -->
<rect x="1916.2" y="577.6" width="120.7" height="27.9" stroke="url(#dots)" stroke-width="4.2" fill="#fff" />
<rect x="1914.2" y="575.6" width="124.7" height="31.9" stroke="#000" stroke-width="0.8" fill="none" />
<rect x="1918.4" y="579.8" width="116.3" height="23.5" stroke="#000" stroke-width="0.8" fill="none" />
<path d="M1963.3 609L1963.3 1133.5" stroke="#000" stroke-width="2.3" fill="none" />
<path d="M1986.8 609L1986.8 1128.5" stroke="#000" stroke-width="2.8" fill="none" />
<path d="M1962.5 611L1987.5 611" stroke="#000" stroke-width="1.5" fill="none" />
<path d="M1974 607.5L1974 611" stroke="#000" stroke-width="1" fill="none" />
<rect x="1997.2" y="607.5" width="40.2" height="119.9" stroke="#000" stroke-width="2" fill="#fff" />
<rect x="2037.4" y="708.4" width="10.5" height="21.2" stroke="#000" stroke-width="1.3" fill="#fff" />
<rect x="1997.2" y="727.4" width="12.3" height="14.5" stroke="#000" stroke-width="1.3" fill="none" />
<path d="M1997.2 756L1997.2 859" stroke="#000" stroke-width="1.5" fill="none" stroke-dasharray="25 10"/>
<path d="M2009.5 756L2009.5 859" stroke="#000" stroke-width="1.5" fill="none" stroke-dasharray="25 10"/>
<rect x="1997.2" y="859.1" width="12.3" height="12.3" stroke="#000" stroke-width="1.3" fill="none" />
<rect x="2026" y="746" width="15.8" height="108" fill="#d8d8d8"/>
<path d="M2026.3 746L2026.3 854" stroke="#666" stroke-width="0.8" fill="none" />
<path d="M2029 746L2029 854" stroke="#666" stroke-width="0.8" fill="none" />
<path d="M2031.5 746L2031.5 854" stroke="#666" stroke-width="0.8" fill="none" />
<path d="M2034.5 746L2034.5 854" stroke="#666" stroke-width="0.8" fill="none" />
<path d="M2037.5 746L2037.5 854" stroke="#666" stroke-width="0.8" fill="none" />
<path d="M2041.5 746L2041.5 854" stroke="#666" stroke-width="0.8" fill="none" />
<rect x="2028" y="776" width="12" height="6" fill="#fff"/><rect x="2028" y="812" width="12" height="6" fill="#fff"/>
<path d="M2051.9 756L2051.9 845" stroke="#555" stroke-width="0.8" fill="none" />
<rect x="2025.6" y="731" width="26.9" height="15.4" stroke="#000" stroke-width="1.8" fill="#fff" />
<rect x="2029" y="734.2" width="20" height="9.2" stroke="#000" stroke-width="1.5" fill="#fff" />
<path d="M2051.9 720.7L2051.9 747.5" stroke="#000" stroke-width="2.6" fill="none" />
<rect x="2041.8" y="747.5" width="10.1" height="8.9" stroke="#000" stroke-width="0.8" fill="url(#hatch)" />
<path d="M2026.4 746L2026.4 757" stroke="#000" stroke-width="2.4" fill="none" />
<rect x="2041.8" y="843.5" width="10.1" height="10" stroke="#000" stroke-width="0.8" fill="url(#hatch)" />
<rect x="2025.6" y="854.6" width="26.9" height="15" stroke="#000" stroke-width="1.8" fill="#fff" />
<rect x="2029" y="857.6" width="20" height="9" stroke="#000" stroke-width="1.5" fill="#fff" />
<path d="M2051.9 854.6L2051.9 880.3" stroke="#000" stroke-width="2.6" fill="none" />
<path d="M2026.4 843L2026.4 855" stroke="#000" stroke-width="2.4" fill="none" />
<rect x="1998.2" y="871.8" width="39.3" height="242.8" stroke="#000" stroke-width="2.4" fill="#fff" />
<rect x="2037.5" y="871.8" width="10.4" height="20.8" stroke="#000" stroke-width="1.3" fill="#fff" />
<path d="M1997 871.6L2125.5 871.6" stroke="#000" stroke-width="1.5" fill="none" />
<path d="M2037 1116.4L2125.5 1116.4" stroke="#000" stroke-width="1.5" fill="none" />
<path d="M2104.5 872L2104.5 970" stroke="#000" stroke-width="1.5" fill="none" />
<path d="M2104.5 1013L2104.5 1116" stroke="#000" stroke-width="1.5" fill="none" />
<path d="M2104.5 871.8L2109.5 893.8L2099.5 893.8Z" fill="#000"/>
<path d="M2104.5 1116.2L2099.5 1094.2L2109.5 1094.2Z" fill="#000"/>
<text transform="translate(2114.2 992) rotate(-90)" font-size="27" text-anchor="middle">12"</text>
<text transform="translate(2024.4 993) rotate(-90)" font-size="18" text-anchor="middle" textLength="111" lengthAdjust="spacing">DOOR 12"x2"</text>
<text transform="translate(1939.8 820.6) rotate(-90)" font-size="30.4" text-anchor="middle">Ext.</text>
<text transform="translate(2048.5 818.5) rotate(90)" font-size="30" text-anchor="middle">Int.</text>
<rect x="2012.6" y="1116.6" width="24.5" height="11" fill="#fff" stroke="#000" stroke-width="1"/>
<path d="M2015.5 1117L2015.5 1127.6" stroke="#000" stroke-width="2.4" fill="none" />
<path d="M2021 1117L2021 1127.6" stroke="#000" stroke-width="2.4" fill="none" />
<path d="M2026.5 1117L2026.5 1127.6" stroke="#000" stroke-width="2.4" fill="none" />
<path d="M2032 1117L2032 1127.6" stroke="#000" stroke-width="2.4" fill="none" />
<path d="M1918.1 1148.7L1918.1 1158.4L2037.5 1158.4L2037.5 1129L1986.4 1129Z" stroke="#000" stroke-width="2.6" fill="#fff" />
<text x="1823.1" y="1063.4" font-size="14.2" textLength="78" lengthAdjust="spacing" >Door bottom</text>
<text x="1901" y="1081.3" font-size="14.2" text-anchor="end" >sweep</text>
<path d="M1905 1083.6L1927.3 1083.6L2010 1119.8" stroke="#444" stroke-width="0.9" fill="none" />
<g transform="translate(1857 1131.5) rotate(-90)" fill="#777"><text x="0" y="-4" font-size="14">1</text><path d="M-1 -2H9.5" stroke="#777" stroke-width="0.9"/><text x="0" y="9.5" font-size="14">2</text><text x="9.5" y="-4" font-size="15">”</text></g>
<path d="M1848.6 1148.7L1907 1148.7" stroke="#000" stroke-width="1.2" fill="none" />
<path d="M1848.6 1158.4L1907 1158.4" stroke="#000" stroke-width="1.2" fill="none" />
<path d="M1853.3 1133L1853.3 1148.7" stroke="#000" stroke-width="1" fill="none" />
<path d="M1853.3 1148.7L1851.7 1141.7L1854.9 1141.7Z" fill="#000"/>
<path d="M1853.3 1158.4L1853.3 1172.3" stroke="#000" stroke-width="1" fill="none" />
<path d="M1853.3 1158.4L1854.9 1165.4L1851.7 1165.4Z" fill="#000"/>
<path d="M1918.1 1171L1918.1 1215.6" stroke="#000" stroke-width="1" fill="none" />
<path d="M2037.5 1171L2037.5 1215.6" stroke="#000" stroke-width="1" fill="none" />
<path d="M1904.5 1210.9L1918 1210.9" stroke="#000" stroke-width="1" fill="none" />
<path d="M1918.1 1210.9L1910.1 1212.6L1910.1 1209.2Z" fill="#000"/>
<path d="M2037.5 1210.9L2051.4 1210.9" stroke="#000" stroke-width="1" fill="none" />
<path d="M2037.5 1210.9L2045.5 1209.2L2045.5 1212.6Z" fill="#000"/>
<text x="1928.6" y="1191.2" font-size="20" textLength="97.1" lengthAdjust="spacing" >JAMB Size</text>
<text x="1978" y="1216" font-size="23" text-anchor="middle" fill="#888" >6”</text>
<text x="1943" y="1241.9" font-size="20" textLength="69" lengthAdjust="spacing" >Open in</text>
<path d="M2069 1116.4L2069 1173.6" stroke="#000" stroke-width="1" fill="none" />
<path d="M2048.8 1158.4L2074.3 1158.4" stroke="#000" stroke-width="1" fill="none" />
<path d="M2069 1116.6L2070.7 1124.6L2067.3 1124.6Z" fill="#000"/>
<path d="M2069 1158.2L2067.3 1150.2L2070.7 1150.2Z" fill="#000"/>
<text transform="translate(2078 1186.5) rotate(-90)" font-size="23" text-anchor="middle" fill="#888">2”</text>
<!-- part_form -->
<text x="48.9" y="1106.7" font-size="20.5" textLength="552.8" lengthAdjust="spacing" >*Size shown in PO is unit size including frame and threshold.</text>
<text x="48.9" y="1139.7" font-size="20.5" textLength="710" lengthAdjust="spacing" >*Any change once signed and sent to production might result in extra charges.</text>
<text x="55.5" y="1160.6" font-size="16" textLength="1028" lengthAdjust="spacing" >Exclusive Iron Doors stands behind the quality of everything we sell and hope you are pleased with your product, if for any reason you are unsatis</text>
<text x="1100" y="1160.6" font-size="16" textLength="211" lengthAdjust="spacing" >ed you can write to one of our</text>
<text x="55.5" y="1180.2" font-size="16" textLength="993" lengthAdjust="spacing" >representatives to verify your situation and determine how can we help you, but we do not accept returns in any of our products.Products are</text>
<text x="1069.5" y="1180.2" font-size="16" textLength="306" lengthAdjust="spacing" >nal and are not eligible for returns, changes</text>
<text x="55.5" y="1199.1" font-size="16" textLength="1142" lengthAdjust="spacing" >or alterations.By signing you agree to our terms and conditions, delivery pdf and forms of payment. *Doors measurements do not include the gaps between jambs</text>
<rect x="43" y="1213.6" width="301.3" height="279" stroke="#000" stroke-width="2.4" fill="none" />
<path d="M43 1318.5L344.3 1318.5" stroke="#000" stroke-width="3" fill="none" />
<path d="M43 1398.3L182.5 1398.3" stroke="#000" stroke-width="2.4" fill="none" />
<path d="M212.7 1398.3L344.3 1398.3" stroke="#000" stroke-width="2.4" fill="none" />
<text x="197" y="1403.5" font-size="15.8" text-anchor="middle" >or</text>
<text x="51.6" y="1239.1" font-size="15.6" textLength="81.3" lengthAdjust="spacing" >PRODUCT:</text>
<rect x="138.8" y="1223.4" width="26.8" height="22.4" stroke="#000" stroke-width="2" fill="none" /><rect x="144.3" y="1228.4" width="15.8" height="12.4" fill="#000"/>
<text x="171.5" y="1243" font-size="16.3" >Door</text>
<rect x="245.3" y="1223.4" width="26.4" height="22.4" stroke="#000" stroke-width="2" fill="none" />
<text x="277.5" y="1243" font-size="16.3" >Gate</text>
<rect x="138.8" y="1253.7" width="26.8" height="22" stroke="#000" stroke-width="2" fill="none" />
<text x="172.2" y="1273.3" font-size="16.3" >Window</text>
<rect x="245.3" y="1253.7" width="26.4" height="22" stroke="#000" stroke-width="2" fill="none" />
<text x="277.5" y="1273.3" font-size="16.3" >Railling</text>
<rect x="138.8" y="1283.5" width="26.8" height="22.4" stroke="#000" stroke-width="2" fill="none" />
<text x="171.5" y="1303.2" font-size="16.3" >Other</text>
<path d="M222.5 1304.8L332.6 1304.8" stroke="#000" stroke-width="1.8" fill="none" />
<text x="51.6" y="1342" font-size="15.6" >DESIGN:</text>
<rect x="132.9" y="1330.7" width="26.8" height="22.3" stroke="#000" stroke-width="2" fill="none" /><rect x="138.4" y="1335.7" width="15.8" height="12.3" fill="#000"/>
<text x="165.6" y="1349.2" font-size="16.3" >Wrought Iron</text>
<text x="76.4" y="1378.6" font-size="16.3" >Name:</text>
<path d="M129 1380.6L333.7 1380.6" stroke="#000" stroke-width="1.8" fill="none" />
<rect x="50.4" y="1410" width="26.8" height="21.7" stroke="#000" stroke-width="2" fill="none" />
<text x="81.9" y="1429.7" font-size="16.3" >Riva</text>
<path d="M114.5 1428.9L223.7 1428.9" stroke="#000" stroke-width="1.8" fill="none" />
<text x="234.3" y="1429.7" font-size="16.3" >#Lites</text>
<path d="M283.4 1428.9L333.7 1428.9" stroke="#000" stroke-width="1.8" fill="none" />
<rect x="50.4" y="1453.3" width="26.8" height="21.6" stroke="#000" stroke-width="2" fill="none" />
<text x="83" y="1466.2" font-size="16.3" >Standard</text>
<text x="85" y="1485.9" font-size="16.3" >(1 1/2”)</text>
<rect x="149" y="1453.3" width="26.4" height="21.6" stroke="#000" stroke-width="2" fill="none" />
<text x="181.3" y="1466.2" font-size="16.3" >Slim</text>
<text x="180.5" y="1485.9" font-size="16.3" >(1 1/4”)</text>
<rect x="233.5" y="1453.3" width="25.5" height="21.6" stroke="#000" stroke-width="2" fill="none" />
<text x="264.6" y="1466.2" font-size="16.3" >Super Slim</text>
<text x="264.6" y="1485.9" font-size="16.3" >(1/2”) SDL</text>
<rect x="344.3" y="1213.6" width="552.1" height="279" stroke="#000" stroke-width="2.4" fill="none" />
<path d="M344.3 1313L896.4 1313" stroke="#000" stroke-width="2.4" fill="none" />
<path d="M344.3 1359.8L896.4 1359.8" stroke="#000" stroke-width="2.4" fill="none" />
<path d="M344.3 1407.3L896.4 1407.3" stroke="#000" stroke-width="2.4" fill="none" />
<path d="M344.3 1444.2L896.4 1444.2" stroke="#000" stroke-width="2.4" fill="none" />
<path d="M600.5 1359.8L600.5 1407.3" stroke="#000" stroke-width="2.4" fill="none" />
<text x="351" y="1232.5" font-size="15.6" >HANDLE</text>
<rect x="419" y="1220.7" width="24.8" height="21.2" stroke="#000" stroke-width="2" fill="none" />
<text x="448.5" y="1236.4" font-size="16.3" >Iron handle:</text>
<path d="M531 1237.4L685.4 1237.4" stroke="#000" stroke-width="2" fill="none" />
<text x="448.5" y="1252.9" font-size="14.1" textLength="221" lengthAdjust="spacing" >(with rollercatch and deadbolt prep)</text>
<rect x="419" y="1254.9" width="24.8" height="20.8" stroke="#000" stroke-width="2" fill="none" />
<text x="449.6" y="1273.7" font-size="16.4" textLength="242.5" lengthAdjust="spacing" >American standard double boring</text>
<rect x="419" y="1284.3" width="24.8" height="20.8" stroke="#000" stroke-width="2" fill="none" /><rect x="424.5" y="1289.3" width="13.8" height="10.8" fill="#000"/>
<text x="449.6" y="1303.2" font-size="16.3" >Other:</text>
<text x="512.5" y="1301.5" font-size="15.5" >NA</text>
<path d="M501.5 1304.2L661.8 1304.2" stroke="#000" stroke-width="1.8" fill="none" />
<rect x="722.7" y="1220.7" width="25.6" height="21.2" stroke="#000" stroke-width="2" fill="none" />
<text x="757.7" y="1241.9" font-size="16.3" >Panic hardware</text>
<rect x="722.7" y="1251.7" width="25.6" height="20.8" stroke="#000" stroke-width="2" fill="none" />
<text x="753.8" y="1268.6" font-size="16.3" >Autocloser #</text>
<path d="M840.2 1270.5L883.4 1270.5" stroke="#000" stroke-width="1.8" fill="none" />
<rect x="722.7" y="1281.6" width="25.6" height="20.4" stroke="#000" stroke-width="2" fill="none" />
<text x="753" y="1299.3" font-size="16.3" >P. Bar #</text>
<path d="M802.1 1301.5L845.3 1301.5" stroke="#000" stroke-width="1.8" fill="none" />
<text x="351" y="1332.3" font-size="15.6" >COLOR</text>
<text x="437.5" y="1341.3" font-size="16.3" >A. copper</text>
<text x="543.6" y="1341.3" font-size="16.3" >A. bronze</text>
<text x="644.1" y="1341.3" font-size="16.3" >Pewter</text>
<rect x="720.4" y="1323.6" width="58.9" height="19.7" stroke="#000" stroke-width="2" fill="none" />
<text x="729.4" y="1341.3" font-size="16.3" >Black</text>
<path d="M729.4 1343.3L770 1343.3" stroke="#000" stroke-width="1.3" fill="none" />
<text x="808.8" y="1339.3" font-size="16.3" >See notes*</text>
<path d="M815 1341.6L881 1341.6" stroke="#000" stroke-width="1.4" fill="none" />
<text x="351.4" y="1378.6" font-size="15.6" >ACTIVE DOOR</text>
<rect x="457.1" y="1383.7" width="24" height="19.7" stroke="#000" stroke-width="2" fill="none" />
<text x="486.6" y="1401" font-size="16.3" >Right</text>
<rect x="534.9" y="1383.7" width="24.4" height="19.7" stroke="#000" stroke-width="2" fill="none" /><rect x="540.4" y="1388.7" width="13.4" height="9.7" fill="#000"/>
<text x="564.4" y="1401" font-size="16.3" >Left</text>
<text x="606.8" y="1378.6" font-size="15.6" >SWING</text>
<rect x="672.4" y="1381.8" width="24.4" height="20.4" stroke="#000" stroke-width="2" fill="none" /><rect x="677.9" y="1386.8" width="13.4" height="10.4" fill="#000"/>
<text x="701.9" y="1399" font-size="16.3" >In</text>
<rect x="738" y="1381.8" width="24" height="20.4" stroke="#000" stroke-width="2" fill="none" />
<text x="767.9" y="1399" font-size="16.3" >Out</text>
<text x="353" y="1427" font-size="15.6" >JAMB:</text>
<text x="419" y="1430.9" font-size="15.5" >6"</text>
<path d="M404 1433.6L481.9 1433.6" stroke="#000" stroke-width="1.8" fill="none" />
<text x="353" y="1465.9" font-size="15.6" textLength="96" lengthAdjust="spacing" >THRESHOLD</text>
<rect x="451.6" y="1460.4" width="24.4" height="20.4" stroke="#000" stroke-width="2" fill="none" /><rect x="457.1" y="1465.4" width="13.4" height="10.4" fill="#000"/>
<text x="481.9" y="1477.6" font-size="16.3" >Residential</text>
<rect x="565.2" y="1460.4" width="23.9" height="20.4" stroke="#000" stroke-width="2" fill="none" />
<text x="594.6" y="1477.6" font-size="16.3" >Commercial</text>
<path d="M684.2 1479.6L758.9 1479.6" stroke="#000" stroke-width="1.8" fill="none" />
<rect x="768.7" y="1460.4" width="24.4" height="20.4" stroke="#000" stroke-width="2" fill="none" />
<text x="798.2" y="1477.6" font-size="16.3" >N/A</text>
<path d="M831.6 1479.6L874.8 1479.6" stroke="#000" stroke-width="1.8" fill="none" />
<rect x="896.6" y="1213" width="547.7" height="278.4" stroke="#000" stroke-width="2.4" fill="none" />
<path d="M896.6 1259.9L1444.3 1259.9" stroke="#000" stroke-width="2.4" fill="none" />
<path d="M896.6 1301.5L1444.3 1301.5" stroke="#000" stroke-width="2.4" fill="none" />
<path d="M896.6 1355.1L1444.3 1355.1" stroke="#000" stroke-width="2.4" fill="none" />
<path d="M896.6 1402L1444.3 1402" stroke="#000" stroke-width="2.4" fill="none" />
<path d="M896.6 1451.1L1444.3 1451.1" stroke="#000" stroke-width="2.4" fill="none" />
<path d="M1093.2 1259.9L1093.2 1301.5" stroke="#000" stroke-width="2.4" fill="none" />
<path d="M1123.1 1301.5L1123.1 1355.1" stroke="#000" stroke-width="2.4" fill="none" />
<path d="M1162.6 1402L1162.6 1451.1" stroke="#000" stroke-width="2.4" fill="none" />
<path d="M1345.4 1451.1L1345.4 1491.4" stroke="#000" stroke-width="2.4" fill="none" />
<text x="911.2" y="1228.8" font-size="15.6" >DOOR/Glass type:</text>
<text x="929" y="1250.4" font-size="16.3" >Frost</text>
<text x="1007.6" y="1250.4" font-size="16.3" >Aquatex</text>
<text x="1108.5" y="1250.4" font-size="16.3" >Rain</text>
<text x="1192.5" y="1250.4" font-size="16.3" >Flemish</text>
<text x="1302.6" y="1250.4" font-size="16.3" >Clear</text>
<rect x="1402.7" y="1235.8" width="38.3" height="19.6" stroke="#000" stroke-width="2" fill="none" />
<text x="1407.7" y="1251.5" font-size="16.3" >N/A</text>
<rect x="918.2" y="1269.1" width="25" height="20.7" stroke="#000" stroke-width="2" fill="none" />
<text x="947.7" y="1286.9" font-size="16.3" >Hurricane rated</text>
<rect x="1134.3" y="1269.1" width="24.9" height="20.7" stroke="#000" stroke-width="2" fill="none" /><rect x="1139.8" y="1274.1" width="13.9" height="10.7" fill="#000"/>
<text x="1164.6" y="1286.9" font-size="16.3" >Operable</text>
<rect x="1236.1" y="1269.1" width="24.1" height="20.7" stroke="#000" stroke-width="2" fill="none" />
<text x="1265.6" y="1286.9" font-size="21.3" textLength="92.3" lengthAdjust="spacing" >Screen or</text>
<rect x="1371.2" y="1269.1" width="24.9" height="20.7" stroke="#000" stroke-width="2" fill="none" />
<text x="1400.7" y="1286.9" font-size="16.3" >Fixed</text>
<text x="913.2" y="1318.9" font-size="15.6" >TRANSOM</text>
<text x="913.7" y="1339.7" font-size="16.3" >Glass type:</text>
<path d="M990.1 1345.1L1087.8 1345.1" stroke="#000" stroke-width="1.8" fill="none" />
<text x="1131.4" y="1318.9" font-size="15.6" >SIDELIGHTS</text>
<text x="1139.7" y="1342.6" font-size="16.3" >Glass type:</text>
<path d="M1219.9 1345.1L1310.9 1345.1" stroke="#000" stroke-width="1.8" fill="none" />
<rect x="1335" y="1321.8" width="24.1" height="20.8" stroke="#000" stroke-width="2" fill="none" />
<text x="1364.9" y="1339.7" font-size="16.3" >Screen</text>
<text x="913.2" y="1373" font-size="15.6" >TRIM</text>
<rect x="958.1" y="1367.6" width="25" height="19.9" stroke="#000" stroke-width="2" fill="none" />
<text x="988" y="1384.6" font-size="16.3" >Inside</text>
<path d="M1038.7 1386.6L1090.7 1386.6" stroke="#000" stroke-width="1.8" fill="none" />
<rect x="1108.5" y="1367.6" width="24.1" height="19.9" stroke="#000" stroke-width="2" fill="none" />
<text x="1138.5" y="1384.6" font-size="16.3" >Outside</text>
<path d="M1201.2 1386.6L1253.2 1386.6" stroke="#000" stroke-width="1.8" fill="none" />
<rect x="1309.3" y="1367.6" width="24.5" height="19.9" stroke="#000" stroke-width="2" fill="none" /><rect x="1314.8" y="1372.6" width="13.5" height="9.9" fill="#000"/>
<text x="1338.3" y="1384.6" font-size="16.3" >N/A</text>
<text x="911.2" y="1420.7" font-size="15.6" >PACKAGE</text>
<rect x="993" y="1415.8" width="25" height="19.9" stroke="#000" stroke-width="2" fill="none" />
<text x="1023.4" y="1433.2" font-size="16.3" >Box</text>
<rect x="1062" y="1415.8" width="24.5" height="19.9" stroke="#000" stroke-width="2" fill="none" /><rect x="1067.5" y="1420.8" width="13.5" height="9.9" fill="#000"/>
<text x="1091.9" y="1433.2" font-size="16.3" >No box</text>
<rect x="1177.1" y="1415.8" width="24.9" height="19.9" stroke="#000" stroke-width="2" fill="none" />
<text x="1207" y="1433.2" font-size="16.3" >Install</text>
<rect x="1260.2" y="1415.8" width="25" height="19.9" stroke="#000" stroke-width="2" fill="none" />
<text x="1290.6" y="1433.2" font-size="16.3" >Delivery</text>
<rect x="1358.7" y="1415.8" width="24.9" height="19.9" stroke="#000" stroke-width="2" fill="none" /><rect x="1364.2" y="1420.8" width="13.9" height="9.9" fill="#000"/>
<text x="1388.2" y="1433.2" font-size="16.3" >LTL</text>
<text x="902.9" y="1468.5" font-size="15.6" textLength="138" lengthAdjust="spacing" >GLASS TEMPLATE</text>
<rect x="1047.5" y="1462.3" width="24.5" height="19.9" stroke="#000" stroke-width="2" fill="none" />
<text x="1078.2" y="1479.8" font-size="16.3" >Sent #Pieces</text>
<path d="M1173 1481.4L1247.8 1481.4" stroke="#000" stroke-width="1.8" fill="none" />
<rect x="1267.3" y="1460.2" width="24.9" height="20" stroke="#000" stroke-width="2" fill="none" />
<text x="1297.6" y="1477.7" font-size="16.3" >N/A</text>
<text x="1355" y="1473.9" font-size="16.3" textLength="86" lengthAdjust="spacing" >GAUGE: 14</text>
<rect x="1444.3" y="1213" width="344.9" height="277.6" stroke="#000" stroke-width="2.4" fill="none" />
<text x="1455.5" y="1241.2" font-size="20.3" >*Notes:</text>
<text x="1453.4" y="1266.2" font-size="20.4" textLength="111" lengthAdjust="spacing" fill="#e8392c" >-Color:Black</text>
</svg>
</body></html>
